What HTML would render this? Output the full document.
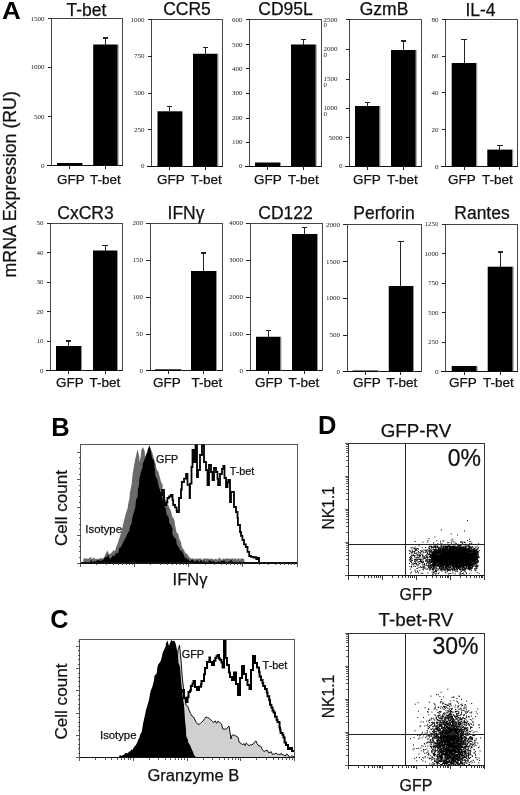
<!DOCTYPE html>
<html><head><meta charset="utf-8"><title>Figure</title>
<style>
html,body{margin:0;padding:0;background:#fff}
svg{display:block}
.s{font-family:"Liberation Sans", Arial, Helvetica, sans-serif}
.r{font-family:"Liberation Serif", "Times New Roman", serif}
</style></head><body>
<svg width="520" height="795" viewBox="0 0 520 795">
<rect width="520" height="795" fill="#fff"/>
<rect x="51.50" y="18.50" width="71.00" height="147.00" fill="none" stroke="#444" stroke-width="1" shape-rendering="crispEdges"/>
<text x="86.50" y="15.50" font-size="17.5" text-anchor="middle" class="s" font-weight="normal" fill="#111" stroke="#111" stroke-width="0.25">T-bet</text>
<line x1="47.50" y1="18.50" x2="51.50" y2="18.50" stroke="#222" stroke-width="1" shape-rendering="crispEdges"/>
<text x="44.50" y="20.70" font-size="7" text-anchor="end" class="r" font-weight="normal" fill="#222">1500</text>
<line x1="47.50" y1="67.00" x2="51.50" y2="67.00" stroke="#222" stroke-width="1" shape-rendering="crispEdges"/>
<text x="44.50" y="69.20" font-size="7" text-anchor="end" class="r" font-weight="normal" fill="#222">1000</text>
<line x1="47.50" y1="116.50" x2="51.50" y2="116.50" stroke="#222" stroke-width="1" shape-rendering="crispEdges"/>
<text x="44.50" y="118.70" font-size="7" text-anchor="end" class="r" font-weight="normal" fill="#222">500</text>
<line x1="47.50" y1="165.50" x2="51.50" y2="165.50" stroke="#222" stroke-width="1" shape-rendering="crispEdges"/>
<text x="44.50" y="167.70" font-size="7" text-anchor="end" class="r" font-weight="normal" fill="#222">0</text>
<line x1="47.00" y1="165.50" x2="122.50" y2="165.50" stroke="#111" stroke-width="1.4" shape-rendering="crispEdges"/>
<rect x="57.00" y="163.00" width="25.00" height="2.50" fill="#000"/>
<rect x="82.00" y="163.00" width="0.90" height="2.50" fill="#888"/>
<line x1="69.50" y1="165.50" x2="69.50" y2="169.00" stroke="#222" stroke-width="1" shape-rendering="crispEdges"/>
<rect x="93.20" y="44.50" width="24.50" height="121.00" fill="#000"/>
<rect x="117.70" y="44.50" width="0.90" height="121.00" fill="#888"/>
<line x1="105.45" y1="38.00" x2="105.45" y2="44.50" stroke="#222" stroke-width="1" shape-rendering="crispEdges"/>
<line x1="102.75" y1="38.00" x2="108.15" y2="38.00" stroke="#222" stroke-width="1.2" shape-rendering="crispEdges"/>
<line x1="105.45" y1="165.50" x2="105.45" y2="169.00" stroke="#222" stroke-width="1" shape-rendering="crispEdges"/>
<text x="71.00" y="184.00" font-size="13.5" text-anchor="middle" class="s" font-weight="normal" fill="#111" stroke="#111" stroke-width="0.25">GFP</text>
<text x="105.50" y="184.00" font-size="13.5" text-anchor="middle" class="s" font-weight="normal" fill="#111" stroke="#111" stroke-width="0.25">T-bet</text>
<rect x="151.50" y="19.50" width="71.00" height="147.00" fill="none" stroke="#444" stroke-width="1" shape-rendering="crispEdges"/>
<text x="187.00" y="15.25" font-size="17.5" text-anchor="middle" class="s" font-weight="normal" fill="#111" stroke="#111" stroke-width="0.25">CCR5</text>
<line x1="147.50" y1="19.50" x2="151.50" y2="19.50" stroke="#222" stroke-width="1" shape-rendering="crispEdges"/>
<text x="144.50" y="21.70" font-size="7" text-anchor="end" class="r" font-weight="normal" fill="#222">1000</text>
<line x1="147.50" y1="56.00" x2="151.50" y2="56.00" stroke="#222" stroke-width="1" shape-rendering="crispEdges"/>
<text x="144.50" y="58.20" font-size="7" text-anchor="end" class="r" font-weight="normal" fill="#222">750</text>
<line x1="147.50" y1="93.00" x2="151.50" y2="93.00" stroke="#222" stroke-width="1" shape-rendering="crispEdges"/>
<text x="144.50" y="95.20" font-size="7" text-anchor="end" class="r" font-weight="normal" fill="#222">500</text>
<line x1="147.50" y1="129.50" x2="151.50" y2="129.50" stroke="#222" stroke-width="1" shape-rendering="crispEdges"/>
<text x="144.50" y="131.70" font-size="7" text-anchor="end" class="r" font-weight="normal" fill="#222">250</text>
<line x1="147.50" y1="166.00" x2="151.50" y2="166.00" stroke="#222" stroke-width="1" shape-rendering="crispEdges"/>
<text x="144.50" y="168.20" font-size="7" text-anchor="end" class="r" font-weight="normal" fill="#222">0</text>
<line x1="147.00" y1="166.50" x2="222.50" y2="166.50" stroke="#111" stroke-width="1.4" shape-rendering="crispEdges"/>
<rect x="157.50" y="111.30" width="24.50" height="55.20" fill="#000"/>
<rect x="182.00" y="111.30" width="0.90" height="55.20" fill="#888"/>
<line x1="169.75" y1="106.50" x2="169.75" y2="111.30" stroke="#222" stroke-width="1" shape-rendering="crispEdges"/>
<line x1="167.05" y1="106.50" x2="172.45" y2="106.50" stroke="#222" stroke-width="1.2" shape-rendering="crispEdges"/>
<line x1="169.75" y1="166.50" x2="169.75" y2="170.00" stroke="#222" stroke-width="1" shape-rendering="crispEdges"/>
<rect x="193.00" y="53.75" width="24.50" height="112.75" fill="#000"/>
<rect x="217.50" y="53.75" width="0.90" height="112.75" fill="#888"/>
<line x1="205.25" y1="47.50" x2="205.25" y2="53.75" stroke="#222" stroke-width="1" shape-rendering="crispEdges"/>
<line x1="202.55" y1="47.50" x2="207.95" y2="47.50" stroke="#222" stroke-width="1.2" shape-rendering="crispEdges"/>
<line x1="205.25" y1="166.50" x2="205.25" y2="170.00" stroke="#222" stroke-width="1" shape-rendering="crispEdges"/>
<text x="171.00" y="184.00" font-size="13.5" text-anchor="middle" class="s" font-weight="normal" fill="#111" stroke="#111" stroke-width="0.25">GFP</text>
<text x="206.50" y="184.00" font-size="13.5" text-anchor="middle" class="s" font-weight="normal" fill="#111" stroke="#111" stroke-width="0.25">T-bet</text>
<rect x="249.50" y="19.50" width="72.00" height="147.00" fill="none" stroke="#444" stroke-width="1" shape-rendering="crispEdges"/>
<text x="285.50" y="14.60" font-size="17.5" text-anchor="middle" class="s" font-weight="normal" fill="#111" stroke="#111" stroke-width="0.25">CD95L</text>
<line x1="245.50" y1="19.50" x2="249.50" y2="19.50" stroke="#222" stroke-width="1" shape-rendering="crispEdges"/>
<text x="242.50" y="21.70" font-size="7" text-anchor="end" class="r" font-weight="normal" fill="#222">600</text>
<line x1="245.50" y1="44.50" x2="249.50" y2="44.50" stroke="#222" stroke-width="1" shape-rendering="crispEdges"/>
<text x="242.50" y="46.70" font-size="7" text-anchor="end" class="r" font-weight="normal" fill="#222">500</text>
<line x1="245.50" y1="68.50" x2="249.50" y2="68.50" stroke="#222" stroke-width="1" shape-rendering="crispEdges"/>
<text x="242.50" y="70.70" font-size="7" text-anchor="end" class="r" font-weight="normal" fill="#222">400</text>
<line x1="245.50" y1="93.00" x2="249.50" y2="93.00" stroke="#222" stroke-width="1" shape-rendering="crispEdges"/>
<text x="242.50" y="95.20" font-size="7" text-anchor="end" class="r" font-weight="normal" fill="#222">300</text>
<line x1="245.50" y1="118.00" x2="249.50" y2="118.00" stroke="#222" stroke-width="1" shape-rendering="crispEdges"/>
<text x="242.50" y="120.20" font-size="7" text-anchor="end" class="r" font-weight="normal" fill="#222">200</text>
<line x1="245.50" y1="142.00" x2="249.50" y2="142.00" stroke="#222" stroke-width="1" shape-rendering="crispEdges"/>
<text x="242.50" y="144.20" font-size="7" text-anchor="end" class="r" font-weight="normal" fill="#222">100</text>
<line x1="245.50" y1="166.00" x2="249.50" y2="166.00" stroke="#222" stroke-width="1" shape-rendering="crispEdges"/>
<text x="242.50" y="168.20" font-size="7" text-anchor="end" class="r" font-weight="normal" fill="#222">0</text>
<line x1="245.00" y1="166.50" x2="321.50" y2="166.50" stroke="#111" stroke-width="1.4" shape-rendering="crispEdges"/>
<rect x="255.00" y="162.50" width="25.00" height="4.00" fill="#000"/>
<rect x="280.00" y="162.50" width="0.90" height="4.00" fill="#888"/>
<line x1="267.50" y1="166.50" x2="267.50" y2="170.00" stroke="#222" stroke-width="1" shape-rendering="crispEdges"/>
<rect x="291.00" y="44.50" width="24.75" height="122.00" fill="#000"/>
<rect x="315.75" y="44.50" width="0.90" height="122.00" fill="#888"/>
<line x1="303.38" y1="39.50" x2="303.38" y2="44.50" stroke="#222" stroke-width="1" shape-rendering="crispEdges"/>
<line x1="300.68" y1="39.50" x2="306.07" y2="39.50" stroke="#222" stroke-width="1.2" shape-rendering="crispEdges"/>
<line x1="303.38" y1="166.50" x2="303.38" y2="170.00" stroke="#222" stroke-width="1" shape-rendering="crispEdges"/>
<text x="268.00" y="184.00" font-size="13.5" text-anchor="middle" class="s" font-weight="normal" fill="#111" stroke="#111" stroke-width="0.25">GFP</text>
<text x="303.50" y="184.00" font-size="13.5" text-anchor="middle" class="s" font-weight="normal" fill="#111" stroke="#111" stroke-width="0.25">T-bet</text>
<rect x="349.50" y="19.50" width="72.00" height="147.00" fill="none" stroke="#444" stroke-width="1" shape-rendering="crispEdges"/>
<text x="384.00" y="14.60" font-size="17.5" text-anchor="middle" class="s" font-weight="normal" fill="#111" stroke="#111" stroke-width="0.25">GzmB</text>
<line x1="345.50" y1="19.50" x2="349.50" y2="19.50" stroke="#222" stroke-width="1" shape-rendering="crispEdges"/>
<text x="323.50" y="21.50" font-size="7" text-anchor="start" class="r" font-weight="normal" fill="#222">2500</text>
<text x="323.50" y="27.40" font-size="7" text-anchor="start" class="r" font-weight="normal" fill="#222">0</text>
<line x1="345.50" y1="49.00" x2="349.50" y2="49.00" stroke="#222" stroke-width="1" shape-rendering="crispEdges"/>
<text x="323.50" y="51.00" font-size="7" text-anchor="start" class="r" font-weight="normal" fill="#222">2000</text>
<text x="323.50" y="56.90" font-size="7" text-anchor="start" class="r" font-weight="normal" fill="#222">0</text>
<line x1="345.50" y1="79.00" x2="349.50" y2="79.00" stroke="#222" stroke-width="1" shape-rendering="crispEdges"/>
<text x="323.50" y="81.00" font-size="7" text-anchor="start" class="r" font-weight="normal" fill="#222">1500</text>
<text x="323.50" y="86.90" font-size="7" text-anchor="start" class="r" font-weight="normal" fill="#222">0</text>
<line x1="345.50" y1="108.00" x2="349.50" y2="108.00" stroke="#222" stroke-width="1" shape-rendering="crispEdges"/>
<text x="323.50" y="110.00" font-size="7" text-anchor="start" class="r" font-weight="normal" fill="#222">1000</text>
<text x="323.50" y="115.90" font-size="7" text-anchor="start" class="r" font-weight="normal" fill="#222">0</text>
<line x1="345.50" y1="137.50" x2="349.50" y2="137.50" stroke="#222" stroke-width="1" shape-rendering="crispEdges"/>
<text x="342.50" y="139.70" font-size="7" text-anchor="end" class="r" font-weight="normal" fill="#222">5000</text>
<line x1="345.50" y1="166.00" x2="349.50" y2="166.00" stroke="#222" stroke-width="1" shape-rendering="crispEdges"/>
<text x="342.50" y="168.20" font-size="7" text-anchor="end" class="r" font-weight="normal" fill="#222">0</text>
<line x1="345.00" y1="166.50" x2="421.50" y2="166.50" stroke="#111" stroke-width="1.4" shape-rendering="crispEdges"/>
<rect x="355.00" y="106.00" width="24.50" height="60.50" fill="#000"/>
<rect x="379.50" y="106.00" width="0.90" height="60.50" fill="#888"/>
<line x1="367.25" y1="102.50" x2="367.25" y2="106.00" stroke="#222" stroke-width="1" shape-rendering="crispEdges"/>
<line x1="364.55" y1="102.50" x2="369.95" y2="102.50" stroke="#222" stroke-width="1.2" shape-rendering="crispEdges"/>
<line x1="367.25" y1="166.50" x2="367.25" y2="170.00" stroke="#222" stroke-width="1" shape-rendering="crispEdges"/>
<rect x="391.00" y="50.00" width="24.75" height="116.50" fill="#000"/>
<rect x="415.75" y="50.00" width="0.90" height="116.50" fill="#888"/>
<line x1="403.38" y1="41.00" x2="403.38" y2="50.00" stroke="#222" stroke-width="1" shape-rendering="crispEdges"/>
<line x1="400.68" y1="41.00" x2="406.07" y2="41.00" stroke="#222" stroke-width="1.2" shape-rendering="crispEdges"/>
<line x1="403.38" y1="166.50" x2="403.38" y2="170.00" stroke="#222" stroke-width="1" shape-rendering="crispEdges"/>
<text x="367.00" y="184.00" font-size="13.5" text-anchor="middle" class="s" font-weight="normal" fill="#111" stroke="#111" stroke-width="0.25">GFP</text>
<text x="402.50" y="184.00" font-size="13.5" text-anchor="middle" class="s" font-weight="normal" fill="#111" stroke="#111" stroke-width="0.25">T-bet</text>
<rect x="445.50" y="19.50" width="72.00" height="147.00" fill="none" stroke="#444" stroke-width="1" shape-rendering="crispEdges"/>
<text x="480.50" y="15.80" font-size="17.5" text-anchor="middle" class="s" font-weight="normal" fill="#111" stroke="#111" stroke-width="0.25">IL-4</text>
<line x1="441.50" y1="19.50" x2="445.50" y2="19.50" stroke="#222" stroke-width="1" shape-rendering="crispEdges"/>
<text x="438.50" y="21.70" font-size="7" text-anchor="end" class="r" font-weight="normal" fill="#222">80</text>
<line x1="441.50" y1="56.00" x2="445.50" y2="56.00" stroke="#222" stroke-width="1" shape-rendering="crispEdges"/>
<text x="438.50" y="58.20" font-size="7" text-anchor="end" class="r" font-weight="normal" fill="#222">60</text>
<line x1="441.50" y1="92.50" x2="445.50" y2="92.50" stroke="#222" stroke-width="1" shape-rendering="crispEdges"/>
<text x="438.50" y="94.70" font-size="7" text-anchor="end" class="r" font-weight="normal" fill="#222">40</text>
<line x1="441.50" y1="129.50" x2="445.50" y2="129.50" stroke="#222" stroke-width="1" shape-rendering="crispEdges"/>
<text x="438.50" y="131.70" font-size="7" text-anchor="end" class="r" font-weight="normal" fill="#222">20</text>
<line x1="441.50" y1="166.50" x2="445.50" y2="166.50" stroke="#222" stroke-width="1" shape-rendering="crispEdges"/>
<text x="438.50" y="168.70" font-size="7" text-anchor="end" class="r" font-weight="normal" fill="#222">0</text>
<line x1="441.00" y1="166.50" x2="517.50" y2="166.50" stroke="#111" stroke-width="1.4" shape-rendering="crispEdges"/>
<rect x="451.70" y="63.00" width="24.60" height="103.50" fill="#000"/>
<rect x="476.30" y="63.00" width="0.90" height="103.50" fill="#888"/>
<line x1="464.00" y1="39.40" x2="464.00" y2="63.00" stroke="#222" stroke-width="1" shape-rendering="crispEdges"/>
<line x1="461.30" y1="39.40" x2="466.70" y2="39.40" stroke="#222" stroke-width="1.2" shape-rendering="crispEdges"/>
<line x1="464.00" y1="166.50" x2="464.00" y2="170.00" stroke="#222" stroke-width="1" shape-rendering="crispEdges"/>
<rect x="487.30" y="149.60" width="25.00" height="16.90" fill="#000"/>
<rect x="512.30" y="149.60" width="0.90" height="16.90" fill="#888"/>
<line x1="499.80" y1="145.20" x2="499.80" y2="149.60" stroke="#222" stroke-width="1" shape-rendering="crispEdges"/>
<line x1="497.10" y1="145.20" x2="502.50" y2="145.20" stroke="#222" stroke-width="1.2" shape-rendering="crispEdges"/>
<line x1="499.80" y1="166.50" x2="499.80" y2="170.00" stroke="#222" stroke-width="1" shape-rendering="crispEdges"/>
<text x="462.00" y="184.00" font-size="13.5" text-anchor="middle" class="s" font-weight="normal" fill="#111" stroke="#111" stroke-width="0.25">GFP</text>
<text x="497.50" y="184.00" font-size="13.5" text-anchor="middle" class="s" font-weight="normal" fill="#111" stroke="#111" stroke-width="0.25">T-bet</text>
<rect x="50.50" y="223.25" width="72.00" height="147.50" fill="none" stroke="#444" stroke-width="1" shape-rendering="crispEdges"/>
<text x="85.50" y="219.40" font-size="17.5" text-anchor="middle" class="s" font-weight="normal" fill="#111" stroke="#111" stroke-width="0.25">CxCR3</text>
<line x1="46.50" y1="223.25" x2="50.50" y2="223.25" stroke="#222" stroke-width="1" shape-rendering="crispEdges"/>
<text x="43.50" y="225.45" font-size="7" text-anchor="end" class="r" font-weight="normal" fill="#222">50</text>
<line x1="46.50" y1="252.50" x2="50.50" y2="252.50" stroke="#222" stroke-width="1" shape-rendering="crispEdges"/>
<text x="43.50" y="254.70" font-size="7" text-anchor="end" class="r" font-weight="normal" fill="#222">40</text>
<line x1="46.50" y1="282.00" x2="50.50" y2="282.00" stroke="#222" stroke-width="1" shape-rendering="crispEdges"/>
<text x="43.50" y="284.20" font-size="7" text-anchor="end" class="r" font-weight="normal" fill="#222">30</text>
<line x1="46.50" y1="311.50" x2="50.50" y2="311.50" stroke="#222" stroke-width="1" shape-rendering="crispEdges"/>
<text x="43.50" y="313.70" font-size="7" text-anchor="end" class="r" font-weight="normal" fill="#222">20</text>
<line x1="46.50" y1="341.00" x2="50.50" y2="341.00" stroke="#222" stroke-width="1" shape-rendering="crispEdges"/>
<text x="43.50" y="343.20" font-size="7" text-anchor="end" class="r" font-weight="normal" fill="#222">10</text>
<line x1="46.50" y1="370.75" x2="50.50" y2="370.75" stroke="#222" stroke-width="1" shape-rendering="crispEdges"/>
<text x="43.50" y="372.95" font-size="7" text-anchor="end" class="r" font-weight="normal" fill="#222">0</text>
<line x1="46.00" y1="370.75" x2="122.50" y2="370.75" stroke="#111" stroke-width="1.4" shape-rendering="crispEdges"/>
<rect x="56.00" y="346.00" width="25.00" height="24.75" fill="#000"/>
<rect x="81.00" y="346.00" width="0.90" height="24.75" fill="#888"/>
<line x1="68.50" y1="341.00" x2="68.50" y2="346.00" stroke="#222" stroke-width="1" shape-rendering="crispEdges"/>
<line x1="65.80" y1="341.00" x2="71.20" y2="341.00" stroke="#222" stroke-width="1.2" shape-rendering="crispEdges"/>
<line x1="68.50" y1="370.75" x2="68.50" y2="374.25" stroke="#222" stroke-width="1" shape-rendering="crispEdges"/>
<rect x="93.00" y="250.50" width="24.00" height="120.25" fill="#000"/>
<rect x="117.00" y="250.50" width="0.90" height="120.25" fill="#888"/>
<line x1="105.00" y1="245.75" x2="105.00" y2="250.50" stroke="#222" stroke-width="1" shape-rendering="crispEdges"/>
<line x1="102.30" y1="245.75" x2="107.70" y2="245.75" stroke="#222" stroke-width="1.2" shape-rendering="crispEdges"/>
<line x1="105.00" y1="370.75" x2="105.00" y2="374.25" stroke="#222" stroke-width="1" shape-rendering="crispEdges"/>
<text x="70.00" y="387.30" font-size="13.5" text-anchor="middle" class="s" font-weight="normal" fill="#111" stroke="#111" stroke-width="0.25">GFP</text>
<text x="105.00" y="387.30" font-size="13.5" text-anchor="middle" class="s" font-weight="normal" fill="#111" stroke="#111" stroke-width="0.25">T-bet</text>
<rect x="150.00" y="223.25" width="72.00" height="147.50" fill="none" stroke="#444" stroke-width="1" shape-rendering="crispEdges"/>
<text x="186.00" y="219.40" font-size="17.5" text-anchor="middle" class="s" font-weight="normal" fill="#111" stroke="#111" stroke-width="0.25">IFNγ</text>
<line x1="146.00" y1="223.25" x2="150.00" y2="223.25" stroke="#222" stroke-width="1" shape-rendering="crispEdges"/>
<text x="143.00" y="225.45" font-size="7" text-anchor="end" class="r" font-weight="normal" fill="#222">200</text>
<line x1="146.00" y1="260.00" x2="150.00" y2="260.00" stroke="#222" stroke-width="1" shape-rendering="crispEdges"/>
<text x="143.00" y="262.20" font-size="7" text-anchor="end" class="r" font-weight="normal" fill="#222">150</text>
<line x1="146.00" y1="297.00" x2="150.00" y2="297.00" stroke="#222" stroke-width="1" shape-rendering="crispEdges"/>
<text x="143.00" y="299.20" font-size="7" text-anchor="end" class="r" font-weight="normal" fill="#222">100</text>
<line x1="146.00" y1="334.00" x2="150.00" y2="334.00" stroke="#222" stroke-width="1" shape-rendering="crispEdges"/>
<text x="143.00" y="336.20" font-size="7" text-anchor="end" class="r" font-weight="normal" fill="#222">50</text>
<line x1="146.00" y1="370.75" x2="150.00" y2="370.75" stroke="#222" stroke-width="1" shape-rendering="crispEdges"/>
<text x="143.00" y="372.95" font-size="7" text-anchor="end" class="r" font-weight="normal" fill="#222">0</text>
<line x1="145.50" y1="370.75" x2="222.00" y2="370.75" stroke="#111" stroke-width="1.4" shape-rendering="crispEdges"/>
<rect x="155.00" y="369.30" width="26.00" height="1.45" fill="#000"/>
<rect x="181.00" y="369.30" width="0.90" height="1.45" fill="#888"/>
<line x1="168.00" y1="370.75" x2="168.00" y2="374.25" stroke="#222" stroke-width="1" shape-rendering="crispEdges"/>
<rect x="191.00" y="271.00" width="25.00" height="99.75" fill="#000"/>
<rect x="216.00" y="271.00" width="0.90" height="99.75" fill="#888"/>
<line x1="203.50" y1="253.00" x2="203.50" y2="271.00" stroke="#222" stroke-width="1" shape-rendering="crispEdges"/>
<line x1="200.80" y1="253.00" x2="206.20" y2="253.00" stroke="#222" stroke-width="1.2" shape-rendering="crispEdges"/>
<line x1="203.50" y1="370.75" x2="203.50" y2="374.25" stroke="#222" stroke-width="1" shape-rendering="crispEdges"/>
<text x="167.00" y="387.30" font-size="13.5" text-anchor="middle" class="s" font-weight="normal" fill="#111" stroke="#111" stroke-width="0.25">GFP</text>
<text x="207.00" y="387.30" font-size="13.5" text-anchor="middle" class="s" font-weight="normal" fill="#111" stroke="#111" stroke-width="0.25">T-bet</text>
<rect x="250.00" y="223.00" width="72.00" height="147.75" fill="none" stroke="#444" stroke-width="1" shape-rendering="crispEdges"/>
<text x="285.50" y="218.70" font-size="17.5" text-anchor="middle" class="s" font-weight="normal" fill="#111" stroke="#111" stroke-width="0.25">CD122</text>
<line x1="246.00" y1="223.25" x2="250.00" y2="223.25" stroke="#222" stroke-width="1" shape-rendering="crispEdges"/>
<text x="243.00" y="225.45" font-size="7" text-anchor="end" class="r" font-weight="normal" fill="#222">4000</text>
<line x1="246.00" y1="260.00" x2="250.00" y2="260.00" stroke="#222" stroke-width="1" shape-rendering="crispEdges"/>
<text x="243.00" y="262.20" font-size="7" text-anchor="end" class="r" font-weight="normal" fill="#222">3000</text>
<line x1="246.00" y1="297.00" x2="250.00" y2="297.00" stroke="#222" stroke-width="1" shape-rendering="crispEdges"/>
<text x="243.00" y="299.20" font-size="7" text-anchor="end" class="r" font-weight="normal" fill="#222">2000</text>
<line x1="246.00" y1="334.00" x2="250.00" y2="334.00" stroke="#222" stroke-width="1" shape-rendering="crispEdges"/>
<text x="243.00" y="336.20" font-size="7" text-anchor="end" class="r" font-weight="normal" fill="#222">1000</text>
<line x1="246.00" y1="370.75" x2="250.00" y2="370.75" stroke="#222" stroke-width="1" shape-rendering="crispEdges"/>
<text x="243.00" y="372.95" font-size="7" text-anchor="end" class="r" font-weight="normal" fill="#222">0</text>
<line x1="245.50" y1="370.75" x2="322.00" y2="370.75" stroke="#111" stroke-width="1.4" shape-rendering="crispEdges"/>
<rect x="256.00" y="336.75" width="24.50" height="34.00" fill="#000"/>
<rect x="280.50" y="336.75" width="0.90" height="34.00" fill="#888"/>
<line x1="268.25" y1="330.75" x2="268.25" y2="336.75" stroke="#222" stroke-width="1" shape-rendering="crispEdges"/>
<line x1="265.55" y1="330.75" x2="270.95" y2="330.75" stroke="#222" stroke-width="1.2" shape-rendering="crispEdges"/>
<line x1="268.25" y1="370.75" x2="268.25" y2="374.25" stroke="#222" stroke-width="1" shape-rendering="crispEdges"/>
<rect x="292.00" y="234.00" width="25.00" height="136.75" fill="#000"/>
<rect x="317.00" y="234.00" width="0.90" height="136.75" fill="#888"/>
<line x1="304.50" y1="227.50" x2="304.50" y2="234.00" stroke="#222" stroke-width="1" shape-rendering="crispEdges"/>
<line x1="301.80" y1="227.50" x2="307.20" y2="227.50" stroke="#222" stroke-width="1.2" shape-rendering="crispEdges"/>
<line x1="304.50" y1="370.75" x2="304.50" y2="374.25" stroke="#222" stroke-width="1" shape-rendering="crispEdges"/>
<text x="269.00" y="387.30" font-size="13.5" text-anchor="middle" class="s" font-weight="normal" fill="#111" stroke="#111" stroke-width="0.25">GFP</text>
<text x="304.00" y="387.30" font-size="13.5" text-anchor="middle" class="s" font-weight="normal" fill="#111" stroke="#111" stroke-width="0.25">T-bet</text>
<rect x="347.00" y="224.50" width="74.00" height="147.25" fill="none" stroke="#444" stroke-width="1" shape-rendering="crispEdges"/>
<text x="384.00" y="218.60" font-size="17.5" text-anchor="middle" class="s" font-weight="normal" fill="#111" stroke="#111" stroke-width="0.25">Perforin</text>
<line x1="343.00" y1="224.50" x2="347.00" y2="224.50" stroke="#222" stroke-width="1" shape-rendering="crispEdges"/>
<text x="340.00" y="226.70" font-size="7" text-anchor="end" class="r" font-weight="normal" fill="#222">2000</text>
<line x1="343.00" y1="261.50" x2="347.00" y2="261.50" stroke="#222" stroke-width="1" shape-rendering="crispEdges"/>
<text x="340.00" y="263.70" font-size="7" text-anchor="end" class="r" font-weight="normal" fill="#222">1500</text>
<line x1="343.00" y1="298.00" x2="347.00" y2="298.00" stroke="#222" stroke-width="1" shape-rendering="crispEdges"/>
<text x="340.00" y="300.20" font-size="7" text-anchor="end" class="r" font-weight="normal" fill="#222">1000</text>
<line x1="343.00" y1="335.00" x2="347.00" y2="335.00" stroke="#222" stroke-width="1" shape-rendering="crispEdges"/>
<text x="340.00" y="337.20" font-size="7" text-anchor="end" class="r" font-weight="normal" fill="#222">500</text>
<line x1="343.00" y1="371.75" x2="347.00" y2="371.75" stroke="#222" stroke-width="1" shape-rendering="crispEdges"/>
<text x="340.00" y="373.95" font-size="7" text-anchor="end" class="r" font-weight="normal" fill="#222">0</text>
<line x1="342.50" y1="371.75" x2="421.00" y2="371.75" stroke="#111" stroke-width="1.4" shape-rendering="crispEdges"/>
<rect x="352.50" y="370.50" width="25.50" height="1.25" fill="#000"/>
<rect x="378.00" y="370.50" width="0.90" height="1.25" fill="#888"/>
<line x1="365.25" y1="371.75" x2="365.25" y2="375.25" stroke="#222" stroke-width="1" shape-rendering="crispEdges"/>
<rect x="388.75" y="286.00" width="24.25" height="85.75" fill="#000"/>
<rect x="413.00" y="286.00" width="0.90" height="85.75" fill="#888"/>
<line x1="400.88" y1="241.75" x2="400.88" y2="286.00" stroke="#222" stroke-width="1" shape-rendering="crispEdges"/>
<line x1="398.18" y1="241.75" x2="403.57" y2="241.75" stroke="#222" stroke-width="1.2" shape-rendering="crispEdges"/>
<line x1="400.88" y1="371.75" x2="400.88" y2="375.25" stroke="#222" stroke-width="1" shape-rendering="crispEdges"/>
<text x="367.00" y="387.30" font-size="13.5" text-anchor="middle" class="s" font-weight="normal" fill="#111" stroke="#111" stroke-width="0.25">GFP</text>
<text x="402.00" y="387.30" font-size="13.5" text-anchor="middle" class="s" font-weight="normal" fill="#111" stroke="#111" stroke-width="0.25">T-bet</text>
<rect x="445.50" y="224.00" width="72.00" height="147.30" fill="none" stroke="#444" stroke-width="1" shape-rendering="crispEdges"/>
<text x="482.00" y="218.70" font-size="17.5" text-anchor="middle" class="s" font-weight="normal" fill="#111" stroke="#111" stroke-width="0.25">Rantes</text>
<line x1="441.50" y1="224.20" x2="445.50" y2="224.20" stroke="#222" stroke-width="1" shape-rendering="crispEdges"/>
<text x="438.50" y="226.40" font-size="7" text-anchor="end" class="r" font-weight="normal" fill="#222">1250</text>
<line x1="441.50" y1="253.30" x2="445.50" y2="253.30" stroke="#222" stroke-width="1" shape-rendering="crispEdges"/>
<text x="438.50" y="255.50" font-size="7" text-anchor="end" class="r" font-weight="normal" fill="#222">1000</text>
<line x1="441.50" y1="283.00" x2="445.50" y2="283.00" stroke="#222" stroke-width="1" shape-rendering="crispEdges"/>
<text x="438.50" y="285.20" font-size="7" text-anchor="end" class="r" font-weight="normal" fill="#222">750</text>
<line x1="441.50" y1="312.50" x2="445.50" y2="312.50" stroke="#222" stroke-width="1" shape-rendering="crispEdges"/>
<text x="438.50" y="314.70" font-size="7" text-anchor="end" class="r" font-weight="normal" fill="#222">500</text>
<line x1="441.50" y1="342.00" x2="445.50" y2="342.00" stroke="#222" stroke-width="1" shape-rendering="crispEdges"/>
<text x="438.50" y="344.20" font-size="7" text-anchor="end" class="r" font-weight="normal" fill="#222">250</text>
<line x1="441.50" y1="371.30" x2="445.50" y2="371.30" stroke="#222" stroke-width="1" shape-rendering="crispEdges"/>
<text x="438.50" y="373.50" font-size="7" text-anchor="end" class="r" font-weight="normal" fill="#222">0</text>
<line x1="441.00" y1="371.30" x2="517.50" y2="371.30" stroke="#111" stroke-width="1.4" shape-rendering="crispEdges"/>
<rect x="451.70" y="366.00" width="25.00" height="5.30" fill="#000"/>
<rect x="476.70" y="366.00" width="0.90" height="5.30" fill="#888"/>
<line x1="464.20" y1="371.30" x2="464.20" y2="374.80" stroke="#222" stroke-width="1" shape-rendering="crispEdges"/>
<rect x="487.70" y="266.70" width="25.00" height="104.60" fill="#000"/>
<rect x="512.70" y="266.70" width="0.90" height="104.60" fill="#888"/>
<line x1="500.20" y1="252.00" x2="500.20" y2="266.70" stroke="#222" stroke-width="1" shape-rendering="crispEdges"/>
<line x1="497.50" y1="252.00" x2="502.90" y2="252.00" stroke="#222" stroke-width="1.2" shape-rendering="crispEdges"/>
<line x1="500.20" y1="371.30" x2="500.20" y2="374.80" stroke="#222" stroke-width="1" shape-rendering="crispEdges"/>
<text x="463.00" y="387.30" font-size="13.5" text-anchor="middle" class="s" font-weight="normal" fill="#111" stroke="#111" stroke-width="0.25">GFP</text>
<text x="498.50" y="387.30" font-size="13.5" text-anchor="middle" class="s" font-weight="normal" fill="#111" stroke="#111" stroke-width="0.25">T-bet</text>
<text transform="translate(2,18.8) scale(1.06,1)" font-size="24.5" class="s" font-weight="bold" fill="#000">A</text>
<text transform="translate(51.2,436) scale(1.02,1)" font-size="25" class="s" font-weight="bold" fill="#000">B</text>
<text transform="translate(50.2,627.6)" font-size="25.2" class="s" font-weight="bold" fill="#000">C</text>
<text transform="translate(318,434) scale(1.02,1)" font-size="25" class="s" font-weight="bold" fill="#000">D</text>
<text transform="translate(16.1,184.3) rotate(-90) scale(1,1.03)" font-size="17.75" text-anchor="middle" class="s" fill="#111" stroke="#111" stroke-width="0.25">mRNA Expression (RU)</text>
<rect x="80.50" y="444.00" width="216.50" height="119.00" fill="none" stroke="#555" stroke-width="1" shape-rendering="crispEdges"/>
<path d="M83.0 563.0 L83.6 558.6 L84.6 558.0 L85.7 558.7 L86.7 558.2 L87.7 558.8 L88.8 558.8 L89.8 557.4 L90.9 557.3 L91.9 559.3 L92.9 557.9 L94.0 557.8 L95.0 558.4 L96.0 559.6 L97.0 558.4 L98.0 559.2 L99.0 558.4 L100.0 558.8 L101.0 557.6 L102.0 558.8 L103.0 558.5 L104.3 557.1 L105.5 554.0 L107.4 550.6 L109.0 554.0 L110.0 554.1 L111.0 553.0 L112.1 552.5 L113.2 550.2 L114.4 550.9 L115.5 549.4 L116.1 546.9 L117.5 544.0 L119.2 538.8 L121.0 533.0 L122.4 527.5 L124.2 520.0 L126.0 513.0 L127.7 507.9 L128.0 505.0 L129.4 498.4 L130.0 492.0 L131.6 484.4 L132.5 475.0 L133.6 468.5 L135.0 460.0 L136.2 455.2 L137.5 449.0 L139.2 456.5 L139.5 462.0 L141.0 455.0 L141.3 450.0 L143.0 447.0 L144.8 451.8 L145.0 458.0 L146.2 454.8 L147.0 452.0 L148.3 448.0 L149.5 445.0 L150.4 448.1 L152.0 451.9 L153.0 455.0 L154.3 459.7 L155.6 463.5 L156.3 467.4 L157.0 470.0 L158.6 472.2 L159.7 477.1 L160.4 479.2 L161.0 482.0 L162.6 484.6 L162.6 488.7 L164.6 490.7 L165.0 495.0 L165.3 499.2 L166.8 501.7 L167.6 503.2 L169.0 507.0 L170.7 510.6 L171.2 511.9 L172.0 516.0 L173.4 517.9 L174.7 521.6 L175.0 525.0 L176.0 529.4 L176.7 532.7 L178.2 533.7 L179.0 538.0 L179.5 539.3 L181.2 542.6 L181.2 544.4 L182.7 548.5 L184.0 550.0 L185.0 552.4 L186.0 553.6 L187.0 553.7 L188.0 555.2 L189.0 556.7 L190.0 558.0 L191.0 558.4 L192.0 558.4 L193.0 558.4 L194.0 558.6 L195.0 559.5 L196.0 558.5 L197.0 558.4 L198.0 559.2 L199.0 558.1 L200.0 558.8 L201.0 558.3 L202.0 560.0 L203.0 558.9 L204.0 559.0 L205.0 557.7 L206.0 558.7 L207.0 559.1 L208.0 557.8 L209.0 559.2 L210.0 559.3 L211.0 557.9 L212.0 559.3 L213.0 558.9 L214.0 559.4 L215.0 559.0 L216.0 558.6 L217.0 559.5 L218.0 559.5 L219.0 557.8 L220.0 557.9 L221.0 559.3 L222.0 560.0 L223.0 558.3 L224.0 558.8 L225.0 559.1 L226.0 558.4 L227.0 558.5 L228.0 558.4 L229.0 558.5 L230.0 558.8 L231.0 559.0 L232.0 558.3 L233.0 558.5 L234.0 559.5 L235.0 557.7 L236.0 559.1 L237.0 559.5 L238.0 558.5 L239.0 558.3 L240.0 559.7 L241.0 558.3 L242.0 558.2 L243.0 558.8 L244.0 559.0 L245.0 563.0Z" fill="#6a6a6a" stroke="none" stroke-width="1" stroke-linejoin="miter"/>
<path d="M84.0 563.0 L84.0 561.8 L85.0 562.1 L86.0 562.4 L87.0 562.5 L88.0 562.8 L89.0 562.2 L90.0 562.7 L91.0 559.8 L92.0 561.1 L93.0 562.6 L94.0 561.5 L95.0 561.0 L96.0 562.2 L97.0 559.6 L98.0 560.7 L99.0 559.9 L100.0 560.8 L101.0 560.9 L102.0 559.0 L103.0 560.5 L104.0 558.4 L105.0 557.5 L106.0 557.0 L107.0 557.1 L108.0 554.5 L109.5 558.0 L110.6 558.4 L111.8 557.0 L112.8 555.2 L113.9 556.6 L115.0 555.0 L116.2 552.8 L117.4 553.4 L118.6 552.0 L118.9 548.3 L121.0 547.0 L121.5 545.9 L123.0 542.5 L125.1 539.1 L125.5 537.5 L126.4 536.2 L128.0 532.5 L129.1 531.2 L130.0 527.0 L131.8 522.5 L132.3 517.8 L134.0 512.0 L135.3 507.4 L136.0 500.0 L137.7 496.5 L137.8 489.4 L139.0 485.0 L139.5 478.1 L141.0 471.9 L142.5 467.5 L142.8 463.7 L144.5 459.7 L146.0 455.0 L147.7 451.4 L148.0 448.9 L149.5 446.0 L151.1 451.9 L152.0 458.0 L153.9 460.6 L154.4 464.5 L155.0 470.0 L155.4 476.1 L157.5 480.0 L158.5 485.9 L160.0 490.0 L160.1 493.6 L161.4 495.2 L163.0 500.0 L163.5 505.1 L165.8 508.2 L166.0 511.0 L166.7 515.1 L168.0 515.9 L169.0 519.0 L169.3 522.9 L171.0 525.0 L172.5 529.0 L172.2 532.7 L173.3 536.2 L175.0 538.0 L176.2 539.9 L176.7 544.1 L178.1 546.6 L178.7 547.0 L180.0 550.0 L181.1 550.4 L182.1 551.5 L183.2 553.2 L184.3 556.3 L185.4 558.7 L186.4 557.5 L187.5 560.0 L188.5 558.7 L189.6 561.8 L190.6 560.4 L191.7 560.1 L192.7 559.7 L193.8 561.0 L194.8 561.8 L195.8 560.7 L196.9 560.7 L197.9 559.7 L199.0 562.5 L200.0 561.3 L201.0 559.8 L202.0 561.3 L203.0 562.4 L204.0 560.1 L205.0 562.1 L206.0 562.8 L207.0 561.8 L208.0 562.3 L209.0 560.1 L210.0 561.1 L211.0 560.2 L212.0 562.5 L213.0 560.7 L214.0 561.2 L215.0 562.8 L216.0 562.5 L217.0 562.8 L218.0 561.2 L219.0 561.4 L220.0 562.1 L221.0 561.3 L222.0 560.7 L223.0 561.1 L224.0 560.3 L225.0 561.0 L226.0 562.8 L227.0 562.8 L228.0 561.8 L229.0 561.4 L230.0 560.9 L231.0 560.1 L232.0 560.7 L233.0 562.4 L234.0 562.6 L235.0 561.0 L236.0 562.4 L237.0 562.4 L238.0 562.1 L239.0 562.0 L240.0 561.5 L241.0 563.0Z" fill="#000" stroke="none" stroke-width="1" stroke-linejoin="miter"/>
<path d="M157.0 488.0 V490.4 H158.6 V493.0 H160.0 V495.0 H162.0 V490.0 H164.0 V505.0 H166.0 V502.5 H167.4 V498.0 H169.0 V496.5 H170.8 V495.0 H172.5 V500.2 H173.2 V505.0 H175.0 V507.4 H176.6 V510.4 H176.9 V512.0 H179.0 V498.0 H181.0 V489.5 H181.8 V482.0 H184.0 V478.7 H186.1 V474.0 H187.5 V484.9 H189.6 V498.0 H190.0 V483.6 H191.5 V467.0 H192.5 V450.0 H194.0 V462.0 H195.5 V445.5 H197.0 V477.0 H198.0 V470.0 H200.0 V455.0 H202.0 V445.5 H204.0 V462.0 H206.0 V470.0 H207.5 V485.0 H209.0 V465.0 H211.0 V472.0 H212.5 V480.0 H214.0 V468.0 H216.0 V472.0 H217.5 V478.8 H218.1 V485.0 H220.0 V474.0 H222.0 V468.8 H223.3 V466.0 H224.5 V478.0 H226.0 V487.0 H227.5 V482.4 H228.2 V480.0 H230.0 V502.0 H231.0 V492.0 H232.5 V492.0 H234.0 V507.0 H236.0 V512.0 H237.5 V517.9 H237.9 V525.0 H240.0 V532.0 H241.0 V535.9 H242.4 V540.0 H244.0 V544.3 H245.8 V547.0 H247.5 V551.8 H249.2 V556.0 H251.0 V556.9 H252.3 V556.9 H253.7 V557.5 H255.0 V557.1 H256.3 V559.0 H257.7 V558.0 H259.0 V563.0 H259.5" fill="none" stroke="#000" stroke-width="1.8"/>
<line x1="80.50" y1="563.00" x2="297.00" y2="563.00" stroke="#111" stroke-width="1.3" shape-rendering="crispEdges"/>
<line x1="80.50" y1="563.00" x2="80.50" y2="566.50" stroke="#333" stroke-width="0.8" shape-rendering="crispEdges"/>
<line x1="96.79" y1="563.00" x2="96.79" y2="565.00" stroke="#333" stroke-width="0.8" shape-rendering="crispEdges"/>
<line x1="106.32" y1="563.00" x2="106.32" y2="565.00" stroke="#333" stroke-width="0.8" shape-rendering="crispEdges"/>
<line x1="113.09" y1="563.00" x2="113.09" y2="565.00" stroke="#333" stroke-width="0.8" shape-rendering="crispEdges"/>
<line x1="118.33" y1="563.00" x2="118.33" y2="565.00" stroke="#333" stroke-width="0.8" shape-rendering="crispEdges"/>
<line x1="122.62" y1="563.00" x2="122.62" y2="565.00" stroke="#333" stroke-width="0.8" shape-rendering="crispEdges"/>
<line x1="126.24" y1="563.00" x2="126.24" y2="565.00" stroke="#333" stroke-width="0.8" shape-rendering="crispEdges"/>
<line x1="129.38" y1="563.00" x2="129.38" y2="565.00" stroke="#333" stroke-width="0.8" shape-rendering="crispEdges"/>
<line x1="132.15" y1="563.00" x2="132.15" y2="565.00" stroke="#333" stroke-width="0.8" shape-rendering="crispEdges"/>
<line x1="134.62" y1="563.00" x2="134.62" y2="566.50" stroke="#333" stroke-width="0.8" shape-rendering="crispEdges"/>
<line x1="150.92" y1="563.00" x2="150.92" y2="565.00" stroke="#333" stroke-width="0.8" shape-rendering="crispEdges"/>
<line x1="160.45" y1="563.00" x2="160.45" y2="565.00" stroke="#333" stroke-width="0.8" shape-rendering="crispEdges"/>
<line x1="167.21" y1="563.00" x2="167.21" y2="565.00" stroke="#333" stroke-width="0.8" shape-rendering="crispEdges"/>
<line x1="172.46" y1="563.00" x2="172.46" y2="565.00" stroke="#333" stroke-width="0.8" shape-rendering="crispEdges"/>
<line x1="176.74" y1="563.00" x2="176.74" y2="565.00" stroke="#333" stroke-width="0.8" shape-rendering="crispEdges"/>
<line x1="180.37" y1="563.00" x2="180.37" y2="565.00" stroke="#333" stroke-width="0.8" shape-rendering="crispEdges"/>
<line x1="183.50" y1="563.00" x2="183.50" y2="565.00" stroke="#333" stroke-width="0.8" shape-rendering="crispEdges"/>
<line x1="186.27" y1="563.00" x2="186.27" y2="565.00" stroke="#333" stroke-width="0.8" shape-rendering="crispEdges"/>
<line x1="188.75" y1="563.00" x2="188.75" y2="566.50" stroke="#333" stroke-width="0.8" shape-rendering="crispEdges"/>
<line x1="205.04" y1="563.00" x2="205.04" y2="565.00" stroke="#333" stroke-width="0.8" shape-rendering="crispEdges"/>
<line x1="214.57" y1="563.00" x2="214.57" y2="565.00" stroke="#333" stroke-width="0.8" shape-rendering="crispEdges"/>
<line x1="221.34" y1="563.00" x2="221.34" y2="565.00" stroke="#333" stroke-width="0.8" shape-rendering="crispEdges"/>
<line x1="226.58" y1="563.00" x2="226.58" y2="565.00" stroke="#333" stroke-width="0.8" shape-rendering="crispEdges"/>
<line x1="230.87" y1="563.00" x2="230.87" y2="565.00" stroke="#333" stroke-width="0.8" shape-rendering="crispEdges"/>
<line x1="234.49" y1="563.00" x2="234.49" y2="565.00" stroke="#333" stroke-width="0.8" shape-rendering="crispEdges"/>
<line x1="237.63" y1="563.00" x2="237.63" y2="565.00" stroke="#333" stroke-width="0.8" shape-rendering="crispEdges"/>
<line x1="240.40" y1="563.00" x2="240.40" y2="565.00" stroke="#333" stroke-width="0.8" shape-rendering="crispEdges"/>
<line x1="242.88" y1="563.00" x2="242.88" y2="566.50" stroke="#333" stroke-width="0.8" shape-rendering="crispEdges"/>
<line x1="259.17" y1="563.00" x2="259.17" y2="565.00" stroke="#333" stroke-width="0.8" shape-rendering="crispEdges"/>
<line x1="268.70" y1="563.00" x2="268.70" y2="565.00" stroke="#333" stroke-width="0.8" shape-rendering="crispEdges"/>
<line x1="275.46" y1="563.00" x2="275.46" y2="565.00" stroke="#333" stroke-width="0.8" shape-rendering="crispEdges"/>
<line x1="280.71" y1="563.00" x2="280.71" y2="565.00" stroke="#333" stroke-width="0.8" shape-rendering="crispEdges"/>
<line x1="284.99" y1="563.00" x2="284.99" y2="565.00" stroke="#333" stroke-width="0.8" shape-rendering="crispEdges"/>
<line x1="288.62" y1="563.00" x2="288.62" y2="565.00" stroke="#333" stroke-width="0.8" shape-rendering="crispEdges"/>
<line x1="291.75" y1="563.00" x2="291.75" y2="565.00" stroke="#333" stroke-width="0.8" shape-rendering="crispEdges"/>
<line x1="294.52" y1="563.00" x2="294.52" y2="565.00" stroke="#333" stroke-width="0.8" shape-rendering="crispEdges"/>
<line x1="297.00" y1="563.00" x2="297.00" y2="566.50" stroke="#333" stroke-width="0.8" shape-rendering="crispEdges"/>
<line x1="77.00" y1="563.00" x2="80.50" y2="563.00" stroke="#333" stroke-width="0.8" shape-rendering="crispEdges"/>
<line x1="78.50" y1="557.46" x2="80.50" y2="557.46" stroke="#333" stroke-width="0.8" shape-rendering="crispEdges"/>
<line x1="78.50" y1="551.92" x2="80.50" y2="551.92" stroke="#333" stroke-width="0.8" shape-rendering="crispEdges"/>
<line x1="78.50" y1="546.38" x2="80.50" y2="546.38" stroke="#333" stroke-width="0.8" shape-rendering="crispEdges"/>
<line x1="78.50" y1="540.84" x2="80.50" y2="540.84" stroke="#333" stroke-width="0.8" shape-rendering="crispEdges"/>
<line x1="77.00" y1="535.30" x2="80.50" y2="535.30" stroke="#333" stroke-width="0.8" shape-rendering="crispEdges"/>
<line x1="78.50" y1="529.76" x2="80.50" y2="529.76" stroke="#333" stroke-width="0.8" shape-rendering="crispEdges"/>
<line x1="78.50" y1="524.22" x2="80.50" y2="524.22" stroke="#333" stroke-width="0.8" shape-rendering="crispEdges"/>
<line x1="78.50" y1="518.68" x2="80.50" y2="518.68" stroke="#333" stroke-width="0.8" shape-rendering="crispEdges"/>
<line x1="78.50" y1="513.14" x2="80.50" y2="513.14" stroke="#333" stroke-width="0.8" shape-rendering="crispEdges"/>
<line x1="77.00" y1="507.60" x2="80.50" y2="507.60" stroke="#333" stroke-width="0.8" shape-rendering="crispEdges"/>
<line x1="78.50" y1="502.06" x2="80.50" y2="502.06" stroke="#333" stroke-width="0.8" shape-rendering="crispEdges"/>
<line x1="78.50" y1="496.52" x2="80.50" y2="496.52" stroke="#333" stroke-width="0.8" shape-rendering="crispEdges"/>
<line x1="78.50" y1="490.98" x2="80.50" y2="490.98" stroke="#333" stroke-width="0.8" shape-rendering="crispEdges"/>
<line x1="78.50" y1="485.44" x2="80.50" y2="485.44" stroke="#333" stroke-width="0.8" shape-rendering="crispEdges"/>
<line x1="77.00" y1="479.90" x2="80.50" y2="479.90" stroke="#333" stroke-width="0.8" shape-rendering="crispEdges"/>
<line x1="78.50" y1="474.36" x2="80.50" y2="474.36" stroke="#333" stroke-width="0.8" shape-rendering="crispEdges"/>
<line x1="78.50" y1="468.82" x2="80.50" y2="468.82" stroke="#333" stroke-width="0.8" shape-rendering="crispEdges"/>
<line x1="78.50" y1="463.28" x2="80.50" y2="463.28" stroke="#333" stroke-width="0.8" shape-rendering="crispEdges"/>
<line x1="78.50" y1="457.74" x2="80.50" y2="457.74" stroke="#333" stroke-width="0.8" shape-rendering="crispEdges"/>
<line x1="77.00" y1="452.20" x2="80.50" y2="452.20" stroke="#333" stroke-width="0.8" shape-rendering="crispEdges"/>
<text x="85.30" y="533.40" font-size="11.4" text-anchor="start" class="s" font-weight="normal" fill="#111" stroke="#111" stroke-width="0.25">Isotype</text>
<text x="167.10" y="462.50" font-size="10.8" text-anchor="middle" class="s" font-weight="normal" fill="#111" stroke="#111" stroke-width="0.25">GFP</text>
<text x="242.00" y="475.00" font-size="10.8" text-anchor="middle" class="s" font-weight="normal" fill="#111" stroke="#111" stroke-width="0.25">T-bet</text>
<text transform="translate(67,508) rotate(-90) scale(1,0.93)" font-size="17.1" text-anchor="middle" class="s" fill="#111" stroke="#111" stroke-width="0.25">Cell count</text>
<text x="190.00" y="585.00" font-size="16.5" text-anchor="middle" class="s" font-weight="normal" fill="#111" stroke="#111" stroke-width="0.25">IFNγ</text>
<rect x="79.50" y="639.25" width="215.00" height="118.50" fill="none" stroke="#555" stroke-width="1" shape-rendering="crispEdges"/>
<path d="M172.0 757.0 L174.0 700.0 L176.0 670.0 L178.0 650.0 L179.5 645.0 L181.0 660.0 L182.5 680.0 L184.0 692.0 L186.0 705.0 L187.8 706.3 L189.0 710.0 L190.5 713.5 L192.0 716.0 L193.5 717.0 L195.0 720.0 L196.3 722.6 L197.7 724.1 L199.0 724.5 L200.3 723.4 L201.7 722.2 L203.0 721.0 L204.5 718.9 L206.0 716.9 L207.5 717.5 L209.2 718.3 L211.0 720.0 L212.5 721.6 L214.0 722.5 L215.2 720.8 L216.5 723.3 L217.8 721.2 L219.0 722.0 L220.2 722.8 L221.5 723.9 L222.8 729.0 L224.0 729.0 L225.2 729.1 L226.5 728.9 L227.8 727.2 L229.0 726.0 L231.0 739.0 L231.9 735.3 L233.5 735.0 L234.8 735.5 L236.0 736.0 L238.3 737.6 L239.0 742.0 L240.8 743.0 L242.5 745.0 L243.8 743.5 L245.0 745.6 L246.2 742.9 L247.5 744.0 L249.0 745.9 L250.5 744.5 L252.0 745.0 L253.3 743.9 L254.7 741.8 L256.0 741.0 L256.9 743.4 L259.0 746.0 L260.8 746.3 L262.5 750.0 L264.2 751.6 L266.0 750.5 L267.3 750.2 L268.7 752.8 L270.0 752.5 L271.2 751.6 L272.4 754.4 L273.6 754.2 L274.8 753.8 L276.0 753.0 L277.3 754.3 L278.6 754.1 L279.9 755.0 L281.2 753.2 L282.5 755.0 L283.9 754.9 L285.2 756.2 L286.6 753.9 L288.0 755.0 L289.2 756.9 L290.4 757.0 L291.6 755.9 L292.8 756.1 L294.0 757.0" fill="#d0d0d0" stroke="#111" stroke-width="1" stroke-linejoin="miter"/>
<path d="M116.0 757.0 L117.0 757.0 L118.0 757.0 L119.0 757.0 L120.0 754.8 L121.0 756.0 L122.0 755.5 L123.0 754.9 L124.0 754.8 L125.0 753.2 L126.0 753.0 L127.0 753.3 L128.0 753.0 L129.1 751.5 L130.2 751.4 L131.4 749.4 L132.5 750.0 L134.0 747.1 L134.8 746.3 L135.6 745.4 L137.0 743.0 L138.5 739.1 L139.3 737.9 L140.0 735.0 L141.8 731.7 L142.5 727.3 L143.0 724.0 L144.1 719.1 L145.0 715.0 L145.9 710.4 L147.5 705.0 L149.0 700.0 L150.0 693.8 L151.0 690.0 L152.2 687.3 L153.3 683.2 L154.0 680.0 L154.4 676.1 L156.6 673.5 L157.0 671.0 L157.3 667.4 L158.2 664.4 L160.1 662.1 L161.0 660.0 L161.7 657.6 L162.6 653.0 L164.0 650.0 L165.7 646.3 L165.9 643.8 L167.5 640.5 L169.0 646.0 L170.5 641.9 L171.0 640.0 L172.0 640.7 L173.0 641.3 L174.0 640.5 L175.1 642.0 L176.0 645.0 L177.2 651.2 L178.0 655.0 L178.4 662.2 L180.0 667.0 L181.0 680.0 L182.5 695.0 L184.0 705.0 L185.0 720.0 L186.0 730.0 L186.2 736.3 L188.0 740.0 L188.1 742.3 L190.0 745.0 L191.3 748.2 L192.5 751.0 L193.0 752.0 L194.1 754.9 L195.4 756.7 L196.0 757.0Z" fill="#000" stroke="none" stroke-width="1" stroke-linejoin="miter"/>
<path d="M181.0 700.0 V692.0 H182.5 V690.0 H184.0 V698.0 H186.0 V702.0 H187.5 V697.2 H188.5 V692.0 H190.0 V690.4 H190.9 V686.0 H192.5 V683.5 H193.5 V681.0 H195.0 V687.0 H197.0 V690.0 H199.0 V686.7 H201.1 V684.0 H201.5 V680.9 H202.8 V681.0 H204.0 V674.3 H205.0 V668.0 H207.0 V662.1 H209.4 V657.5 H210.0 V662.0 H212.0 V665.0 H214.0 V660.8 H215.4 V658.0 H216.5 V656.2 H217.8 V655.0 H219.0 V658.4 H220.2 V660.0 H221.5 V662.4 H222.6 V667.5 H224.0 V641.0 H225.5 V658.0 H227.0 V664.9 H229.0 V672.5 H230.0 V677.0 H232.0 V680.0 H234.0 V672.5 H236.0 V684.0 H238.0 V695.0 H240.0 V678.0 H242.0 V666.0 H244.0 V674.0 H246.0 V680.0 H247.5 V685.0 H249.5 V689.0 H251.0 V670.0 H253.0 V656.0 H255.0 V663.0 H257.0 V667.5 H259.0 V671.9 H259.6 V676.5 H261.0 V680.0 H262.5 V683.0 H263.2 V686.0 H265.0 V688.9 H266.8 V692.5 H267.5 V696.3 H269.2 V700.0 H270.0 V704.8 H271.4 V707.5 H272.5 V710.6 H273.6 V712.5 H275.0 V716.7 H276.7 V720.0 H277.5 V722.1 H279.5 V727.5 H280.0 V729.7 H280.6 V733.0 H282.5 V734.8 H283.4 V737.6 H284.6 V742.5 H286.0 V745.0 H288.0 V749.0 H290.0 V748.0 H292.0 V751.0 H294.0" fill="none" stroke="#000" stroke-width="2"/>
<line x1="79.50" y1="757.75" x2="294.50" y2="757.75" stroke="#111" stroke-width="1.3" shape-rendering="crispEdges"/>
<line x1="79.50" y1="757.75" x2="79.50" y2="761.25" stroke="#333" stroke-width="0.8" shape-rendering="crispEdges"/>
<line x1="95.68" y1="757.75" x2="95.68" y2="759.75" stroke="#333" stroke-width="0.8" shape-rendering="crispEdges"/>
<line x1="105.15" y1="757.75" x2="105.15" y2="759.75" stroke="#333" stroke-width="0.8" shape-rendering="crispEdges"/>
<line x1="111.86" y1="757.75" x2="111.86" y2="759.75" stroke="#333" stroke-width="0.8" shape-rendering="crispEdges"/>
<line x1="117.07" y1="757.75" x2="117.07" y2="759.75" stroke="#333" stroke-width="0.8" shape-rendering="crispEdges"/>
<line x1="121.33" y1="757.75" x2="121.33" y2="759.75" stroke="#333" stroke-width="0.8" shape-rendering="crispEdges"/>
<line x1="124.92" y1="757.75" x2="124.92" y2="759.75" stroke="#333" stroke-width="0.8" shape-rendering="crispEdges"/>
<line x1="128.04" y1="757.75" x2="128.04" y2="759.75" stroke="#333" stroke-width="0.8" shape-rendering="crispEdges"/>
<line x1="130.79" y1="757.75" x2="130.79" y2="759.75" stroke="#333" stroke-width="0.8" shape-rendering="crispEdges"/>
<line x1="133.25" y1="757.75" x2="133.25" y2="761.25" stroke="#333" stroke-width="0.8" shape-rendering="crispEdges"/>
<line x1="149.43" y1="757.75" x2="149.43" y2="759.75" stroke="#333" stroke-width="0.8" shape-rendering="crispEdges"/>
<line x1="158.90" y1="757.75" x2="158.90" y2="759.75" stroke="#333" stroke-width="0.8" shape-rendering="crispEdges"/>
<line x1="165.61" y1="757.75" x2="165.61" y2="759.75" stroke="#333" stroke-width="0.8" shape-rendering="crispEdges"/>
<line x1="170.82" y1="757.75" x2="170.82" y2="759.75" stroke="#333" stroke-width="0.8" shape-rendering="crispEdges"/>
<line x1="175.08" y1="757.75" x2="175.08" y2="759.75" stroke="#333" stroke-width="0.8" shape-rendering="crispEdges"/>
<line x1="178.67" y1="757.75" x2="178.67" y2="759.75" stroke="#333" stroke-width="0.8" shape-rendering="crispEdges"/>
<line x1="181.79" y1="757.75" x2="181.79" y2="759.75" stroke="#333" stroke-width="0.8" shape-rendering="crispEdges"/>
<line x1="184.54" y1="757.75" x2="184.54" y2="759.75" stroke="#333" stroke-width="0.8" shape-rendering="crispEdges"/>
<line x1="187.00" y1="757.75" x2="187.00" y2="761.25" stroke="#333" stroke-width="0.8" shape-rendering="crispEdges"/>
<line x1="203.18" y1="757.75" x2="203.18" y2="759.75" stroke="#333" stroke-width="0.8" shape-rendering="crispEdges"/>
<line x1="212.65" y1="757.75" x2="212.65" y2="759.75" stroke="#333" stroke-width="0.8" shape-rendering="crispEdges"/>
<line x1="219.36" y1="757.75" x2="219.36" y2="759.75" stroke="#333" stroke-width="0.8" shape-rendering="crispEdges"/>
<line x1="224.57" y1="757.75" x2="224.57" y2="759.75" stroke="#333" stroke-width="0.8" shape-rendering="crispEdges"/>
<line x1="228.83" y1="757.75" x2="228.83" y2="759.75" stroke="#333" stroke-width="0.8" shape-rendering="crispEdges"/>
<line x1="232.42" y1="757.75" x2="232.42" y2="759.75" stroke="#333" stroke-width="0.8" shape-rendering="crispEdges"/>
<line x1="235.54" y1="757.75" x2="235.54" y2="759.75" stroke="#333" stroke-width="0.8" shape-rendering="crispEdges"/>
<line x1="238.29" y1="757.75" x2="238.29" y2="759.75" stroke="#333" stroke-width="0.8" shape-rendering="crispEdges"/>
<line x1="240.75" y1="757.75" x2="240.75" y2="761.25" stroke="#333" stroke-width="0.8" shape-rendering="crispEdges"/>
<line x1="256.93" y1="757.75" x2="256.93" y2="759.75" stroke="#333" stroke-width="0.8" shape-rendering="crispEdges"/>
<line x1="266.40" y1="757.75" x2="266.40" y2="759.75" stroke="#333" stroke-width="0.8" shape-rendering="crispEdges"/>
<line x1="273.11" y1="757.75" x2="273.11" y2="759.75" stroke="#333" stroke-width="0.8" shape-rendering="crispEdges"/>
<line x1="278.32" y1="757.75" x2="278.32" y2="759.75" stroke="#333" stroke-width="0.8" shape-rendering="crispEdges"/>
<line x1="282.58" y1="757.75" x2="282.58" y2="759.75" stroke="#333" stroke-width="0.8" shape-rendering="crispEdges"/>
<line x1="286.17" y1="757.75" x2="286.17" y2="759.75" stroke="#333" stroke-width="0.8" shape-rendering="crispEdges"/>
<line x1="289.29" y1="757.75" x2="289.29" y2="759.75" stroke="#333" stroke-width="0.8" shape-rendering="crispEdges"/>
<line x1="292.04" y1="757.75" x2="292.04" y2="759.75" stroke="#333" stroke-width="0.8" shape-rendering="crispEdges"/>
<line x1="294.50" y1="757.75" x2="294.50" y2="761.25" stroke="#333" stroke-width="0.8" shape-rendering="crispEdges"/>
<line x1="76.00" y1="757.75" x2="79.50" y2="757.75" stroke="#333" stroke-width="0.8" shape-rendering="crispEdges"/>
<line x1="77.50" y1="753.29" x2="79.50" y2="753.29" stroke="#333" stroke-width="0.8" shape-rendering="crispEdges"/>
<line x1="77.50" y1="748.83" x2="79.50" y2="748.83" stroke="#333" stroke-width="0.8" shape-rendering="crispEdges"/>
<line x1="77.50" y1="744.37" x2="79.50" y2="744.37" stroke="#333" stroke-width="0.8" shape-rendering="crispEdges"/>
<line x1="77.50" y1="739.91" x2="79.50" y2="739.91" stroke="#333" stroke-width="0.8" shape-rendering="crispEdges"/>
<line x1="76.00" y1="735.45" x2="79.50" y2="735.45" stroke="#333" stroke-width="0.8" shape-rendering="crispEdges"/>
<line x1="77.50" y1="730.99" x2="79.50" y2="730.99" stroke="#333" stroke-width="0.8" shape-rendering="crispEdges"/>
<line x1="77.50" y1="726.53" x2="79.50" y2="726.53" stroke="#333" stroke-width="0.8" shape-rendering="crispEdges"/>
<line x1="77.50" y1="722.07" x2="79.50" y2="722.07" stroke="#333" stroke-width="0.8" shape-rendering="crispEdges"/>
<line x1="77.50" y1="717.61" x2="79.50" y2="717.61" stroke="#333" stroke-width="0.8" shape-rendering="crispEdges"/>
<line x1="76.00" y1="713.15" x2="79.50" y2="713.15" stroke="#333" stroke-width="0.8" shape-rendering="crispEdges"/>
<line x1="77.50" y1="708.69" x2="79.50" y2="708.69" stroke="#333" stroke-width="0.8" shape-rendering="crispEdges"/>
<line x1="77.50" y1="704.23" x2="79.50" y2="704.23" stroke="#333" stroke-width="0.8" shape-rendering="crispEdges"/>
<line x1="77.50" y1="699.77" x2="79.50" y2="699.77" stroke="#333" stroke-width="0.8" shape-rendering="crispEdges"/>
<line x1="77.50" y1="695.31" x2="79.50" y2="695.31" stroke="#333" stroke-width="0.8" shape-rendering="crispEdges"/>
<line x1="76.00" y1="690.85" x2="79.50" y2="690.85" stroke="#333" stroke-width="0.8" shape-rendering="crispEdges"/>
<line x1="77.50" y1="686.39" x2="79.50" y2="686.39" stroke="#333" stroke-width="0.8" shape-rendering="crispEdges"/>
<line x1="77.50" y1="681.93" x2="79.50" y2="681.93" stroke="#333" stroke-width="0.8" shape-rendering="crispEdges"/>
<line x1="77.50" y1="677.47" x2="79.50" y2="677.47" stroke="#333" stroke-width="0.8" shape-rendering="crispEdges"/>
<line x1="77.50" y1="673.01" x2="79.50" y2="673.01" stroke="#333" stroke-width="0.8" shape-rendering="crispEdges"/>
<line x1="76.00" y1="668.55" x2="79.50" y2="668.55" stroke="#333" stroke-width="0.8" shape-rendering="crispEdges"/>
<line x1="77.50" y1="664.09" x2="79.50" y2="664.09" stroke="#333" stroke-width="0.8" shape-rendering="crispEdges"/>
<line x1="77.50" y1="659.63" x2="79.50" y2="659.63" stroke="#333" stroke-width="0.8" shape-rendering="crispEdges"/>
<line x1="77.50" y1="655.17" x2="79.50" y2="655.17" stroke="#333" stroke-width="0.8" shape-rendering="crispEdges"/>
<line x1="77.50" y1="650.71" x2="79.50" y2="650.71" stroke="#333" stroke-width="0.8" shape-rendering="crispEdges"/>
<line x1="76.00" y1="646.25" x2="79.50" y2="646.25" stroke="#333" stroke-width="0.8" shape-rendering="crispEdges"/>
<line x1="77.50" y1="641.79" x2="79.50" y2="641.79" stroke="#333" stroke-width="0.8" shape-rendering="crispEdges"/>
<text x="100.00" y="738.75" font-size="11.3" text-anchor="start" class="s" font-weight="normal" fill="#111" stroke="#111" stroke-width="0.25">Isotype</text>
<text x="192.90" y="658.00" font-size="10.9" text-anchor="middle" class="s" font-weight="normal" fill="#111" stroke="#111" stroke-width="0.25">GFP</text>
<text x="275.00" y="668.75" font-size="10.9" text-anchor="middle" class="s" font-weight="normal" fill="#111" stroke="#111" stroke-width="0.25">T-bet</text>
<text transform="translate(67,701.6) rotate(-90) scale(1,0.93)" font-size="17.1" text-anchor="middle" class="s" fill="#111" stroke="#111" stroke-width="0.25">Cell count</text>
<text x="147.50" y="780.50" font-size="16.5" text-anchor="start" class="s" font-weight="normal" fill="#111" stroke="#111" stroke-width="0.25">Granzyme B</text>
<rect x="348.00" y="443.00" width="136.40" height="132.60" fill="none" stroke="#333" stroke-width="1" shape-rendering="crispEdges"/>
<path d="M447.6 560.5h1M470.6 569.0h1M436.1 553.2h1M442.0 555.6h1M452.9 549.7h1M459.0 548.8h1M463.0 552.0h1M459.5 560.3h1M453.6 553.9h1M444.0 550.6h1M477.8 561.3h1M460.8 559.8h1M446.8 556.1h1M432.5 563.8h1M469.7 567.0h1M476.7 551.2h1M466.6 559.2h1M441.0 551.9h1M467.1 568.9h1M461.8 553.3h1M467.6 564.6h1M437.8 562.4h1M441.0 557.8h1M462.5 557.9h1M433.2 560.0h1M434.4 562.0h1M447.9 554.5h1M444.8 558.9h1M459.0 569.1h1M461.9 564.6h1M438.4 564.3h1M468.1 566.2h1M476.1 551.9h1M435.7 552.7h1M445.8 566.4h1M455.8 563.9h1M452.8 548.5h1M442.0 561.0h1M466.0 556.5h1M460.1 566.4h1M450.0 570.1h1M440.4 569.6h1M433.8 566.1h1M455.2 547.8h1M456.9 561.0h1M463.7 558.2h1M452.4 555.6h1M456.5 565.2h1M462.0 561.9h1M457.8 566.4h1M437.0 552.0h1M439.5 555.2h1M449.6 558.1h1M451.9 549.9h1M444.2 552.0h1M449.9 554.5h1M451.6 547.1h1M470.0 560.6h1M444.2 554.4h1M441.8 561.8h1M448.3 564.3h1M477.4 548.9h1M438.0 560.8h1M446.7 553.1h1M448.8 560.2h1M434.5 558.0h1M471.4 553.9h1M449.3 560.3h1M469.5 563.8h1M462.2 567.9h1M445.4 568.1h1M463.8 555.5h1M433.5 567.5h1M459.0 561.1h1M449.1 562.7h1M468.2 568.2h1M460.0 569.5h1M447.1 557.2h1M445.3 551.4h1M459.4 557.3h1M458.1 558.5h1M432.6 554.6h1M460.9 549.6h1M451.9 554.9h1M439.9 548.8h1M445.8 558.9h1M463.2 547.5h1M457.3 561.3h1M429.1 548.7h1M463.3 562.2h1M463.6 567.9h1M465.8 566.4h1M455.0 557.6h1M441.5 558.2h1M449.3 553.7h1M464.5 559.9h1M448.5 558.9h1M460.1 560.4h1M444.8 561.8h1M448.1 559.5h1M447.1 548.2h1M470.5 551.1h1M436.2 562.2h1M452.5 563.6h1M435.3 555.4h1M462.0 563.0h1M445.7 555.1h1M444.4 558.0h1M448.2 550.7h1M452.0 566.6h1M463.7 554.9h1M464.0 548.2h1M445.9 556.9h1M449.2 553.3h1M454.9 569.3h1M454.2 560.1h1M450.1 563.2h1M432.5 554.7h1M475.2 558.2h1M458.3 564.9h1M435.6 560.2h1M464.2 558.5h1M451.1 563.0h1M461.8 563.1h1M470.4 561.6h1M448.6 545.7h1M452.3 549.1h1M449.4 558.2h1M436.5 560.6h1M434.9 563.3h1M450.8 559.0h1M441.0 554.8h1M444.9 559.5h1M474.0 559.3h1M450.6 555.8h1M440.9 562.4h1M441.9 552.4h1M465.4 547.2h1M440.5 550.4h1M452.9 555.6h1M444.3 564.5h1M453.6 562.2h1M449.0 557.6h1M446.8 557.0h1M457.8 555.3h1M458.6 553.0h1M460.9 547.0h1M463.3 556.5h1M462.9 557.2h1M454.0 558.1h1M449.2 557.6h1M443.9 559.2h1M435.2 567.0h1M432.4 568.5h1M462.2 561.5h1M477.0 554.3h1M461.0 563.6h1M444.7 556.3h1M456.1 560.0h1M440.5 557.1h1M445.6 563.0h1M447.1 562.4h1M455.7 554.1h1M467.6 561.2h1M451.1 564.1h1M476.5 546.3h1M467.8 558.2h1M467.8 561.3h1M462.5 557.2h1M465.3 550.4h1M452.1 547.7h1M451.0 553.6h1M438.6 564.7h1M446.4 553.2h1M454.8 562.7h1M463.6 554.9h1M459.1 558.6h1M454.2 553.3h1M458.8 547.9h1M469.5 563.4h1M451.8 554.5h1M451.5 563.3h1M430.6 562.1h1M445.2 569.6h1M463.4 565.8h1M452.5 556.3h1M442.6 567.6h1M451.1 558.7h1M437.8 558.9h1M440.6 558.7h1M474.3 554.1h1M440.7 559.7h1M456.3 553.1h1M431.5 558.6h1M461.7 559.3h1M474.8 560.3h1M461.4 549.1h1M452.4 556.5h1M444.8 562.5h1M449.5 561.4h1M448.0 560.6h1M471.5 560.8h1M469.7 558.5h1M434.2 563.8h1M450.8 551.1h1M477.1 557.9h1M451.7 549.1h1M471.3 557.1h1M441.3 562.0h1M470.5 562.7h1M469.1 564.1h1M438.8 551.6h1M463.8 566.2h1M440.7 557.8h1M446.8 558.1h1M446.4 559.0h1M454.5 563.5h1M456.5 564.5h1M464.8 555.5h1M463.9 553.4h1M458.0 554.7h1M469.2 555.1h1M456.3 564.0h1M458.9 557.5h1M436.4 558.8h1M472.0 557.4h1M449.4 561.5h1M459.1 556.0h1M444.6 557.9h1M433.6 553.3h1M443.2 566.9h1M431.8 557.7h1M446.0 549.3h1M461.5 564.3h1M450.0 555.3h1M455.6 561.9h1M459.4 555.6h1M446.3 557.8h1M434.9 555.8h1M471.6 558.3h1M452.0 550.5h1M438.3 562.8h1M452.4 550.4h1M435.8 554.1h1M477.9 557.5h1M449.2 559.0h1M434.0 556.6h1M475.2 552.3h1M447.0 562.4h1M439.5 557.4h1M456.9 556.7h1M453.8 546.8h1M453.9 566.7h1M453.8 552.2h1M431.6 550.0h1M453.0 552.2h1M475.9 557.2h1M456.6 568.4h1M461.0 563.0h1M433.6 549.7h1M469.9 558.5h1M429.1 561.3h1M441.0 547.1h1M452.4 553.6h1M447.9 546.4h1M456.5 555.0h1M452.2 547.0h1M433.3 555.9h1M445.4 552.8h1M473.0 557.6h1M448.5 550.4h1M440.7 561.9h1M470.9 562.8h1M461.8 558.8h1M471.6 564.6h1M444.3 561.3h1M451.3 553.9h1M441.5 563.6h1M466.5 561.2h1M462.3 560.3h1M463.2 563.1h1M445.1 554.3h1M452.6 559.1h1M460.4 555.1h1M437.4 557.1h1M436.4 557.5h1M469.1 548.3h1M447.3 546.7h1M435.4 557.5h1M454.6 559.0h1M456.9 560.7h1M449.0 549.8h1M459.3 558.3h1M466.1 560.3h1M449.0 560.8h1M441.3 555.3h1M442.0 553.4h1M435.3 553.0h1M460.5 548.5h1M464.9 561.6h1M455.7 552.0h1M472.4 553.2h1M454.5 563.2h1M442.4 562.0h1M446.3 565.0h1M449.3 555.5h1M461.7 558.7h1M446.8 562.3h1M432.0 564.0h1M471.7 556.7h1M449.1 558.4h1M446.2 563.8h1M446.3 559.9h1M466.0 565.0h1M462.1 556.9h1M472.3 558.5h1M452.3 569.5h1M454.2 558.7h1M449.7 563.2h1M441.9 560.0h1M447.2 561.8h1M455.9 559.2h1M446.5 559.0h1M468.5 550.0h1M435.7 558.4h1M446.5 560.9h1M451.4 561.7h1M429.0 561.9h1M464.1 559.0h1M470.1 559.7h1M430.3 557.6h1M451.6 554.1h1M453.1 547.4h1M458.7 560.6h1M435.8 558.1h1M475.2 566.1h1M440.8 562.5h1M447.1 555.7h1M436.0 557.6h1M447.9 550.9h1M453.6 559.0h1M450.6 553.6h1M458.7 548.9h1M438.3 553.8h1M459.3 566.8h1M475.8 550.3h1M453.7 562.4h1M463.5 565.2h1M429.4 553.1h1M444.3 554.6h1M474.7 563.8h1M466.8 555.8h1M448.5 564.3h1M438.6 564.5h1M439.0 558.3h1M447.4 560.7h1M439.4 559.0h1M468.2 556.4h1M442.2 550.3h1M461.5 556.7h1M468.7 554.7h1M466.3 565.0h1M465.7 564.6h1M460.7 559.0h1M471.6 558.4h1M471.7 555.7h1M436.1 560.6h1M460.8 548.7h1M446.8 559.5h1M458.4 550.5h1M467.3 556.0h1M449.5 563.8h1M453.2 555.0h1M475.7 558.4h1M450.7 557.3h1M439.1 564.9h1M439.2 555.9h1M459.3 552.6h1M462.7 560.1h1M475.5 561.8h1M443.5 563.2h1M466.9 556.5h1M458.5 562.4h1M463.0 560.6h1M456.6 564.5h1M449.2 558.2h1M458.7 556.3h1M467.1 561.1h1M451.8 563.7h1M447.1 560.1h1M438.2 553.7h1M445.8 553.7h1M452.6 560.9h1M457.5 565.7h1M439.9 561.2h1M476.7 554.6h1M476.8 553.4h1M455.1 559.3h1M452.6 554.3h1M451.7 555.4h1M439.9 554.0h1M430.4 560.3h1M451.9 553.5h1M440.5 557.8h1M447.4 560.3h1M458.4 565.7h1M468.7 559.9h1M439.4 557.6h1M445.9 547.4h1M446.9 556.7h1M469.4 570.0h1M439.1 558.9h1M458.8 565.8h1M441.8 562.8h1M444.8 559.7h1M459.3 555.6h1M446.6 554.3h1M445.9 563.5h1M436.7 556.4h1M448.8 558.6h1M458.8 557.3h1M441.3 555.4h1M446.7 555.9h1M443.0 550.1h1M476.1 557.3h1M451.9 563.1h1M450.0 555.7h1M468.2 559.3h1M469.2 566.4h1M466.1 550.3h1M440.8 560.6h1M461.3 561.2h1M462.0 560.5h1M460.4 547.7h1M466.4 566.5h1M465.5 555.7h1M468.6 563.0h1M466.0 557.3h1M444.9 554.4h1M442.8 567.4h1M444.3 551.7h1M450.4 563.0h1M429.5 559.6h1M453.2 565.2h1M456.3 555.5h1M458.3 567.6h1M469.4 549.7h1M463.0 562.5h1M464.6 547.3h1M460.0 554.7h1M450.5 561.6h1M460.2 554.9h1M451.6 560.6h1M465.8 558.1h1M474.1 558.2h1M464.3 557.6h1M435.5 557.3h1M447.2 553.4h1M445.2 553.4h1M456.7 562.0h1M431.6 552.0h1M458.2 557.5h1M471.6 555.4h1M469.2 548.4h1M437.8 558.8h1M450.9 558.6h1M441.4 562.4h1M465.3 561.7h1M445.0 555.0h1M471.3 552.2h1M433.2 566.3h1M464.4 549.5h1M456.5 560.2h1M445.1 562.1h1M455.3 554.5h1M447.7 558.2h1M454.3 552.3h1M467.0 552.6h1M453.6 559.6h1M453.6 562.9h1M448.5 567.1h1M466.7 550.3h1M435.1 560.4h1M471.1 559.5h1M436.1 555.7h1M451.9 569.5h1M446.2 562.9h1M467.3 562.5h1M472.2 557.6h1M464.3 553.4h1M458.3 555.8h1M448.4 551.0h1M452.8 566.7h1M447.1 568.5h1M438.1 552.3h1M445.2 547.2h1M474.3 548.5h1M439.3 562.5h1M476.1 554.6h1M439.7 565.3h1M468.8 557.7h1M456.5 561.9h1M469.5 561.1h1M458.0 559.0h1M436.8 550.6h1M453.1 559.0h1M464.0 553.4h1M432.1 565.9h1M466.9 564.6h1M442.3 563.6h1M446.1 558.7h1M470.9 554.8h1M461.3 563.6h1M429.8 549.6h1M452.9 560.2h1M460.5 560.0h1M439.2 557.7h1M438.7 550.6h1M437.0 546.3h1M445.9 554.0h1M443.0 561.0h1M457.3 562.5h1M431.2 567.7h1M472.8 551.4h1M452.4 553.0h1M448.7 560.5h1M463.9 549.3h1M453.3 556.5h1M451.7 546.9h1M431.7 556.1h1M462.7 549.6h1M447.7 564.5h1M459.6 555.6h1M461.1 552.7h1M452.4 554.6h1M468.6 551.6h1M446.8 555.2h1M467.4 550.2h1M463.9 561.4h1M446.9 561.1h1M450.0 556.3h1M454.6 565.3h1M441.1 561.3h1M447.0 554.9h1M468.0 552.0h1M463.6 569.2h1M453.2 563.3h1M461.3 561.6h1M468.0 549.0h1M461.1 561.3h1M441.7 560.2h1M448.4 555.8h1M461.1 562.4h1M432.0 553.3h1M449.2 556.5h1M458.5 554.7h1M447.9 558.2h1M466.3 558.8h1M443.9 564.8h1M447.9 560.6h1M461.8 564.6h1M454.6 555.0h1M452.2 559.1h1M442.0 560.8h1M455.8 556.4h1M460.5 554.5h1M474.0 563.2h1M439.6 551.8h1M442.1 552.8h1M448.3 553.8h1M449.5 561.0h1M437.9 555.0h1M463.7 548.9h1M464.1 552.8h1M460.5 554.9h1M435.2 558.4h1M465.6 558.2h1M437.8 563.7h1M476.0 550.9h1M433.3 564.8h1M453.2 555.3h1M450.7 553.3h1M450.6 553.1h1M469.0 561.0h1M473.0 556.0h1M466.9 557.4h1M453.2 560.1h1M461.8 558.4h1M456.4 566.7h1M452.7 551.2h1M444.0 560.5h1M468.4 561.3h1M466.8 564.9h1M458.3 555.0h1M455.5 552.5h1M443.3 555.1h1M438.1 553.5h1M473.6 557.8h1M443.7 554.7h1M445.3 567.7h1M468.6 569.5h1M458.9 559.8h1M465.1 556.0h1M447.4 552.4h1M465.6 560.8h1M455.6 558.0h1M474.7 555.5h1M449.4 561.9h1M454.3 560.3h1M465.7 561.9h1M463.9 562.0h1M457.4 559.0h1M447.4 551.6h1M447.4 557.1h1M446.8 562.8h1M452.0 561.5h1M451.5 557.7h1M435.6 561.4h1M466.7 549.7h1M451.9 546.5h1M465.1 557.9h1M476.5 552.2h1M471.8 557.5h1M441.0 553.2h1M463.2 559.4h1M444.8 550.3h1M464.2 550.4h1M453.8 562.8h1M470.9 554.9h1M463.7 555.1h1M456.9 552.7h1M462.4 559.1h1M473.1 549.1h1M448.6 553.9h1M452.0 562.0h1M443.3 567.0h1M457.3 568.8h1M450.3 559.5h1M434.2 559.6h1M462.4 562.4h1M434.0 552.9h1M450.5 547.1h1M434.5 561.4h1M462.5 553.2h1M450.5 557.1h1M445.7 560.1h1M462.4 563.6h1M457.6 555.1h1M458.8 562.5h1M461.5 562.2h1M449.5 560.0h1M455.6 553.5h1M436.5 550.2h1M434.9 564.5h1M433.6 557.6h1M443.3 549.0h1M460.6 555.0h1M456.7 554.1h1M466.8 556.8h1M460.1 553.6h1M450.0 553.6h1M446.1 552.3h1M432.1 552.3h1M452.0 555.2h1M444.8 557.4h1M463.7 550.6h1M469.8 553.4h1M453.5 556.7h1M446.4 561.0h1M459.4 558.0h1M447.6 555.4h1M429.3 563.5h1M466.0 559.4h1M435.8 552.6h1M452.0 558.5h1M449.3 557.1h1M456.9 565.4h1M457.4 558.9h1M460.7 556.3h1M459.5 547.2h1M456.0 556.8h1M474.6 550.2h1M458.5 561.7h1M459.1 564.5h1M456.3 555.3h1M458.1 552.7h1M467.6 556.5h1M463.8 560.6h1M463.0 551.0h1M464.6 555.9h1M458.2 552.8h1M445.3 546.2h1M453.6 552.0h1M444.1 559.0h1M442.2 556.0h1M464.8 559.5h1M459.4 548.9h1M448.6 570.5h1M475.8 554.3h1M455.3 562.2h1M454.0 560.7h1M454.8 559.7h1M441.4 561.3h1M455.8 553.0h1M454.4 550.8h1M451.8 561.9h1M463.8 560.6h1M450.0 547.1h1M449.8 554.7h1M448.9 556.8h1M474.3 560.1h1M460.3 557.5h1M449.2 561.7h1M445.6 546.7h1M432.7 554.0h1M473.0 558.1h1M442.9 551.4h1M457.7 552.3h1M445.7 555.1h1M436.3 560.1h1M452.2 555.0h1M431.0 547.2h1M462.3 559.5h1M474.4 559.6h1M447.2 552.0h1M454.3 561.7h1M443.0 557.8h1M469.3 566.4h1M459.4 562.1h1M461.5 550.8h1M464.0 561.2h1M468.3 556.4h1M438.0 551.1h1M451.3 557.0h1M453.7 562.6h1M473.2 561.4h1M436.4 561.7h1M444.5 556.4h1M449.4 556.7h1M452.6 550.5h1M456.6 554.4h1M453.6 548.5h1M472.2 552.1h1M434.6 554.4h1M461.4 555.6h1M431.1 558.4h1M457.8 550.4h1M470.4 565.8h1M475.8 558.5h1M451.4 555.9h1M461.8 554.7h1M468.2 569.3h1M473.3 558.4h1M465.3 562.6h1M460.7 559.3h1M466.3 562.4h1M441.2 553.2h1M458.5 547.3h1M448.1 555.2h1M447.7 557.0h1M448.2 552.3h1M456.3 563.9h1M470.4 558.5h1M472.5 563.3h1M447.8 556.1h1M442.2 558.7h1M441.2 561.1h1M444.8 556.1h1M443.6 553.3h1M452.5 554.1h1M452.0 566.4h1M445.9 556.8h1M443.0 558.1h1M467.7 555.1h1M459.9 549.5h1M446.0 554.1h1M440.6 552.5h1M458.4 550.4h1M447.7 556.5h1M455.7 557.4h1M476.6 557.6h1M453.9 548.4h1M448.7 561.4h1M456.1 553.5h1M449.1 551.9h1M433.8 554.9h1M470.5 560.9h1M438.0 550.1h1M449.5 549.7h1M443.7 565.1h1M441.7 561.2h1M472.6 563.4h1M464.6 561.3h1M457.6 558.4h1M453.1 547.9h1M468.7 560.5h1M467.0 550.9h1M455.7 559.1h1M450.7 550.5h1M435.5 552.9h1M446.6 557.6h1M458.7 560.8h1M431.4 562.0h1M442.7 556.8h1M436.1 561.8h1M465.6 554.2h1M463.1 552.3h1M469.2 561.5h1M467.4 557.9h1M457.3 555.6h1M470.8 550.7h1M468.2 560.9h1M446.9 554.8h1M460.1 555.0h1M441.1 564.7h1M459.4 566.0h1M462.8 557.1h1M465.4 563.6h1M450.2 563.6h1M461.6 557.4h1M455.4 554.8h1M435.6 552.6h1M455.0 561.1h1M466.8 559.2h1M470.0 550.4h1M446.6 554.1h1M440.8 552.2h1M442.6 559.0h1M455.8 566.4h1M444.9 555.5h1M473.3 549.8h1M464.7 570.1h1M456.4 560.0h1M469.7 568.8h1M443.9 558.4h1M471.9 566.5h1M435.2 556.7h1M448.3 554.4h1M475.7 554.6h1M459.9 561.0h1M450.6 568.9h1M464.5 552.5h1M461.6 554.4h1M436.6 559.1h1M462.7 561.8h1M456.5 556.4h1M467.9 558.0h1M453.6 559.4h1M441.4 554.4h1M454.0 551.8h1M441.7 565.8h1M440.4 554.1h1M454.0 553.4h1M451.7 557.4h1M471.6 554.8h1M455.8 558.3h1M477.0 560.1h1M469.7 549.6h1M472.5 564.2h1M451.5 557.4h1M439.8 548.4h1M449.2 565.1h1M477.6 560.5h1M459.1 560.2h1M469.0 552.6h1M441.4 561.7h1M449.1 558.7h1M445.7 566.4h1M456.2 566.9h1M458.1 551.4h1M447.9 560.8h1M458.5 555.5h1M472.7 566.3h1M453.2 546.2h1M447.4 560.1h1M431.2 552.3h1M469.9 562.9h1M458.3 555.3h1M442.1 554.4h1M462.8 558.9h1M469.2 558.1h1M451.8 552.6h1M440.6 550.3h1M440.1 559.2h1M468.8 551.8h1M450.3 560.5h1M453.8 558.7h1M460.2 556.9h1M462.9 557.5h1M456.6 558.2h1M451.4 555.1h1M464.0 565.4h1M459.3 556.5h1M442.3 563.1h1M439.7 563.2h1M455.5 557.6h1M452.7 567.6h1M448.0 559.7h1M443.7 555.0h1M458.8 556.9h1M448.4 556.1h1M434.4 557.4h1M459.3 547.1h1M442.8 560.2h1M450.4 553.9h1M448.4 557.3h1M438.9 552.7h1M455.1 557.7h1M445.4 560.6h1M474.5 563.6h1M439.9 562.0h1M442.6 558.9h1M449.1 557.1h1M433.2 556.8h1M466.7 560.0h1M472.5 555.3h1M448.9 564.6h1M444.6 562.9h1M457.6 548.9h1M471.7 558.3h1M442.0 552.8h1M443.9 546.7h1M459.4 556.6h1M454.8 565.1h1M451.7 569.7h1M440.5 554.3h1M452.2 569.0h1M437.5 550.9h1M471.8 546.6h1M473.8 553.2h1M456.3 548.8h1M441.6 559.4h1M462.0 557.9h1M432.3 554.3h1M442.1 551.9h1M452.6 550.5h1M447.5 556.5h1M439.0 551.5h1M467.6 563.6h1M451.0 553.9h1M468.0 561.5h1M468.0 559.5h1M466.3 553.7h1M437.2 556.4h1M451.4 552.3h1M433.1 555.9h1M447.2 560.9h1M437.2 565.3h1M461.1 563.0h1M448.1 554.0h1M460.0 560.2h1M445.4 553.3h1M447.1 559.9h1M449.1 548.8h1M431.9 564.7h1M462.0 553.9h1M454.7 552.8h1M431.9 557.7h1M460.5 561.0h1M469.5 554.7h1M454.1 560.3h1M442.4 550.0h1M455.8 552.8h1M453.4 551.9h1M449.4 555.5h1M470.5 568.5h1M456.2 557.1h1M473.1 554.8h1M470.3 557.7h1M453.5 547.2h1M465.7 554.5h1M440.6 554.9h1M456.4 559.8h1M451.2 557.9h1M467.4 555.7h1M462.3 547.8h1M452.0 554.1h1M461.7 555.4h1M444.5 560.4h1M463.4 549.3h1M443.3 549.1h1M464.3 567.9h1M436.4 564.1h1M451.6 557.3h1M462.1 554.1h1M469.9 568.5h1M474.2 561.7h1M466.7 562.3h1M443.7 561.0h1M438.9 555.6h1M467.8 555.6h1M444.5 550.3h1M449.1 551.3h1M455.1 557.7h1M447.0 557.6h1M432.4 554.1h1M470.4 563.8h1M449.6 559.2h1M459.7 569.0h1M457.4 551.5h1M438.5 554.1h1M465.1 554.0h1M458.6 555.5h1M430.7 554.7h1M440.5 549.2h1M455.2 550.7h1M457.0 554.9h1M449.3 558.0h1M466.7 554.2h1M437.9 551.6h1M454.2 559.2h1M450.6 559.6h1M459.4 563.9h1M468.9 560.1h1M465.4 568.4h1M454.1 551.4h1M452.8 561.4h1M453.7 558.7h1M454.8 554.6h1M477.4 565.5h1M437.8 560.2h1M466.6 556.5h1M466.0 553.5h1M458.4 550.8h1M459.3 557.7h1M465.6 559.2h1M439.8 555.7h1M462.9 555.7h1M443.9 556.2h1M450.6 557.6h1M429.2 551.9h1M432.5 552.9h1M470.0 565.8h1M437.6 563.1h1M441.1 565.4h1M462.4 567.0h1M454.9 558.8h1M460.1 560.8h1M441.1 563.5h1M447.1 564.0h1M459.0 560.9h1M437.8 559.8h1M458.3 557.5h1M457.2 558.3h1M455.2 560.4h1M445.0 555.1h1M453.5 557.0h1M456.8 546.8h1M465.2 563.4h1M446.5 566.3h1M443.1 552.1h1M460.0 562.5h1M458.1 550.5h1M468.3 545.7h1M462.3 567.6h1M449.5 562.3h1M442.7 555.6h1M454.0 557.5h1M452.9 553.6h1M448.3 557.0h1M450.5 557.9h1M462.8 554.6h1M477.2 558.7h1M436.5 554.3h1M459.5 558.1h1M450.2 555.9h1M452.4 557.2h1M453.4 556.5h1M432.7 562.4h1M459.3 559.6h1M453.3 549.9h1M441.2 561.9h1M450.7 562.8h1M439.7 556.0h1M456.8 564.5h1M456.3 565.3h1M461.3 555.7h1M447.9 559.4h1M468.7 562.1h1M448.3 556.6h1M452.8 556.8h1M465.7 552.7h1M457.9 553.1h1M475.1 556.7h1M461.3 555.0h1M454.7 564.6h1M442.5 549.7h1M458.7 563.5h1M468.2 548.0h1M474.0 557.9h1M455.3 553.3h1M442.7 564.3h1M461.8 561.9h1M440.1 561.9h1M436.7 560.6h1M471.2 553.3h1M443.8 555.1h1M470.6 562.5h1M447.7 552.1h1M463.0 567.4h1M448.3 560.5h1M448.9 569.2h1M474.4 549.8h1M445.8 557.4h1M437.5 552.6h1M467.8 556.6h1M444.2 556.8h1M449.9 553.6h1M454.1 554.4h1M443.3 560.7h1M440.2 556.5h1M467.7 555.1h1M459.3 569.1h1M442.1 550.1h1M471.1 557.9h1M436.3 562.4h1M434.3 560.4h1M446.5 562.8h1M472.8 553.5h1M434.2 562.7h1M457.7 563.9h1M462.6 548.9h1M434.5 553.2h1M468.3 565.4h1M451.9 555.0h1M452.3 551.6h1M445.9 551.7h1M454.6 554.7h1M449.8 552.9h1M450.5 561.4h1M465.1 550.2h1M442.7 557.9h1M448.3 559.4h1M449.5 564.3h1M455.6 567.9h1M463.2 559.3h1M454.6 560.6h1M440.1 554.7h1M439.4 547.4h1M466.0 561.4h1M450.2 563.5h1M446.2 554.9h1M450.0 550.1h1M448.9 563.6h1M472.6 555.4h1M452.9 552.3h1M451.0 553.3h1M461.4 554.6h1M475.3 557.0h1M440.5 561.1h1M432.5 559.5h1M438.8 556.9h1M441.6 559.1h1M439.4 562.2h1M452.0 558.8h1M435.3 557.3h1M446.3 559.5h1M448.9 558.0h1M446.3 563.9h1M448.3 557.2h1M459.0 548.3h1M451.8 565.7h1M444.8 552.1h1M441.9 564.0h1M451.0 555.4h1M456.9 564.1h1M463.5 551.2h1M429.2 568.3h1M443.3 557.0h1M457.8 560.2h1M477.5 555.1h1M453.6 556.0h1M449.7 553.7h1M454.2 561.6h1M447.9 551.7h1M461.2 561.2h1M472.4 565.1h1M433.4 556.2h1M455.3 556.8h1M446.3 563.2h1M447.8 557.2h1M442.5 567.6h1M450.7 553.4h1M456.3 562.0h1M456.8 569.7h1M453.4 561.8h1M457.1 547.8h1M462.1 561.5h1M436.2 555.9h1M453.1 564.3h1M439.4 557.7h1M473.7 560.9h1M437.8 554.4h1M447.7 556.3h1M460.5 562.5h1M457.4 561.5h1M466.1 559.8h1M450.0 555.0h1M445.6 548.5h1M464.5 556.7h1M447.3 559.0h1M463.4 555.5h1M454.5 564.0h1M444.8 555.3h1M437.0 560.6h1M476.2 554.7h1M452.0 561.2h1M454.9 560.0h1M463.4 563.8h1M446.1 549.1h1M444.3 557.3h1M463.5 565.4h1M466.0 554.3h1M433.7 556.8h1M450.3 560.2h1M449.1 549.2h1M445.5 567.2h1M442.4 551.1h1M469.6 560.0h1M436.4 562.3h1M443.6 551.7h1M471.8 562.1h1M463.0 556.3h1M455.8 556.2h1M438.6 552.4h1M437.7 555.6h1M454.0 569.8h1M447.5 550.0h1M438.8 560.8h1M457.2 563.1h1M455.0 551.4h1M435.6 561.0h1M462.0 549.4h1M464.5 558.5h1M468.2 562.6h1M439.2 559.9h1M466.5 553.7h1M456.1 550.1h1M462.9 550.2h1M462.2 555.1h1M453.6 557.6h1M472.1 559.3h1M456.4 547.9h1M466.5 558.0h1M455.8 561.7h1M466.1 553.9h1M440.1 565.0h1M437.1 546.6h1M442.9 556.7h1M453.2 552.9h1M465.4 561.1h1M463.8 565.5h1M446.2 551.9h1M434.0 555.1h1M460.1 557.1h1M462.3 554.0h1M447.1 551.9h1M446.3 561.0h1M477.3 556.4h1M470.8 559.1h1M433.5 555.5h1M445.9 563.7h1M469.5 567.6h1M450.6 555.5h1M453.3 564.9h1M435.7 562.9h1M436.2 558.8h1M446.0 568.9h1M438.4 559.7h1M444.3 563.2h1M456.1 568.4h1M454.8 566.7h1M458.7 558.4h1M451.9 557.8h1M452.4 560.6h1M461.5 560.5h1M474.1 555.1h1M438.4 557.3h1M454.1 556.2h1M459.1 567.1h1M444.0 559.3h1M447.5 565.8h1M466.8 558.6h1M434.1 555.9h1M434.8 546.8h1M452.3 562.3h1M465.8 560.9h1M447.1 549.8h1M469.6 568.8h1M475.6 567.1h1M442.1 565.0h1M440.3 561.4h1M452.9 560.3h1M440.1 556.8h1M449.6 551.6h1M473.3 553.4h1M468.0 556.3h1M446.7 554.4h1M445.9 553.8h1M471.3 553.1h1M449.9 558.0h1M450.7 569.1h1M447.8 555.8h1M443.6 545.9h1M433.6 561.8h1M456.2 555.0h1M453.0 549.7h1M450.5 554.8h1M433.7 547.5h1M461.0 560.2h1M442.5 547.9h1M459.3 553.8h1M465.8 553.3h1M438.4 558.5h1M444.1 569.0h1M441.8 560.8h1M461.6 552.6h1M456.8 558.9h1M429.3 556.8h1M449.1 554.6h1M454.9 564.8h1M436.8 551.5h1M459.8 560.7h1M445.0 564.3h1M453.4 558.5h1M435.0 547.4h1M448.2 557.2h1M447.4 554.6h1M435.3 562.5h1M461.6 551.9h1M457.3 558.8h1M463.4 562.5h1M439.9 557.8h1M431.5 565.9h1M456.0 560.3h1M453.1 554.5h1M468.4 559.8h1M456.7 553.6h1M473.0 550.8h1M474.5 551.2h1M460.2 557.1h1M470.6 553.5h1M445.2 563.9h1M450.8 554.6h1M449.1 559.5h1M469.3 561.9h1M438.7 556.3h1M448.5 548.6h1M463.9 556.1h1M467.4 560.2h1M452.2 560.3h1M447.7 550.0h1M451.3 557.7h1M449.4 559.1h1M456.8 556.0h1M437.6 553.1h1M454.8 551.5h1M471.0 562.1h1M439.1 557.3h1M454.5 555.1h1M442.1 555.7h1M443.7 551.5h1M438.5 556.2h1M456.3 554.5h1M465.5 561.4h1M470.4 565.2h1M474.8 566.4h1M455.8 554.8h1M439.7 556.2h1M463.2 558.2h1M471.7 557.7h1M473.3 558.6h1M439.2 553.4h1M455.5 554.3h1M453.0 554.7h1M459.0 553.4h1M456.0 559.1h1M475.5 551.3h1M463.4 557.5h1M459.3 554.0h1M458.3 551.0h1M452.7 565.7h1M443.3 553.8h1M467.3 555.5h1M459.5 562.4h1M451.8 556.4h1M469.2 560.5h1M440.3 554.5h1M454.4 557.5h1M451.6 549.6h1M433.7 558.5h1M455.9 558.1h1M458.7 549.9h1M450.9 561.5h1M457.5 559.9h1M433.9 550.2h1M474.0 568.9h1M438.4 556.7h1M452.2 555.1h1M452.8 565.2h1M466.1 567.8h1M453.3 562.1h1M451.2 559.6h1M473.0 556.1h1M458.1 561.2h1M448.0 554.3h1M458.1 557.9h1M445.9 561.6h1M442.0 548.8h1M452.7 547.1h1M469.3 559.2h1M472.9 561.4h1M466.8 551.5h1M445.7 551.9h1M467.9 557.6h1M464.1 556.8h1M445.3 555.3h1M446.4 547.9h1M437.5 549.8h1M469.1 562.3h1M473.9 551.6h1M442.0 555.0h1M456.7 558.9h1M448.9 563.3h1M460.0 555.1h1M451.5 552.2h1M463.4 565.2h1M448.7 553.9h1M445.3 560.3h1M448.7 560.4h1M458.4 555.6h1M451.2 546.8h1M462.0 552.4h1M433.1 554.9h1M463.7 562.0h1M450.3 552.8h1M463.2 555.9h1M434.2 552.2h1M456.9 550.7h1M431.9 564.4h1M442.5 558.0h1M444.3 554.7h1M465.7 562.2h1M458.7 565.2h1M446.5 557.4h1M449.3 546.4h1M454.1 567.5h1M463.2 555.2h1M463.2 561.2h1M461.6 557.0h1M456.7 564.8h1M453.7 556.2h1M458.2 552.1h1M474.6 556.6h1M445.2 566.6h1M453.9 559.0h1M462.4 567.3h1M439.2 559.6h1M452.2 547.6h1M468.6 550.5h1M461.6 560.6h1M466.0 553.5h1M439.8 561.5h1M467.4 559.9h1M453.8 556.3h1M445.9 562.4h1M450.3 552.7h1M461.5 556.0h1M452.3 557.2h1M468.6 568.1h1M454.7 558.5h1M449.9 549.2h1M432.2 561.3h1M446.2 549.4h1M457.1 557.2h1M474.2 553.7h1M467.5 562.4h1M451.2 558.8h1M452.2 549.9h1M462.6 553.3h1M458.6 556.6h1M463.0 566.8h1M441.7 562.9h1M436.5 557.8h1M431.5 552.7h1M445.3 547.6h1M455.2 554.7h1M477.4 561.7h1M442.4 568.4h1M441.1 545.7h1M465.7 557.9h1M455.7 562.6h1M439.7 550.1h1M455.3 561.6h1M450.9 561.1h1M443.3 550.9h1M452.0 556.5h1M439.9 562.9h1M438.0 551.9h1M445.2 552.4h1M462.4 558.0h1M465.0 546.2h1M450.8 559.0h1M476.7 562.1h1M441.1 551.8h1M463.9 559.1h1M453.0 556.6h1M452.7 557.4h1M443.1 555.0h1M473.2 553.1h1M445.8 556.4h1M449.1 558.5h1M442.8 550.6h1M459.2 552.5h1M467.3 549.6h1M438.2 563.5h1M474.6 549.9h1M463.1 554.0h1M461.3 550.0h1M460.7 565.3h1M449.6 559.5h1M446.3 557.3h1M446.0 564.6h1M436.6 565.3h1M449.3 555.9h1M437.8 561.1h1M469.8 553.3h1M461.8 558.2h1M456.9 551.9h1M476.0 558.4h1M462.7 558.3h1M458.9 557.0h1M465.6 557.4h1M439.5 557.9h1M448.3 549.2h1M452.6 556.0h1M476.7 552.4h1M463.1 563.2h1M446.0 566.0h1M459.5 559.0h1M458.0 552.5h1M448.1 563.1h1M457.1 558.0h1M464.9 551.2h1M448.4 564.5h1M456.6 556.3h1M465.4 560.1h1M447.1 566.2h1M465.4 557.8h1M447.2 557.1h1M460.9 560.0h1M456.8 557.7h1M459.1 562.6h1M455.5 560.9h1M451.7 557.6h1M467.7 567.4h1M456.6 546.3h1M457.8 558.1h1M446.4 557.0h1M466.7 556.5h1M434.4 557.6h1M471.4 567.9h1M446.0 554.6h1M463.6 569.3h1M447.6 562.1h1M452.8 561.5h1M450.3 563.4h1M451.8 553.4h1M464.5 566.9h1M466.2 547.8h1M431.6 560.6h1M444.3 562.2h1M438.7 563.1h1M437.9 547.7h1M456.7 566.6h1M440.8 555.4h1M454.3 548.7h1M475.8 566.3h1M455.3 564.3h1M451.8 555.1h1M461.4 555.7h1M469.2 560.8h1M448.1 561.8h1M476.8 560.8h1M460.6 551.4h1M461.3 554.2h1M449.8 558.7h1M455.1 551.2h1M464.8 554.8h1M452.2 561.8h1M460.1 559.6h1M442.9 563.7h1M477.0 551.9h1M463.4 555.6h1M468.5 562.6h1M476.1 556.6h1M473.1 559.0h1M452.8 552.4h1M454.5 563.5h1M454.8 551.6h1M461.5 564.3h1M445.5 546.9h1M450.7 560.3h1M471.1 560.2h1M451.8 565.8h1M463.1 553.4h1M470.8 560.0h1M449.5 548.7h1M455.9 560.9h1M433.1 560.4h1M456.0 556.5h1M451.8 563.8h1M447.7 557.4h1M457.6 558.3h1M456.8 554.2h1M456.8 563.3h1M459.7 567.8h1M461.7 551.7h1M467.0 553.1h1M460.9 557.0h1M464.2 559.4h1M477.3 562.5h1M452.3 548.0h1M442.5 556.3h1M464.5 563.1h1M454.0 556.3h1M443.9 558.0h1M454.4 552.0h1M462.1 569.6h1M453.3 556.1h1M458.5 562.3h1M462.5 561.4h1M433.0 562.7h1M460.2 554.2h1M466.5 551.3h1M457.2 557.9h1M467.8 566.7h1M452.7 554.9h1M444.7 561.9h1M449.8 560.8h1M453.8 555.8h1M436.2 555.3h1M447.8 553.6h1M439.6 550.6h1M466.8 556.4h1M466.0 553.5h1M456.2 556.2h1M466.5 564.3h1M440.6 563.7h1M448.6 555.3h1M467.7 562.8h1M468.6 557.3h1M475.7 555.8h1M456.7 558.5h1M451.7 560.5h1M442.9 548.2h1M463.5 559.4h1M460.3 558.4h1M431.5 561.6h1M473.4 564.9h1M453.3 546.6h1M455.4 562.6h1M471.1 556.1h1M447.3 561.5h1M467.9 560.8h1M451.5 554.7h1M472.1 556.9h1M456.6 555.4h1M462.7 562.0h1M459.0 560.3h1M463.8 561.0h1M466.5 553.8h1M438.6 555.5h1M459.7 556.9h1M458.0 561.0h1M450.9 557.4h1M452.4 545.9h1M475.4 563.4h1M459.8 564.3h1M447.1 554.9h1M450.0 564.3h1M459.4 557.7h1M449.3 548.0h1M451.7 556.3h1M465.0 568.5h1M461.2 557.1h1M465.2 559.4h1M448.1 566.8h1M463.5 547.0h1M453.2 555.0h1M457.5 563.5h1M455.4 557.0h1M476.2 561.2h1M443.0 558.6h1M471.7 566.7h1M466.3 562.5h1M461.5 554.3h1M457.8 561.2h1M431.0 547.4h1M453.1 565.8h1M462.9 557.0h1M462.8 547.9h1M455.0 552.9h1M470.3 558.0h1M448.7 548.5h1M429.4 546.2h1M453.2 553.1h1M458.8 569.1h1M446.2 563.1h1M473.9 557.9h1M461.0 558.9h1M439.9 561.6h1M454.2 562.9h1M452.8 561.9h1M461.4 551.6h1M468.0 549.3h1M448.9 554.1h1M460.5 551.9h1M437.5 559.3h1M452.1 558.8h1M434.7 562.1h1M456.3 550.7h1M455.9 564.3h1M452.7 557.9h1M460.6 563.7h1M445.2 558.5h1M452.3 557.7h1M445.3 556.6h1M469.0 550.7h1M459.4 563.1h1M452.9 561.2h1M445.3 567.3h1M440.3 556.4h1M431.2 554.0h1M456.5 548.4h1M468.4 556.9h1M434.7 557.3h1M435.6 555.4h1M448.7 555.4h1M467.1 549.1h1M469.2 553.4h1M442.6 566.9h1M466.0 549.2h1M458.3 559.4h1M462.2 556.9h1M451.3 548.1h1M469.9 558.3h1M455.0 565.3h1M443.0 551.9h1M440.8 552.0h1M448.0 558.0h1M438.1 563.6h1M461.1 565.3h1M458.7 560.9h1M452.9 553.2h1M468.9 565.1h1M474.3 548.9h1M463.5 567.5h1M464.5 558.7h1M449.7 557.2h1M444.1 554.0h1M455.6 557.6h1M471.6 549.3h1M468.6 555.6h1M445.3 565.7h1M467.2 563.6h1M447.0 562.1h1M446.9 559.3h1M447.2 557.5h1M471.4 551.2h1M460.1 560.2h1M451.0 563.1h1M456.4 552.8h1M455.9 559.3h1M437.3 565.4h1M431.5 546.8h1M461.1 559.2h1M454.6 558.1h1M450.9 559.0h1M473.8 552.7h1M456.9 548.2h1M446.9 566.4h1M472.3 555.6h1M436.2 553.0h1M457.4 550.7h1M451.6 562.8h1M470.0 551.5h1M468.0 560.3h1M445.2 553.1h1M450.2 556.3h1M456.5 560.4h1M468.6 560.6h1M455.7 550.7h1M445.4 563.2h1M453.6 567.1h1M454.3 563.9h1M461.4 553.1h1M441.8 561.8h1M459.2 559.2h1M455.9 566.0h1M457.0 562.6h1M445.9 560.2h1M450.6 551.2h1M452.1 559.2h1M472.6 556.6h1M430.1 562.2h1M468.8 549.9h1M471.3 565.4h1M475.3 555.2h1M463.5 557.7h1M474.8 553.6h1M466.4 562.5h1M461.9 560.6h1M469.2 562.6h1M449.6 561.3h1M450.6 555.9h1M455.6 561.0h1M459.0 556.3h1M441.2 568.1h1M474.3 560.3h1M441.7 555.5h1M453.7 568.5h1M473.0 553.9h1M464.6 554.6h1M459.6 551.3h1M437.1 555.4h1M448.9 560.6h1M450.1 562.4h1M442.0 562.5h1M445.3 550.4h1M470.7 559.3h1M476.2 564.0h1M465.5 554.7h1M444.5 548.6h1M457.0 567.4h1M452.1 557.8h1M438.7 558.5h1M462.3 553.0h1M451.4 564.3h1M470.6 551.8h1M445.6 554.0h1M438.4 561.7h1M458.4 560.7h1M456.1 555.3h1M449.9 548.8h1M469.5 557.5h1M442.6 552.8h1M450.4 548.5h1M454.4 551.3h1M433.8 566.7h1M446.1 559.5h1M456.3 558.6h1M457.7 550.9h1M438.2 549.6h1M464.9 552.0h1M459.5 559.7h1M445.6 546.6h1M463.5 547.6h1M458.2 561.8h1M444.6 561.5h1M451.0 560.7h1M471.3 563.2h1M462.2 552.8h1M441.0 555.9h1M440.4 561.1h1M434.8 546.5h1M455.1 561.0h1M452.8 558.3h1M444.0 569.4h1M452.3 552.4h1M442.2 563.2h1M447.3 559.4h1M453.0 553.5h1M450.5 559.5h1M463.1 556.4h1M445.4 552.6h1M443.9 559.6h1M452.2 559.4h1M463.3 548.8h1M462.6 560.2h1M440.9 561.6h1M445.7 562.0h1M463.6 559.2h1M443.8 561.8h1M469.8 564.7h1M446.5 561.0h1M451.6 551.1h1M436.1 562.5h1M458.8 548.9h1M438.3 558.9h1M470.2 562.0h1M457.5 554.7h1M463.5 561.0h1M433.0 558.2h1M471.2 551.5h1M442.3 562.0h1M465.5 560.4h1M451.3 561.8h1M466.9 556.3h1M474.1 560.4h1M438.6 552.2h1M464.0 549.6h1M460.4 554.7h1M457.1 565.6h1M466.6 562.2h1M442.5 554.9h1M459.7 552.5h1M456.9 560.0h1M466.5 561.5h1M476.5 558.7h1M457.4 557.6h1M442.3 557.3h1M458.2 560.3h1M470.5 554.7h1M446.3 559.1h1M454.9 555.8h1M456.5 561.3h1M444.0 562.0h1M468.2 554.7h1M455.9 560.5h1M457.9 557.5h1M446.5 563.0h1M467.5 555.0h1M443.1 547.4h1M455.5 551.1h1M440.7 554.8h1M462.3 555.7h1M459.9 550.6h1M433.5 564.7h1M454.0 568.6h1M467.6 561.9h1M459.1 556.2h1M463.5 559.0h1M451.3 546.6h1M451.7 552.5h1M447.5 558.5h1M462.3 556.8h1M447.8 564.3h1M462.1 556.4h1M458.0 557.9h1M451.7 557.0h1M474.6 552.5h1M448.9 560.8h1M444.0 564.6h1M469.5 558.5h1M449.8 565.8h1M435.1 561.0h1M450.5 546.9h1M460.2 554.7h1M452.1 556.3h1M454.8 562.4h1M463.6 554.4h1M474.0 560.6h1M449.2 564.3h1M456.8 550.6h1M445.4 552.7h1M459.4 560.4h1M452.0 549.6h1M477.5 552.2h1M437.5 562.2h1M465.6 562.9h1M457.8 556.9h1M449.5 561.7h1M465.2 553.6h1M445.4 555.6h1M461.6 559.1h1M461.7 556.6h1M441.2 552.4h1M456.5 562.4h1M436.8 555.1h1M451.7 562.4h1M447.9 553.6h1M448.9 560.6h1M457.9 558.8h1M449.0 561.1h1M447.4 559.4h1M474.7 557.8h1M429.3 551.3h1M449.7 569.6h1M462.5 547.6h1M468.0 563.3h1M453.0 558.1h1M466.4 556.0h1M451.6 551.3h1M459.4 548.0h1M459.8 562.9h1M456.1 554.5h1M462.0 554.4h1M472.2 559.6h1M453.6 556.3h1M437.9 554.0h1M446.3 555.5h1M447.5 561.8h1M452.7 554.4h1M462.3 549.3h1M451.1 559.6h1M461.5 566.4h1M462.0 549.5h1M460.9 558.3h1M452.0 550.9h1M449.7 555.2h1M463.4 565.2h1M433.3 557.7h1M456.6 564.6h1M462.0 558.1h1M450.2 563.7h1M459.6 553.6h1M456.4 563.1h1M431.7 552.4h1M454.4 570.1h1M467.4 553.4h1M437.4 559.9h1M467.5 555.7h1M442.1 549.8h1M456.3 562.4h1M433.5 550.8h1M452.1 558.7h1M459.9 557.1h1M451.6 559.1h1M439.2 557.9h1M469.1 555.1h1M443.7 551.5h1M436.8 560.1h1M465.6 556.1h1M449.9 552.0h1M443.9 559.3h1M443.0 569.4h1M463.0 556.2h1M430.0 555.0h1M440.1 546.1h1M450.6 559.4h1M461.4 552.8h1M453.5 568.2h1M444.6 563.1h1M467.0 558.7h1M471.9 547.7h1M437.5 561.6h1M457.7 562.5h1M434.6 564.4h1M462.5 564.0h1M449.6 557.7h1M434.9 547.4h1M449.3 558.7h1M441.9 555.1h1M451.4 559.5h1M456.1 552.9h1M460.3 557.5h1M454.8 562.0h1M447.7 563.4h1M441.1 566.1h1M445.0 553.9h1M450.7 553.8h1M472.8 552.4h1M459.1 552.3h1M463.0 561.0h1M471.6 557.7h1M433.9 555.4h1M454.7 564.1h1M451.0 557.4h1M448.5 551.6h1M465.1 548.8h1M457.5 546.0h1M455.8 563.0h1M436.6 549.1h1M443.6 557.6h1M452.3 551.8h1M446.8 557.6h1M466.1 562.5h1M455.7 552.8h1M447.9 553.0h1M467.6 563.0h1M462.5 563.1h1M458.7 561.1h1M458.3 567.3h1M453.6 556.7h1M445.9 559.1h1M442.0 560.8h1M476.1 568.6h1M466.2 549.9h1M441.9 557.5h1M460.0 553.2h1M459.7 553.5h1M441.4 566.1h1M455.4 552.5h1M442.5 550.9h1M449.7 564.3h1M443.9 555.9h1M470.5 551.4h1M444.3 565.5h1M474.3 554.4h1M460.3 566.2h1M431.3 567.5h1M467.0 565.8h1M455.5 558.6h1M470.0 559.5h1M442.6 565.6h1M459.9 560.2h1M465.6 562.0h1M454.8 554.5h1M438.7 550.2h1M461.3 562.4h1M433.0 558.6h1M457.5 559.6h1M452.2 549.2h1M456.8 562.7h1M457.5 559.5h1M433.4 566.1h1M463.3 563.5h1M438.3 561.6h1M465.4 554.0h1M453.7 559.0h1M456.5 559.7h1M440.1 551.1h1M456.9 556.2h1M457.1 559.5h1M451.0 550.5h1M435.8 551.9h1M452.3 562.0h1M461.0 554.3h1M446.4 568.0h1M464.3 545.9h1M458.5 562.4h1M435.8 554.4h1M429.2 551.4h1M447.8 555.8h1M470.6 556.9h1M431.1 556.1h1M432.7 561.9h1M468.4 553.7h1M467.9 559.2h1M447.7 551.6h1M433.4 562.7h1M460.5 562.2h1M462.2 558.4h1M454.9 555.2h1M449.2 565.9h1M469.6 559.0h1M463.1 559.4h1M449.4 564.5h1M453.6 547.7h1M463.9 559.2h1M432.5 565.6h1M468.8 562.5h1M455.5 558.5h1M449.3 550.9h1M472.2 560.9h1M471.1 567.7h1M451.7 551.2h1M449.7 560.0h1M444.6 553.0h1M452.3 556.5h1M458.3 553.5h1M460.2 563.1h1M468.3 557.6h1M470.8 564.0h1M448.7 567.7h1M451.4 554.4h1M469.8 562.7h1M459.8 553.3h1M443.0 566.2h1M455.9 554.8h1M450.9 557.6h1M452.2 557.4h1M466.0 554.0h1M446.2 557.1h1M449.6 562.0h1M444.9 566.1h1M434.9 550.3h1M463.3 556.6h1M456.2 554.3h1M474.6 554.9h1M467.9 553.7h1M430.1 556.7h1M464.0 556.9h1M468.7 565.3h1M447.5 556.4h1M439.4 557.6h1M446.4 565.6h1M456.0 559.3h1M462.6 560.9h1M462.4 555.0h1M433.3 564.9h1M469.1 568.4h1M436.0 558.5h1M439.4 560.5h1M453.9 552.0h1M456.2 550.9h1M464.4 557.1h1M444.1 565.4h1M463.1 569.8h1M452.3 549.7h1M441.5 562.7h1M450.9 553.8h1M449.7 567.8h1M472.5 560.9h1M455.8 556.8h1M441.5 555.6h1M445.8 562.1h1M461.6 561.6h1M438.8 562.1h1M464.9 565.4h1M446.5 549.2h1M429.8 561.8h1M463.9 557.0h1M474.8 554.8h1M447.8 557.5h1M462.3 567.8h1M468.9 561.8h1M466.9 560.7h1M469.6 559.8h1M465.0 557.8h1M450.5 547.6h1M460.0 562.5h1M470.9 564.8h1M455.4 551.9h1M464.6 559.4h1M460.8 557.1h1M456.8 559.0h1M449.8 548.9h1M439.9 549.7h1M433.3 562.1h1M462.8 559.3h1M446.7 565.5h1M448.4 558.3h1M445.9 558.6h1M437.6 552.2h1M441.9 555.9h1M444.5 555.4h1M473.4 553.7h1M440.7 560.9h1M442.6 560.0h1M474.5 552.2h1M460.3 552.9h1M453.9 556.2h1M462.4 552.4h1M445.7 560.2h1M444.4 558.3h1M463.7 561.0h1M445.6 552.2h1M469.4 555.7h1M446.0 564.2h1M441.2 554.8h1M449.4 560.6h1M461.8 548.4h1M441.2 557.0h1M445.1 557.2h1M476.8 556.3h1M452.8 560.3h1M469.8 559.0h1M449.9 550.8h1M452.9 546.8h1M448.4 556.8h1M460.8 561.8h1M429.5 555.2h1M452.8 568.7h1M470.9 548.8h1M469.7 555.4h1M467.8 545.8h1M438.3 562.7h1M430.5 556.9h1M454.0 569.9h1M461.7 556.3h1M434.6 556.8h1M454.9 553.2h1M451.2 551.5h1M460.6 563.7h1M445.9 547.1h1M473.5 555.8h1M442.0 553.9h1M457.9 557.1h1M446.1 561.9h1M440.5 554.6h1M448.8 554.9h1M464.7 557.6h1M461.4 563.2h1M462.0 560.4h1M459.6 564.6h1M439.4 561.4h1M474.8 556.4h1M448.6 554.8h1M463.1 552.0h1M441.1 566.5h1M466.4 554.8h1M445.5 551.1h1M471.8 565.2h1M474.7 546.9h1M460.8 555.7h1M455.2 553.6h1M463.5 558.2h1M474.5 560.8h1M452.6 558.3h1M438.4 559.6h1M449.4 561.6h1M456.8 558.0h1M447.6 553.9h1M467.4 553.1h1M434.1 550.6h1M458.4 556.5h1M431.6 565.8h1M461.5 565.8h1M446.9 562.8h1M470.7 547.7h1M435.6 563.1h1M467.9 567.3h1M469.8 565.7h1M447.6 553.1h1M438.1 559.1h1M464.2 552.4h1M439.4 559.2h1M443.9 557.2h1M441.7 558.6h1M470.6 568.9h1M447.8 563.3h1M449.5 555.8h1M450.7 554.4h1M447.1 559.1h1M453.9 552.3h1M452.9 557.4h1M459.2 545.6h1M467.0 554.4h1M435.8 559.7h1M464.4 568.1h1M464.2 553.9h1M451.0 560.7h1M464.0 562.3h1M468.5 559.3h1M452.9 550.7h1M454.2 558.2h1M462.5 546.6h1M462.7 554.2h1M460.6 560.7h1M460.2 553.6h1M447.0 560.8h1M434.2 558.0h1M451.2 557.7h1M432.9 569.8h1M460.0 560.3h1M442.3 567.3h1M444.3 552.8h1M452.7 566.3h1M457.6 550.8h1M448.9 550.4h1M468.6 551.6h1M476.6 554.1h1M466.4 551.5h1M475.8 550.0h1M455.7 565.6h1M437.8 557.2h1M448.9 551.0h1M445.3 551.9h1M464.1 552.9h1M459.8 550.5h1M477.4 566.0h1M444.3 552.2h1M467.4 562.3h1M469.4 564.3h1M448.8 559.5h1M442.5 563.0h1M459.2 564.3h1M444.6 550.5h1M468.7 559.0h1M450.1 547.3h1M450.8 558.0h1M437.2 565.1h1M435.7 553.7h1M450.9 560.0h1M445.3 562.8h1M450.6 564.0h1M434.2 562.8h1M457.8 562.8h1M439.4 548.4h1M442.0 556.2h1M457.0 565.7h1M447.1 557.2h1M463.6 548.1h1M445.5 562.7h1M438.5 551.8h1M463.4 558.2h1M454.0 558.1h1M470.4 560.4h1M456.4 554.3h1M444.8 559.5h1M451.0 559.1h1M460.8 569.1h1M433.2 558.5h1M440.5 569.2h1M438.8 556.4h1M475.3 554.1h1M458.0 557.5h1M433.8 560.0h1M458.4 558.4h1M440.1 565.6h1M460.0 563.8h1M471.4 557.6h1M455.5 560.8h1M439.2 562.5h1M447.0 546.7h1M449.1 547.0h1M448.7 553.4h1M460.7 554.2h1M464.8 552.9h1M463.6 563.4h1M444.9 553.4h1M440.0 562.9h1M452.5 552.0h1M468.9 561.0h1M460.6 560.5h1M468.6 552.4h1M449.6 557.3h1M445.4 552.6h1M444.9 560.9h1M455.9 549.8h1M449.7 552.8h1M445.4 553.7h1M461.8 556.5h1M458.3 567.9h1M456.9 559.2h1M460.5 549.1h1M440.6 568.8h1M471.9 554.0h1M454.8 562.6h1M455.0 547.9h1M432.3 559.2h1M446.3 551.0h1M470.5 562.6h1M462.0 563.4h1M475.5 550.5h1M446.3 557.7h1M460.0 549.1h1M451.7 554.6h1M454.9 563.9h1M458.7 556.3h1M444.2 549.9h1M434.6 552.6h1M439.8 554.0h1M458.5 548.9h1M464.0 556.9h1M445.5 559.9h1M439.3 560.8h1M469.4 550.1h1M442.2 550.2h1M462.0 554.6h1M438.6 552.2h1M435.6 561.7h1M436.3 558.1h1M462.8 547.3h1M452.0 555.7h1M443.9 557.2h1M462.9 564.4h1M450.5 550.5h1M460.2 561.3h1M431.9 556.9h1M431.3 560.3h1M442.9 562.2h1M438.9 560.9h1M466.4 556.8h1M453.3 554.2h1M450.9 555.8h1M456.6 556.4h1M458.7 554.8h1M451.2 559.2h1M473.4 552.0h1M446.4 561.8h1M449.1 563.2h1M469.9 561.1h1M440.0 558.5h1M443.3 556.4h1M429.8 555.6h1M454.6 560.1h1M472.5 560.2h1M456.1 547.6h1M469.4 565.6h1M445.7 553.6h1M471.0 553.1h1M447.6 557.6h1M474.8 558.3h1M461.2 555.1h1M443.6 559.3h1M455.8 560.5h1M441.3 559.3h1M456.7 565.9h1M433.5 561.1h1M467.7 565.8h1M436.5 555.5h1M430.8 551.9h1M457.5 555.9h1M447.5 567.2h1M454.2 562.9h1M448.4 547.3h1M462.8 565.3h1M460.5 553.5h1M447.7 556.4h1M466.6 554.7h1M456.8 548.9h1M475.9 550.8h1M456.4 557.5h1M453.8 561.6h1M468.2 557.9h1M446.7 558.1h1M477.7 561.3h1M463.5 560.7h1M450.2 567.5h1M434.3 565.0h1M474.4 559.1h1M473.3 556.0h1M455.2 559.7h1M449.7 560.7h1M456.8 561.4h1M452.2 557.9h1M447.1 570.4h1M468.3 553.3h1M474.9 551.1h1M434.4 563.3h1M459.1 560.1h1M436.0 561.0h1M451.5 553.4h1M439.7 564.7h1M462.5 570.2h1M473.2 563.1h1M454.6 552.5h1M456.9 551.6h1M457.4 557.0h1M439.8 558.5h1M471.5 560.7h1M447.4 564.8h1M452.7 562.9h1M442.7 562.4h1M455.5 551.6h1M445.5 565.8h1M458.1 548.7h1M452.4 563.1h1M460.7 565.2h1M434.4 551.1h1M447.1 564.3h1M444.8 562.1h1M443.7 555.3h1M453.8 556.3h1M440.4 558.2h1M465.0 553.2h1M468.1 564.3h1M451.5 552.8h1M459.3 563.1h1M456.6 556.8h1M433.2 551.8h1M474.4 555.5h1M445.1 562.6h1M455.7 550.0h1M475.5 562.2h1M461.3 555.5h1M442.9 553.6h1M457.0 561.2h1M465.8 558.7h1M436.8 560.5h1M447.1 556.5h1M435.1 558.1h1M470.9 558.0h1M461.8 553.2h1M473.2 563.9h1M475.9 555.3h1M446.1 560.3h1M446.1 565.1h1M462.6 547.9h1M464.7 554.8h1M438.6 566.3h1M445.8 561.0h1M464.7 557.4h1M450.0 551.3h1M443.9 565.0h1M438.4 557.1h1M439.4 558.3h1M452.4 561.6h1M450.6 561.6h1M456.6 551.7h1M445.1 563.3h1M468.4 565.4h1M453.0 560.1h1M477.6 554.3h1M447.3 558.3h1M444.7 560.5h1M466.7 555.1h1M470.1 554.5h1M451.9 555.1h1M456.5 562.5h1M440.3 556.3h1M459.5 556.1h1M435.5 554.3h1M465.2 564.6h1M463.9 556.7h1M449.1 556.5h1M450.8 551.7h1M450.8 562.0h1M438.6 556.8h1M449.9 549.3h1M437.1 559.3h1M468.9 560.2h1M469.9 551.4h1M460.6 553.4h1M468.3 553.9h1M455.8 547.4h1M471.0 555.9h1M443.4 552.6h1M463.6 554.2h1M453.8 557.7h1M463.7 554.6h1M441.9 553.7h1M442.7 553.9h1M430.6 559.3h1M468.6 567.9h1M431.3 558.7h1M443.4 556.7h1M458.1 552.8h1M450.8 556.7h1M469.6 555.6h1M445.9 549.6h1M454.1 554.5h1M430.9 560.0h1M459.0 552.9h1M442.7 556.9h1M457.5 559.5h1M463.2 552.6h1M468.4 555.8h1M445.4 558.3h1M442.7 566.7h1M435.0 553.5h1M439.6 557.7h1M459.9 557.0h1M458.4 559.3h1M431.7 555.6h1M466.9 559.5h1M445.1 563.7h1M453.4 563.5h1M447.5 558.7h1M450.3 561.7h1M458.7 557.7h1M464.2 558.7h1M461.6 557.0h1M436.2 549.8h1M477.1 549.1h1M436.6 559.7h1M438.1 564.2h1M449.2 560.9h1M449.3 562.1h1M443.0 564.3h1M435.7 554.1h1M457.9 558.5h1M469.7 561.6h1M451.4 554.2h1M446.1 553.6h1M463.9 550.9h1M435.7 555.5h1M452.8 549.7h1M466.4 554.4h1M459.0 557.8h1M472.1 561.7h1M459.0 564.1h1M477.4 556.0h1M456.3 558.1h1M437.0 547.3h1M454.6 552.6h1M457.0 555.0h1M458.0 547.3h1M463.4 562.7h1M434.7 557.4h1M431.6 565.1h1M451.0 558.2h1M452.4 552.6h1M439.0 566.7h1M465.6 553.7h1M454.5 549.4h1M437.9 551.1h1M447.3 554.0h1M453.4 561.0h1M439.3 557.0h1M448.6 559.7h1M458.1 563.3h1M465.0 560.1h1M435.0 562.2h1M459.7 569.1h1M438.1 551.1h1M446.2 561.4h1M453.3 554.0h1M464.6 564.6h1M440.2 558.6h1M450.8 561.1h1M452.1 557.5h1M466.6 562.7h1M446.2 562.9h1M459.2 559.1h1M461.4 552.8h1M461.9 550.2h1M435.1 559.1h1M438.0 563.7h1M430.2 566.7h1M456.3 557.2h1M459.0 556.4h1M443.7 563.5h1M447.2 555.2h1M435.5 563.7h1M446.3 557.3h1M459.5 567.4h1M473.0 559.5h1M436.0 560.3h1M465.9 554.4h1M460.4 559.4h1M442.4 559.9h1M452.9 560.5h1M445.9 557.7h1M466.0 549.4h1M450.6 561.5h1M468.7 555.5h1M437.2 550.8h1M457.2 554.3h1M442.9 555.3h1M468.4 547.1h1M443.2 556.9h1M460.6 547.9h1M461.2 547.8h1M439.2 556.4h1M448.3 552.6h1M450.3 565.1h1M461.0 559.9h1M445.9 553.0h1M473.1 548.0h1M467.2 550.5h1M464.1 565.0h1M463.6 550.7h1M462.3 561.6h1M457.1 554.4h1M471.1 561.6h1M477.2 557.3h1M454.1 565.4h1M436.4 562.4h1M464.8 554.1h1M436.4 545.9h1M450.3 551.2h1M461.6 551.8h1M463.2 564.7h1M441.5 560.4h1M461.0 559.0h1M450.8 562.7h1M451.0 558.1h1M446.1 560.0h1M458.2 556.5h1M468.9 556.8h1M448.4 566.2h1M459.5 561.5h1M435.7 549.9h1M442.0 548.3h1M444.8 557.1h1M452.8 550.3h1M460.4 564.7h1M466.7 557.2h1M441.2 559.9h1M466.2 561.9h1M443.4 556.4h1M446.0 549.8h1M471.1 557.1h1M444.3 559.5h1M444.5 546.4h1M473.0 554.9h1M471.4 557.3h1M474.4 564.8h1M445.2 550.9h1M464.5 555.4h1M451.2 549.1h1M434.1 565.8h1M470.4 557.8h1M444.7 550.5h1M447.8 554.7h1M439.0 556.9h1M445.1 550.8h1M448.7 555.7h1M429.4 557.1h1M457.3 550.6h1M474.8 560.8h1M436.2 554.2h1M460.5 566.1h1M443.8 560.0h1M470.6 550.9h1M464.2 561.6h1M450.1 553.0h1M469.2 554.3h1M441.9 556.9h1M449.3 550.1h1M454.4 553.1h1M445.9 547.0h1M451.2 564.5h1M470.6 554.0h1M473.3 559.4h1M460.0 560.5h1M474.3 552.9h1M453.7 558.5h1M456.1 561.8h1M455.4 548.2h1M471.0 563.0h1M441.5 560.4h1M443.0 553.5h1M464.9 553.1h1M474.4 560.2h1M446.0 557.8h1M445.3 562.7h1M469.5 561.4h1M447.4 553.9h1M442.5 561.3h1M443.0 546.4h1M462.4 566.7h1M443.6 556.0h1M460.6 558.2h1M456.4 563.9h1M438.2 552.1h1M439.5 563.9h1M465.3 558.6h1M432.7 558.4h1M436.5 562.1h1M445.1 567.6h1M443.5 555.4h1M462.9 548.8h1M457.6 559.2h1M450.0 550.8h1M450.7 552.6h1M446.9 569.1h1M457.1 559.6h1M455.7 563.6h1M455.0 558.0h1M449.7 562.9h1M450.5 561.3h1M433.7 556.3h1M458.9 564.7h1M448.7 567.7h1M445.1 559.0h1M436.0 554.0h1M462.4 552.8h1M462.3 560.7h1M462.5 549.0h1M450.4 548.4h1M460.9 558.6h1M468.2 553.4h1M439.6 555.1h1M446.6 548.3h1M450.0 561.4h1M447.3 552.2h1M440.8 565.9h1M443.6 555.0h1M450.6 565.1h1M454.9 560.9h1M435.6 557.8h1M450.7 557.8h1M470.9 552.8h1M440.7 562.1h1M465.4 546.8h1M451.6 557.0h1M464.1 550.2h1M452.0 563.0h1M460.7 556.6h1M462.3 553.8h1M448.0 556.6h1M440.7 547.3h1M462.4 564.7h1M462.9 563.9h1M444.6 560.8h1M442.2 559.7h1M467.4 546.4h1M458.7 558.2h1M468.8 565.8h1M437.3 562.3h1M445.7 557.1h1M431.9 556.8h1M443.0 554.4h1M440.3 565.9h1M451.2 552.4h1M440.7 548.7h1M434.0 559.5h1M442.3 555.5h1M459.1 562.1h1M467.5 551.5h1M471.0 563.3h1M463.7 559.8h1M439.4 552.4h1M448.0 560.7h1M439.5 551.8h1M435.5 565.5h1M449.9 554.5h1M432.8 548.0h1M449.7 562.1h1M465.6 557.9h1M450.2 556.8h1M446.3 560.5h1M433.3 553.1h1M457.7 559.6h1M443.9 554.4h1M464.4 555.7h1M472.8 554.3h1M454.6 553.9h1M462.6 548.4h1M452.2 556.6h1M442.3 563.5h1M457.9 553.7h1M446.0 554.1h1M456.7 557.0h1M430.2 568.9h1M443.4 568.9h1M430.7 555.3h1M465.1 550.7h1M467.3 560.2h1M475.1 553.3h1M451.4 556.7h1M437.9 557.8h1M435.7 565.8h1M474.9 558.7h1M456.6 561.1h1M446.7 550.5h1M443.1 552.8h1M433.9 560.3h1M466.7 558.0h1M442.0 565.9h1M469.8 547.1h1M467.3 560.9h1M434.8 555.7h1M464.1 565.3h1M444.3 557.4h1M440.8 561.3h1M458.0 558.4h1M443.9 560.1h1M457.4 568.4h1M455.7 557.4h1M462.1 561.0h1M458.6 567.7h1M452.2 566.3h1M440.9 549.2h1M455.5 552.5h1M448.0 559.9h1M440.1 553.3h1M455.1 560.4h1M452.6 563.4h1M468.3 564.6h1M454.5 569.2h1M443.2 549.0h1M458.8 558.7h1M452.8 556.0h1M466.5 561.2h1M443.6 570.2h1M451.6 555.0h1M465.3 556.6h1M439.6 567.1h1M432.5 564.7h1M450.5 551.5h1M429.5 551.2h1M466.6 550.5h1M436.4 563.9h1M438.1 549.2h1M458.4 559.2h1M457.5 550.8h1M448.3 556.1h1M442.4 558.9h1M454.9 561.4h1M443.2 548.5h1M447.8 551.7h1M439.0 556.3h1M458.9 558.5h1M460.6 548.3h1M455.8 550.8h1M433.6 563.4h1M455.5 552.4h1M450.1 555.7h1M453.3 556.8h1M453.5 562.5h1M464.7 552.9h1M463.0 548.9h1M469.2 566.1h1M467.3 550.4h1M456.8 554.7h1M451.5 550.9h1M447.3 557.7h1M461.2 561.2h1M443.4 556.8h1M460.0 547.1h1M436.3 556.6h1M461.0 566.2h1M436.8 560.7h1M439.5 551.4h1M437.8 559.8h1M462.0 557.8h1M434.3 560.2h1M435.5 560.5h1M437.6 557.1h1M456.2 558.9h1M451.5 554.2h1M436.1 556.5h1M476.6 553.5h1M450.1 562.5h1M450.0 555.8h1M470.0 562.3h1M447.0 556.9h1M467.9 561.1h1M448.0 566.1h1M459.8 563.9h1M459.2 554.7h1M468.9 561.7h1M435.4 559.6h1M439.6 559.3h1M450.7 555.3h1M452.9 555.4h1M443.8 567.8h1M460.6 545.7h1M466.7 550.5h1M453.5 561.9h1M467.5 551.1h1M448.8 560.1h1M457.2 550.8h1M445.4 552.6h1M460.7 555.6h1M453.1 560.5h1M446.9 553.3h1M455.7 561.7h1M467.4 561.5h1M433.0 564.7h1M455.4 550.8h1M465.3 557.1h1M450.4 566.8h1M439.1 555.2h1M452.6 570.0h1M453.1 556.8h1M458.9 548.4h1M470.1 557.0h1M442.3 559.7h1M445.2 548.6h1M466.6 564.8h1M451.5 559.0h1M463.6 555.6h1M439.7 557.9h1M467.0 551.9h1M444.9 554.6h1M459.7 560.3h1M448.9 562.5h1M459.7 558.1h1M453.6 559.5h1M445.2 558.6h1M472.9 557.5h1M468.1 551.8h1M449.6 549.8h1M439.2 567.1h1M430.1 567.1h1M468.9 552.2h1M472.4 554.6h1M470.4 555.9h1M469.4 567.0h1M446.3 554.1h1M440.2 554.1h1M432.9 551.5h1M452.9 561.8h1M441.8 554.4h1M464.0 550.7h1M438.6 548.9h1M468.8 559.1h1M446.8 548.2h1M460.4 556.4h1M450.5 560.8h1M464.6 559.8h1M435.1 560.5h1M452.5 570.0h1M455.9 563.5h1M432.9 559.0h1M439.6 555.4h1M461.2 560.1h1M471.2 554.2h1M474.7 562.1h1M442.5 550.8h1M454.8 558.3h1M461.9 557.7h1M460.4 566.3h1M457.1 555.6h1M444.8 564.1h1M464.4 555.4h1M454.2 545.8h1M438.5 548.4h1M435.9 554.6h1M436.5 557.3h1M429.2 560.1h1M467.5 560.2h1M438.2 552.2h1M443.1 558.2h1M439.0 551.6h1M452.9 556.5h1M438.8 559.6h1M466.4 555.0h1M456.2 567.2h1M476.9 559.0h1M461.0 556.1h1M452.6 562.5h1M453.2 554.9h1M468.8 567.5h1M476.5 553.9h1M442.2 568.0h1M465.9 546.2h1M451.5 560.4h1M455.4 553.0h1M467.2 553.0h1M448.0 565.9h1M455.9 567.3h1M458.1 554.1h1M458.0 552.5h1M450.3 551.1h1M470.0 561.6h1M460.0 558.4h1M457.9 553.8h1M463.0 552.7h1M450.5 566.7h1M457.9 556.1h1M459.5 558.1h1M463.9 556.7h1M472.6 557.0h1M464.9 559.0h1M468.2 548.7h1M453.8 547.5h1M474.3 553.7h1M445.8 564.4h1M452.4 556.8h1M445.5 557.8h1M464.9 558.4h1M443.2 561.7h1M465.1 547.1h1M451.1 564.4h1M457.6 553.4h1M463.5 550.8h1M460.6 563.0h1M450.9 561.8h1M457.7 561.5h1M437.0 557.3h1M456.8 561.4h1M463.7 559.7h1M455.9 565.4h1M472.0 549.5h1M435.9 567.1h1M462.3 554.8h1M461.2 558.3h1M440.9 550.8h1M437.9 561.7h1M470.3 556.7h1M476.3 568.0h1M454.9 559.4h1M435.6 557.7h1M461.5 570.3h1M448.1 564.6h1M447.1 548.2h1M438.7 560.7h1M449.1 554.6h1M466.9 563.3h1M430.0 565.9h1M462.0 548.1h1M457.0 546.0h1M443.2 558.5h1M462.6 555.8h1M458.2 558.6h1M457.9 555.6h1M450.7 558.4h1M464.7 551.5h1M461.6 561.9h1M465.3 561.2h1M444.2 557.3h1M455.3 548.8h1M468.8 552.9h1M461.0 562.0h1M456.9 549.6h1M475.4 564.0h1M450.1 550.3h1M461.9 559.1h1M443.0 555.5h1M440.6 555.1h1M442.4 555.9h1M461.5 553.2h1M468.6 545.9h1M448.2 561.0h1M473.7 555.0h1M435.6 556.1h1M436.4 564.4h1M453.6 558.4h1M464.1 555.6h1M461.7 566.8h1M430.3 562.0h1M474.0 558.5h1M439.9 551.7h1M455.8 553.2h1M442.1 561.6h1M466.4 558.4h1M466.0 554.4h1M472.1 553.3h1M456.3 555.7h1M457.0 564.4h1M462.5 549.8h1M472.6 553.9h1M454.8 558.8h1M458.2 551.5h1M455.1 548.7h1M439.6 556.7h1M450.2 556.5h1M457.6 557.3h1M434.0 559.2h1M472.2 566.4h1M445.0 554.9h1M466.1 552.5h1M470.3 554.6h1M461.6 561.1h1M446.0 551.6h1M467.2 556.1h1M462.9 554.4h1M474.2 562.7h1M450.3 554.0h1M461.5 558.1h1M447.3 563.4h1M453.4 557.6h1M458.8 559.4h1M451.8 568.1h1M456.4 557.6h1M465.2 556.8h1M456.8 553.9h1M467.5 557.9h1M437.7 552.2h1M464.0 558.7h1M461.5 568.0h1M457.0 561.5h1M452.9 566.4h1M434.7 557.7h1M444.4 552.9h1M460.6 554.9h1M468.9 560.7h1M452.7 553.9h1M440.3 557.7h1M458.2 562.8h1M437.6 552.2h1M458.7 564.6h1M437.5 564.9h1M466.3 552.0h1M458.7 554.5h1M452.0 552.8h1M451.2 556.6h1M463.7 555.1h1M450.3 557.9h1M467.9 568.5h1M468.3 557.1h1M446.4 561.3h1M462.7 553.6h1M440.5 550.4h1M462.1 558.1h1M455.0 567.1h1M476.0 558.1h1M460.3 556.1h1M471.5 560.1h1M471.4 555.0h1M437.6 550.4h1M470.2 546.9h1M465.6 560.2h1M454.9 561.3h1M474.9 562.6h1M446.2 552.7h1M458.6 565.1h1M440.6 556.5h1M447.6 546.7h1M454.6 557.6h1M449.3 565.6h1M435.8 557.3h1M446.2 558.2h1M449.8 559.5h1M461.8 568.8h1M441.2 568.9h1M469.1 547.3h1M456.4 568.4h1M446.7 552.7h1M445.8 553.6h1M475.4 558.5h1M443.9 560.8h1M457.0 554.3h1M470.1 556.6h1M444.8 559.0h1M457.6 558.1h1M469.2 551.2h1M473.3 559.8h1M446.5 560.2h1M435.8 551.5h1M435.4 568.1h1M465.1 563.3h1M443.8 557.5h1M433.6 559.7h1M459.7 567.1h1M436.5 551.0h1M441.1 570.3h1M443.1 561.0h1M455.7 553.8h1M459.4 563.5h1M472.5 561.2h1M455.7 552.3h1M434.5 559.2h1M429.1 559.2h1M447.3 556.5h1M431.6 552.0h1M453.0 564.9h1M444.8 561.6h1M462.9 564.4h1M451.9 566.2h1M437.2 562.1h1M449.7 554.9h1M468.9 554.4h1M446.3 556.2h1M454.9 557.2h1M451.8 560.8h1M453.5 551.7h1M473.7 548.8h1M464.7 555.8h1M458.0 551.7h1M454.5 557.5h1M468.7 555.0h1M460.7 558.6h1M446.2 558.3h1M451.2 559.8h1M445.3 555.3h1M456.3 563.8h1M445.5 552.0h1M462.7 560.0h1M470.8 564.0h1M455.6 557.9h1M462.5 555.3h1M453.9 547.8h1M474.2 560.0h1M462.6 566.2h1M464.9 560.7h1M465.2 562.4h1M453.0 558.0h1M435.2 559.3h1M466.0 563.7h1M448.0 551.9h1M467.2 557.3h1M455.0 566.5h1M452.7 564.9h1M464.3 553.6h1M441.3 556.1h1M459.7 564.5h1M441.8 559.2h1M451.8 557.6h1M450.2 566.8h1M453.6 558.7h1M455.8 553.7h1M455.8 554.4h1M465.4 562.0h1M467.1 553.1h1M458.1 555.0h1M445.3 560.4h1M467.6 551.2h1M456.3 555.5h1M450.9 551.2h1M465.9 550.8h1M438.1 565.3h1M434.9 560.1h1M471.2 554.8h1M458.6 561.9h1M467.1 561.5h1M455.3 548.6h1M447.3 570.3h1M454.8 552.1h1M460.0 570.0h1M444.8 556.6h1M470.4 558.2h1M467.8 554.6h1M465.6 551.3h1M451.9 553.5h1M447.6 550.4h1M471.7 558.3h1M443.1 567.3h1M476.0 559.6h1M444.3 560.9h1M463.7 562.9h1M447.6 554.6h1M454.0 558.2h1M462.5 569.1h1M451.4 555.6h1M442.6 557.2h1M444.7 556.9h1M450.2 559.2h1M473.6 558.4h1M463.1 558.4h1M466.6 564.6h1M460.8 549.2h1M442.5 557.1h1M446.3 554.8h1M471.3 565.9h1M461.9 558.5h1M453.5 550.2h1M456.1 553.7h1M473.1 563.4h1M459.6 562.5h1M447.9 550.7h1M446.3 559.6h1M459.7 560.8h1M435.3 565.9h1M475.4 563.9h1M462.6 548.8h1M454.7 561.0h1M464.8 565.5h1M458.6 556.7h1M457.5 555.6h1M459.6 554.2h1M463.7 558.1h1M464.3 558.4h1M448.1 556.6h1M464.8 561.5h1M462.2 557.8h1M468.8 556.8h1M464.1 552.2h1M468.3 564.7h1M466.2 554.7h1M474.8 558.6h1M462.3 558.7h1M465.1 562.5h1M459.7 560.9h1M443.2 551.7h1M460.9 551.0h1M467.5 548.3h1M459.3 553.3h1M465.5 552.2h1M460.8 566.2h1M460.4 547.3h1M431.6 559.3h1M435.5 563.5h1M440.5 567.3h1M459.8 547.4h1M448.9 560.6h1M463.1 562.3h1M449.7 556.9h1M466.4 551.6h1M452.2 561.4h1M443.4 554.9h1M441.1 545.7h1M465.4 558.0h1M435.8 562.5h1M463.0 557.6h1M466.3 556.9h1M454.1 552.1h1M469.5 564.1h1M460.0 558.6h1M458.6 558.3h1M459.9 553.5h1M430.7 546.1h1M445.7 556.8h1M466.8 562.1h1M448.4 557.8h1M466.6 553.2h1M465.3 562.8h1M450.7 558.4h1M466.1 559.9h1M449.2 561.6h1M461.4 550.6h1M444.6 557.9h1M463.2 556.6h1M437.9 561.9h1M468.7 550.3h1M454.9 557.1h1M453.2 567.7h1M459.5 557.4h1M474.5 554.1h1M469.2 554.5h1M446.7 554.1h1M452.2 559.0h1M437.8 566.5h1M453.8 563.2h1M442.9 560.3h1M471.8 556.3h1M456.1 557.4h1M457.2 551.2h1M435.5 555.7h1M446.7 564.4h1M465.0 565.8h1M454.3 552.6h1M460.8 561.5h1M462.1 555.8h1M455.8 554.8h1M464.0 553.4h1M469.8 556.5h1M462.6 563.4h1M469.2 554.8h1M430.5 554.8h1M467.3 552.0h1M470.0 562.7h1M451.4 548.5h1M467.9 562.5h1M465.1 559.2h1M443.7 552.2h1M435.4 550.4h1M451.0 562.6h1M431.8 554.0h1M438.0 549.3h1M469.5 568.5h1M473.7 552.4h1M439.1 551.0h1M463.6 553.9h1M460.6 560.7h1M450.7 554.5h1M468.8 551.5h1M442.7 555.2h1M448.9 553.9h1M452.5 556.1h1M444.6 554.6h1M455.0 565.6h1M467.3 555.4h1M473.3 550.1h1M459.3 559.8h1M435.6 562.5h1M459.3 559.6h1M453.0 560.8h1M457.8 556.8h1M466.4 563.3h1M444.4 561.7h1M448.2 552.5h1M460.1 562.3h1M452.8 560.9h1M466.5 559.2h1M445.8 553.8h1M454.5 552.6h1M458.9 566.7h1M450.2 557.5h1M437.3 561.6h1M451.8 561.2h1M471.5 564.1h1M455.6 561.7h1M463.9 551.6h1M460.9 554.6h1M447.8 552.8h1M458.1 549.1h1M471.6 557.4h1M461.4 550.2h1M453.7 549.3h1M448.7 555.4h1M438.9 552.5h1M458.4 561.6h1M475.0 559.6h1M456.0 553.8h1M474.7 552.2h1M464.9 557.0h1M457.2 560.6h1M450.0 551.5h1M441.9 555.5h1M463.3 553.5h1M472.4 558.5h1M447.5 545.9h1M452.8 564.9h1M437.2 547.1h1M454.0 559.0h1M465.6 565.9h1M450.0 567.5h1M462.5 552.6h1M472.2 566.7h1M467.3 557.8h1M461.4 556.5h1M468.4 555.7h1M459.4 547.0h1M448.7 558.6h1M453.3 554.0h1M452.3 558.3h1M469.3 566.9h1M440.4 551.4h1M460.3 548.5h1M467.4 553.8h1M459.2 552.3h1M470.0 557.5h1M465.6 553.8h1M447.0 563.5h1M461.5 561.8h1M442.0 558.4h1M442.4 554.2h1M435.4 552.7h1M451.1 562.1h1M465.4 555.6h1M435.9 553.5h1M441.1 551.0h1M441.5 564.3h1M451.2 555.2h1M458.9 555.1h1M451.1 554.9h1M444.8 568.4h1M446.7 552.2h1M452.9 556.0h1M440.8 556.8h1M435.3 558.5h1M452.3 558.3h1M439.3 554.9h1M466.5 566.7h1M472.3 559.9h1M446.6 556.3h1M454.3 561.2h1M439.3 562.9h1M462.8 561.1h1M462.1 550.7h1M433.8 562.9h1M458.0 554.3h1M465.7 550.3h1M465.3 562.8h1M462.2 557.5h1M438.0 566.0h1M446.7 552.3h1M457.5 552.6h1M476.9 561.9h1M442.8 554.2h1M446.4 548.9h1M460.7 551.3h1M463.6 569.4h1M453.4 559.8h1M440.0 561.8h1M458.8 547.5h1M434.0 552.2h1M471.6 565.8h1M472.4 560.7h1M470.5 561.2h1M456.7 566.2h1M440.5 557.3h1M436.8 566.1h1M451.8 558.6h1M469.6 556.5h1M436.9 557.1h1M445.8 551.8h1M456.1 547.2h1M459.3 557.5h1M450.3 558.6h1M450.7 555.7h1M470.0 553.3h1M446.8 557.6h1M454.1 556.9h1M458.1 560.2h1M467.7 551.8h1M453.3 557.5h1M439.8 557.8h1M443.2 555.1h1M473.5 564.9h1M446.6 547.6h1M438.2 557.9h1M456.5 567.0h1M436.7 557.2h1M438.5 550.5h1M465.7 559.4h1M445.9 567.2h1M440.6 560.7h1M469.9 554.8h1M438.3 548.8h1M429.2 548.7h1M439.1 560.1h1M471.9 567.9h1M456.1 553.9h1M477.9 551.7h1M463.2 555.4h1M446.7 555.1h1M477.6 556.4h1M443.1 547.8h1M432.1 560.0h1M446.1 554.8h1M455.2 555.2h1M477.8 555.9h1M477.6 551.1h1M447.0 564.0h1M443.6 561.9h1M446.4 555.7h1M468.7 557.4h1M452.3 559.4h1M432.4 560.5h1M445.7 558.0h1M441.9 569.6h1M444.3 549.5h1M460.1 556.2h1M449.6 549.3h1M452.9 548.7h1M446.6 566.5h1M464.3 557.2h1M462.8 561.4h1M469.1 564.2h1M452.0 550.2h1M445.4 559.6h1M446.8 554.2h1M443.1 563.4h1M456.6 558.6h1M446.8 559.7h1M439.2 568.4h1M461.7 553.4h1M440.3 554.0h1M474.4 551.8h1M457.0 552.7h1M467.9 558.3h1M464.8 555.3h1M452.3 559.8h1M459.4 553.6h1M453.2 562.4h1M472.5 551.9h1M448.3 560.3h1M458.7 553.0h1M442.2 565.6h1M438.9 555.8h1M458.2 550.1h1M467.0 549.1h1M460.5 560.7h1M437.5 552.2h1M471.3 565.4h1M460.4 555.7h1M453.1 559.0h1M477.3 553.2h1M461.4 564.2h1M470.2 567.5h1M439.8 558.6h1M459.5 552.9h1M452.5 564.6h1M440.9 566.7h1M466.9 557.2h1M454.2 559.9h1M446.9 561.7h1M451.3 560.8h1M453.6 561.2h1M471.2 558.4h1M432.3 559.4h1M458.3 556.0h1M448.5 555.4h1M429.0 567.2h1M459.3 551.3h1M458.8 565.3h1M460.4 564.1h1M456.4 556.0h1M461.8 562.0h1M450.0 556.5h1M438.1 558.7h1M437.1 564.4h1M477.0 559.8h1M446.4 559.2h1M452.3 555.0h1M442.3 551.1h1M456.1 555.7h1M457.2 555.4h1M452.0 554.3h1M431.9 569.6h1M452.8 563.0h1M469.2 546.5h1M431.2 561.8h1M445.4 553.6h1M449.9 555.3h1M462.6 552.1h1M463.5 561.3h1M452.1 561.9h1M467.1 556.6h1M447.8 560.9h1M466.4 558.8h1M438.1 549.2h1M446.4 559.3h1M455.4 560.4h1M460.4 561.1h1M452.0 563.4h1M460.7 555.2h1M459.9 566.3h1M453.4 564.1h1M448.1 570.2h1M462.9 553.5h1M473.5 551.7h1M463.5 559.4h1M462.5 561.3h1M454.3 552.5h1M455.6 551.8h1M431.2 559.6h1M451.8 557.9h1M437.8 557.5h1M473.5 561.4h1M448.7 546.1h1M450.0 550.1h1M466.7 555.9h1M460.5 547.8h1M445.4 547.4h1M466.4 563.6h1M439.8 559.2h1M450.0 560.3h1M444.3 556.5h1M463.3 558.9h1M445.9 562.6h1M460.6 556.0h1M467.2 556.0h1M476.6 563.9h1M439.6 548.8h1M457.3 558.6h1M449.7 562.6h1M475.2 562.3h1M460.4 567.1h1M445.7 556.3h1M454.0 557.1h1M473.4 561.4h1M448.7 554.8h1M469.7 555.5h1M440.2 555.1h1M458.2 565.3h1M458.6 563.0h1M470.6 561.9h1M465.1 564.9h1M453.0 563.7h1M434.1 554.4h1M452.6 548.9h1M453.9 557.2h1M452.5 553.8h1M455.4 553.1h1M439.4 567.0h1M459.4 559.2h1M446.4 567.0h1M453.6 563.1h1M439.5 547.8h1M437.9 561.0h1M446.1 564.5h1M449.1 557.3h1M449.9 549.4h1M465.1 563.5h1M475.5 558.4h1M448.9 556.6h1M432.4 557.2h1M475.3 558.9h1M444.4 561.8h1M456.1 555.7h1M459.3 546.3h1M457.5 555.6h1M462.4 569.7h1M446.5 561.9h1M454.6 554.1h1M464.7 548.1h1M463.6 556.7h1M459.6 548.6h1M447.3 554.9h1M464.1 560.6h1M441.5 554.5h1M449.3 561.2h1M445.4 547.3h1M464.4 557.0h1M457.0 564.5h1M449.1 558.2h1M466.6 549.5h1M457.1 556.2h1M436.2 553.5h1M473.5 564.2h1M437.1 558.6h1M449.4 562.4h1M452.9 561.6h1M461.8 558.4h1M439.6 564.4h1M440.7 563.4h1M448.8 557.5h1M457.0 563.4h1M453.5 563.8h1M459.2 553.2h1M450.4 555.9h1M449.9 559.4h1M452.4 551.5h1M474.2 556.7h1M448.8 553.7h1M472.4 558.0h1M443.2 554.1h1M447.3 561.1h1M468.0 550.6h1M450.1 560.4h1M447.0 556.2h1M456.7 551.9h1M467.3 554.3h1M461.6 562.0h1M457.7 561.6h1M441.4 560.9h1M461.6 561.4h1M442.8 555.6h1M438.9 559.2h1M472.6 558.2h1M474.6 560.8h1M475.1 561.5h1M471.7 559.4h1M469.1 557.7h1M461.9 559.1h1M449.1 552.1h1M450.3 554.2h1M430.7 556.4h1M443.3 559.1h1M449.4 554.2h1M469.5 562.7h1M441.1 559.2h1M476.4 562.6h1M467.4 554.3h1M452.9 559.4h1M469.2 550.8h1M445.6 558.4h1M456.0 556.2h1M457.5 558.5h1M459.7 554.6h1M445.2 558.4h1M445.8 546.9h1M458.7 550.3h1M462.0 554.1h1M449.0 556.0h1M455.1 563.6h1M469.4 556.3h1M445.5 552.3h1M460.1 561.4h1M443.0 557.2h1M466.4 554.6h1M450.8 559.3h1M442.4 560.6h1M456.4 560.8h1M458.1 568.0h1M463.7 554.0h1M446.4 547.6h1M465.2 569.3h1M437.5 556.1h1M452.2 549.6h1M470.4 557.3h1M468.3 557.2h1M453.6 555.3h1M457.2 558.9h1M468.4 564.7h1M454.4 570.2h1M469.5 559.2h1M470.9 564.0h1M454.0 554.4h1M460.7 554.1h1M442.9 554.5h1M438.7 563.2h1M442.4 563.4h1M469.9 548.1h1M463.2 553.1h1M446.2 548.5h1M457.1 557.8h1M455.7 553.4h1M465.3 563.1h1M456.1 548.2h1M450.1 553.3h1M439.1 550.7h1M454.5 564.0h1M472.3 560.0h1M452.7 556.4h1M463.8 558.4h1M467.8 549.4h1M469.4 559.4h1M452.0 549.6h1M455.4 551.4h1M454.3 557.8h1M463.6 564.5h1M451.3 554.3h1M462.0 554.3h1M451.2 549.9h1M443.7 563.7h1M441.5 557.9h1M465.7 554.0h1M465.4 549.3h1M456.9 553.9h1M466.7 558.3h1M469.6 552.9h1M456.5 554.2h1M455.5 549.5h1M448.2 569.7h1M449.7 561.6h1M467.0 563.7h1M465.4 551.3h1M444.9 560.2h1M448.7 552.3h1M449.6 554.3h1M473.7 550.7h1M453.9 562.9h1M445.2 563.6h1M471.3 547.0h1M455.2 561.1h1M461.4 553.6h1M451.6 553.6h1M458.8 556.0h1M446.8 548.3h1M458.6 548.8h1M442.0 564.0h1M447.2 565.7h1M470.0 549.9h1M435.6 560.9h1M478.0 547.5h1M455.4 561.1h1M458.5 547.1h1M455.9 557.0h1M453.0 552.6h1M473.4 550.6h1M460.2 555.8h1M476.1 552.9h1M458.8 563.9h1M432.2 553.7h1M454.3 546.6h1M444.4 557.4h1M438.3 563.0h1M462.7 556.1h1M469.7 566.0h1M473.6 551.7h1M472.1 551.6h1M460.3 556.8h1M474.0 551.4h1M448.9 569.0h1M445.9 552.6h1M471.8 561.3h1M456.9 557.7h1M437.6 557.3h1M468.1 554.6h1M458.7 561.8h1M453.0 557.8h1M476.2 554.2h1M454.2 562.1h1M463.6 558.9h1M456.4 554.9h1M463.8 550.1h1M461.5 565.0h1M447.9 554.7h1M444.9 567.1h1M435.7 565.4h1M464.7 556.6h1M433.8 558.8h1M458.1 562.8h1M439.8 566.0h1M436.5 568.3h1M459.5 549.6h1M449.7 555.1h1M462.1 560.2h1M449.6 553.4h1M468.7 565.2h1M467.7 554.3h1M466.1 561.1h1M442.3 561.2h1M437.2 559.1h1M455.7 562.3h1M456.7 557.9h1M459.8 564.9h1M434.1 552.1h1M463.4 548.2h1M458.4 553.4h1M454.0 550.4h1M450.8 556.4h1M431.5 568.9h1M435.1 552.2h1M445.9 552.4h1M466.2 548.9h1M445.9 556.3h1M454.7 562.9h1M471.9 558.9h1M463.4 550.8h1M448.3 555.1h1M456.6 554.4h1M452.4 548.0h1M457.2 559.8h1M474.0 555.5h1M462.2 566.0h1M444.4 560.8h1M465.3 554.5h1M468.1 558.2h1M458.8 552.6h1M464.6 548.7h1M477.6 552.5h1M446.9 555.6h1M477.0 558.2h1M473.5 555.4h1M453.2 554.4h1M456.2 557.6h1M451.1 559.9h1M459.9 554.4h1M443.8 552.5h1M448.3 555.5h1M430.9 555.9h1M468.6 567.9h1M467.7 557.8h1M439.7 560.7h1M438.9 558.5h1M468.2 561.7h1M449.5 557.5h1M459.5 552.0h1M463.8 556.3h1M454.2 553.2h1M474.6 562.8h1M461.7 561.9h1M462.9 547.9h1M450.1 554.1h1M437.2 556.6h1M458.3 554.1h1M472.9 562.0h1M444.3 554.7h1M450.6 557.7h1M439.9 556.6h1M436.3 547.3h1M460.5 554.8h1M464.8 548.0h1M437.1 552.1h1M459.8 564.2h1M443.0 558.7h1M440.6 558.6h1M457.0 552.4h1M455.3 566.0h1M436.8 552.8h1M468.3 551.2h1M462.7 562.0h1M468.6 563.6h1M463.3 550.0h1M447.9 559.4h1M443.8 554.5h1M442.3 565.9h1M459.3 549.7h1M444.6 560.8h1M454.7 555.6h1M453.1 557.2h1M437.8 551.8h1M466.0 553.4h1M458.3 557.0h1M448.3 550.4h1M458.3 557.2h1M456.9 549.8h1M461.6 551.6h1M463.1 565.6h1M457.0 564.0h1M450.5 551.7h1M454.0 552.2h1M435.0 559.3h1M449.5 557.5h1M465.7 562.5h1M437.8 560.1h1M458.0 566.8h1M466.0 557.8h1M464.5 562.1h1M435.9 549.8h1M452.7 557.7h1M474.4 559.2h1M452.1 561.5h1M467.6 553.8h1M447.0 570.3h1M456.0 564.4h1M454.2 559.3h1M447.6 568.8h1M439.9 563.0h1M470.0 556.1h1M431.0 564.7h1M443.7 553.9h1M442.0 565.4h1M444.7 551.3h1M445.3 561.6h1M435.2 551.8h1M459.4 563.3h1M434.8 560.2h1M439.6 569.8h1M447.2 555.3h1M454.1 552.4h1M453.7 562.3h1M444.6 555.8h1M476.5 552.3h1M443.4 554.7h1M438.7 560.2h1M450.2 562.9h1M445.2 553.6h1M446.8 549.8h1M459.5 551.7h1M438.2 558.2h1M445.0 555.5h1M453.5 557.9h1M446.7 561.1h1M456.2 555.7h1M461.3 565.7h1M452.9 559.0h1M435.3 557.4h1M455.6 555.3h1M451.4 559.7h1M457.6 551.9h1M467.0 559.7h1M466.3 568.1h1M456.3 551.3h1M471.3 568.2h1M450.9 564.2h1M446.0 563.1h1M433.9 563.9h1M429.1 551.6h1M446.8 563.9h1M471.3 555.4h1M461.1 560.4h1M472.9 557.4h1M440.9 562.1h1M471.9 563.9h1M441.4 560.6h1M457.1 550.8h1M452.8 552.2h1M439.9 557.2h1M441.9 564.5h1M437.5 560.6h1M476.6 558.3h1M441.5 557.5h1M457.9 552.5h1M445.4 563.2h1M450.4 556.5h1M475.7 560.2h1M463.2 552.3h1M446.6 569.0h1M452.1 558.4h1M455.0 565.1h1M467.2 562.3h1M442.4 560.0h1M444.8 548.6h1M435.7 558.9h1M443.2 562.3h1M444.6 549.9h1M445.4 556.2h1M454.9 553.4h1M464.0 554.6h1M464.9 565.0h1M460.6 560.8h1M475.7 553.8h1M463.2 550.8h1M476.1 549.4h1M441.3 557.9h1M458.4 555.3h1M414.9 566.4h1M415.8 559.2h1M435.3 548.7h1M431.0 560.9h1M420.6 558.7h1M419.3 557.0h1M419.2 570.3h1M435.0 551.9h1M424.6 558.4h1M434.3 571.7h1M410.5 558.0h1M422.3 573.4h1M412.9 555.5h1M429.6 566.9h1M417.2 568.2h1M423.1 569.8h1M427.2 560.1h1M433.4 562.2h1M415.4 555.9h1M413.9 551.3h1M410.5 547.9h1M434.1 568.1h1M410.8 560.2h1M424.2 558.3h1M431.1 557.0h1M427.1 558.9h1M422.9 558.2h1M428.2 564.4h1M420.1 550.6h1M430.1 556.0h1M423.3 550.1h1M422.2 569.2h1M417.3 555.3h1M414.1 563.6h1M420.6 567.6h1M435.0 570.4h1M433.2 562.4h1M431.3 556.2h1M431.4 555.8h1M422.3 559.9h1M432.8 555.7h1M421.4 567.5h1M421.5 561.1h1M420.9 551.8h1M428.1 561.7h1M417.7 558.0h1M416.7 554.9h1M411.2 572.0h1M419.1 559.4h1M429.3 550.2h1M430.8 567.4h1M430.1 565.3h1M432.8 554.5h1M435.4 554.0h1M416.4 560.4h1M410.2 558.1h1M418.0 549.0h1M415.4 562.1h1M434.0 555.8h1M409.0 560.1h1M412.2 558.8h1M425.0 547.5h1M414.6 559.5h1M430.7 550.5h1M411.2 556.1h1M433.4 566.1h1M427.1 565.8h1M427.4 573.0h1M417.8 561.9h1M411.9 552.5h1M419.8 552.8h1M433.6 555.2h1M415.0 561.8h1M410.1 561.6h1M427.4 549.6h1M436.0 571.5h1M432.0 558.4h1M432.2 559.2h1M424.9 550.3h1M423.7 557.4h1M417.0 571.0h1M421.6 562.2h1M411.4 547.6h1M416.1 564.8h1M415.2 563.1h1M434.6 553.5h1M428.7 559.5h1M411.2 553.9h1M424.0 556.8h1M430.5 556.5h1M430.4 554.9h1M428.6 559.7h1M419.9 555.5h1M429.0 548.0h1M419.3 559.5h1M410.3 558.7h1M418.2 559.3h1M417.3 557.2h1M426.8 557.5h1M431.0 550.3h1M430.8 566.9h1M420.6 561.4h1M433.4 546.2h1M423.2 552.7h1M424.2 567.8h1M424.6 550.2h1M426.7 552.7h1M412.2 551.2h1M420.1 560.8h1M410.7 552.4h1M422.7 559.0h1M433.5 552.1h1M430.8 548.0h1M429.2 551.4h1M420.4 559.9h1M421.9 564.0h1M415.7 563.5h1M420.0 561.6h1M421.1 561.7h1M411.2 555.3h1M418.4 554.8h1M432.7 549.2h1M435.2 552.1h1M427.2 562.3h1M435.4 559.6h1M413.9 548.9h1M427.0 556.8h1M414.4 570.2h1M426.1 563.7h1M420.8 573.3h1M425.8 559.4h1M428.6 553.7h1M414.0 556.9h1M423.0 562.4h1M413.8 551.7h1M422.9 567.0h1M415.6 560.0h1M425.1 560.9h1M409.3 550.5h1M431.8 557.6h1M411.1 567.2h1M434.8 560.7h1M413.0 554.9h1M433.3 566.4h1M414.4 553.5h1M429.4 563.5h1M423.5 568.5h1M428.4 561.2h1M425.7 551.0h1M428.1 548.1h1M416.4 560.7h1M427.8 550.7h1M414.8 549.1h1M420.1 553.8h1M432.3 569.7h1M435.5 569.0h1M429.3 565.4h1M426.7 552.2h1M428.2 562.8h1M433.8 566.3h1M418.3 564.9h1M431.5 557.8h1M421.6 550.6h1M411.8 563.9h1M429.7 559.8h1M424.1 563.6h1M433.7 569.2h1M434.6 547.2h1M414.9 549.3h1M435.5 571.4h1M413.5 564.9h1M413.9 555.9h1M416.1 557.8h1M429.3 570.0h1M427.9 554.3h1M421.7 547.8h1M418.6 563.4h1M435.2 554.8h1M414.6 559.8h1M418.1 572.8h1M427.9 567.3h1M410.1 569.2h1M427.6 551.2h1M420.3 560.2h1M435.3 560.3h1M417.0 548.5h1M429.2 552.5h1M410.9 562.6h1M410.1 573.1h1M422.9 556.1h1M426.1 555.7h1M417.9 551.5h1M430.1 565.4h1M412.8 563.9h1M428.6 546.7h1M415.8 564.1h1M414.5 547.0h1M427.6 557.6h1M422.4 551.7h1M421.4 551.6h1M418.5 555.7h1M427.6 563.6h1M410.4 560.9h1M415.4 553.3h1M417.6 562.1h1M432.8 567.1h1M432.6 555.0h1M412.3 551.3h1M416.1 553.9h1M434.8 571.4h1M433.8 554.6h1M432.7 568.4h1M427.5 555.1h1M433.4 557.8h1M425.2 551.0h1M422.2 562.2h1M410.3 551.4h1M426.2 569.4h1M419.4 552.4h1M429.4 546.4h1M434.1 564.3h1M427.0 553.6h1M417.5 565.8h1M414.5 559.7h1M426.3 563.0h1M434.4 556.9h1M418.5 545.7h1M425.7 561.3h1M420.5 554.8h1M418.6 567.3h1M413.8 553.1h1M415.0 550.8h1M411.0 566.3h1M430.7 546.6h1M422.5 556.2h1M414.3 560.1h1M416.5 552.9h1M421.8 566.7h1M410.3 559.2h1M433.4 551.8h1M433.6 562.2h1M415.1 571.1h1M430.8 562.6h1M434.8 558.9h1M422.5 565.0h1M418.1 552.9h1M423.6 564.9h1M425.9 557.2h1M433.1 556.3h1M428.7 560.6h1M423.9 566.3h1M434.1 554.1h1M423.8 564.4h1M410.7 561.8h1M409.5 559.6h1M429.3 554.4h1M426.0 560.2h1M411.4 564.9h1M410.2 556.5h1M422.1 557.2h1M422.9 561.7h1M428.6 554.5h1M420.4 559.5h1M425.5 560.3h1M412.7 548.0h1M428.7 565.7h1M424.9 568.1h1M414.2 551.9h1M431.6 562.4h1M429.6 569.0h1M414.0 561.3h1M429.5 561.9h1M435.9 558.7h1M425.5 557.6h1M419.3 563.4h1M433.1 561.1h1M432.3 553.4h1M415.4 558.0h1M415.9 549.4h1M419.5 555.8h1M434.9 549.3h1M409.2 557.7h1M410.9 557.2h1M426.4 554.2h1M412.0 555.7h1M434.8 557.4h1M415.5 572.5h1M418.5 557.9h1M425.9 565.0h1M417.1 559.6h1M433.3 571.2h1M431.7 571.9h1M428.2 566.2h1M428.9 554.3h1M415.4 563.6h1M419.1 554.8h1M419.1 561.6h1M413.4 566.3h1M429.9 554.3h1M412.0 560.6h1M414.2 555.8h1M417.2 571.8h1M413.2 563.1h1M415.7 550.3h1M432.8 553.7h1M436.0 561.9h1M434.5 557.0h1M419.5 556.6h1M429.1 556.8h1M431.0 551.0h1M423.8 564.9h1M426.3 556.4h1M422.2 554.2h1M409.0 563.4h1M409.2 553.5h1M429.6 569.2h1M425.8 551.2h1M425.0 555.4h1M432.3 566.0h1M427.8 565.4h1M410.0 559.7h1M416.6 550.2h1M435.9 557.5h1M429.8 564.3h1M409.1 550.9h1M411.7 550.1h1M416.4 568.6h1M413.8 548.3h1M420.8 562.4h1M426.9 559.9h1M417.4 564.7h1M424.6 558.1h1M425.4 565.3h1M428.1 567.2h1M433.8 564.3h1M433.4 560.8h1M415.6 548.4h1M424.8 552.6h1M417.5 557.2h1M426.3 550.2h1M422.0 555.6h1M412.1 551.9h1M426.9 568.9h1M435.7 556.4h1M420.0 566.7h1M409.5 566.5h1M428.5 568.9h1M423.0 567.4h1M434.9 553.4h1M427.0 561.6h1M446.1 549.8h1M436.3 570.4h1M437.7 569.2h1M465.1 548.9h1M468.3 549.7h1M432.7 574.1h1M433.0 563.6h1M459.4 563.3h1M460.6 574.0h1M468.0 558.5h1M470.8 550.1h1M451.2 554.3h1M449.1 551.1h1M472.3 554.4h1M449.2 548.8h1M462.6 548.8h1M465.1 571.8h1M456.6 561.4h1M463.8 571.1h1M463.6 574.3h1M451.7 563.7h1M467.8 550.9h1M454.8 560.3h1M434.6 552.9h1M471.1 570.7h1M441.7 551.0h1M447.5 567.2h1M440.2 559.2h1M454.6 573.8h1M440.0 554.1h1M455.0 554.5h1M437.1 559.3h1M471.8 555.6h1M457.1 570.9h1M459.8 572.6h1M468.8 546.7h1M435.5 570.2h1M432.3 561.7h1M436.2 553.0h1M459.9 574.0h1M454.8 546.3h1M470.0 563.8h1M448.6 559.0h1M435.2 574.0h1M433.2 549.4h1M446.9 571.7h1M462.2 548.3h1M440.8 563.4h1M436.5 551.0h1M433.1 564.9h1M435.5 546.7h1M472.8 550.1h1M451.6 562.7h1M473.3 559.1h1M438.6 568.3h1M476.3 565.6h1M453.8 563.8h1M467.4 549.2h1M476.4 567.9h1M451.0 569.3h1M470.6 554.0h1M442.1 564.9h1M445.1 572.2h1M444.5 570.9h1M459.6 566.6h1M440.7 550.7h1M475.4 547.8h1M469.0 556.4h1M473.9 551.1h1M467.5 549.5h1M458.2 557.6h1M466.0 560.6h1M449.0 547.7h1M478.9 557.2h1M474.9 569.7h1M431.6 556.3h1M458.9 559.8h1M462.9 562.6h1M454.0 562.2h1M435.9 571.9h1M475.8 557.6h1M472.7 549.8h1M441.7 571.2h1M447.4 564.9h1M469.4 573.4h1M434.0 546.1h1M432.1 574.0h1M444.1 549.6h1M467.8 561.3h1M463.0 573.0h1M453.6 563.9h1M468.8 553.6h1M477.9 547.4h1M458.8 554.9h1M435.6 569.1h1M439.1 557.8h1M469.4 552.0h1M475.6 570.1h1M465.7 572.8h1M471.4 559.0h1M446.1 566.8h1M461.4 556.7h1M469.3 564.8h1M454.5 548.0h1M452.2 571.0h1M438.4 557.7h1M444.5 549.6h1M455.3 571.5h1M466.3 552.9h1M439.5 565.0h1M478.7 573.3h1M466.2 555.1h1M457.6 550.7h1M469.4 569.2h1M435.5 563.2h1M473.5 556.5h1M460.5 571.3h1M443.9 548.0h1M440.9 554.8h1M460.4 548.6h1M437.4 557.3h1M440.9 568.8h1M476.6 572.6h1M433.6 566.8h1M435.6 573.8h1M451.6 556.2h1M474.6 568.4h1M441.0 556.4h1M437.6 570.0h1M433.9 564.0h1M433.1 547.2h1M471.8 554.4h1M441.0 558.4h1M456.8 569.3h1M464.4 568.3h1M467.5 549.7h1M439.4 558.0h1M466.3 566.0h1M464.4 555.0h1M472.7 563.1h1M450.3 573.4h1M466.2 567.9h1M455.8 554.7h1M435.6 551.5h1M431.5 555.3h1M464.3 561.6h1M460.8 554.2h1M437.7 573.5h1M453.7 547.8h1M460.7 556.9h1M443.7 546.5h1M469.2 551.7h1M453.7 553.2h1M462.2 560.3h1M456.7 571.4h1M457.3 551.6h1M445.3 570.5h1M471.8 554.9h1M474.4 560.1h1M432.6 568.4h1M459.4 549.3h1M476.0 566.4h1M469.2 554.0h1M433.8 549.7h1M467.0 552.6h1M459.7 564.3h1M447.7 570.1h1M457.8 558.1h1M442.6 564.2h1M449.8 564.4h1M445.8 547.0h1M463.7 550.0h1M436.5 556.0h1M456.8 551.2h1M467.8 554.9h1M451.5 551.8h1M453.1 552.2h1M465.4 549.8h1M461.1 571.3h1M435.3 553.8h1M439.9 562.3h1M432.0 547.2h1M471.9 553.5h1M438.4 572.9h1M452.3 573.0h1M468.6 556.3h1M449.7 570.9h1M466.0 573.7h1M448.3 574.1h1M442.1 559.5h1M461.7 548.3h1M455.7 554.7h1M475.2 559.8h1M446.5 553.8h1M450.4 546.3h1M447.4 546.4h1M467.1 552.5h1M459.7 551.8h1M463.9 570.3h1M473.4 550.9h1M461.4 552.9h1M460.2 545.6h1M439.2 567.3h1M470.7 561.8h1M448.5 562.9h1M434.1 572.9h1M445.6 573.0h1M442.1 548.4h1M455.7 548.4h1M468.6 553.5h1M459.3 552.9h1M458.9 550.3h1M441.4 556.8h1M434.1 562.5h1M439.6 561.7h1M432.5 569.9h1M472.7 553.7h1M476.9 566.5h1M443.8 565.2h1M442.4 558.1h1M477.3 548.4h1M473.6 565.7h1M472.8 555.7h1M442.6 555.8h1M439.3 564.5h1M463.2 548.2h1M454.1 554.1h1M444.4 551.8h1M458.8 546.2h1M449.0 556.5h1M460.5 564.3h1M459.7 561.6h1M461.5 559.5h1M436.9 552.9h1M448.7 573.3h1M458.1 556.7h1M461.7 557.6h1M459.6 548.4h1M450.5 555.1h1M456.2 555.4h1M435.0 553.1h1M457.8 545.8h1M445.7 551.5h1M431.3 561.8h1M438.0 554.8h1M439.6 564.3h1M435.0 552.5h1M463.4 550.7h1M443.9 561.7h1M433.6 567.0h1M468.9 553.1h1M471.7 550.4h1M447.6 552.7h1M433.5 557.7h1M455.5 557.3h1M454.8 559.6h1M465.0 559.1h1M442.0 556.2h1M473.4 563.0h1M443.6 558.7h1M464.7 562.2h1M438.5 550.0h1M453.7 555.5h1M441.9 546.4h1M473.5 559.7h1M456.0 569.9h1M447.9 546.3h1M460.8 555.0h1M450.4 551.9h1M439.8 567.4h1M457.0 557.5h1M440.1 569.0h1M433.0 572.6h1M462.3 564.8h1M455.7 553.9h1M467.2 551.5h1M462.8 557.9h1M447.6 550.8h1M447.2 568.8h1M468.0 566.6h1M430.2 566.0h1M440.6 570.2h1M471.0 548.7h1M437.5 546.9h1M465.8 565.4h1M435.1 545.8h1M433.2 558.0h1M468.2 564.0h1M474.5 570.8h1M447.2 552.9h1M442.5 559.7h1M466.3 545.9h1M478.8 550.5h1M442.4 563.6h1M459.1 559.5h1M452.4 550.5h1M462.8 546.3h1M462.0 573.5h1M459.2 574.0h1M468.9 563.7h1M463.5 541.8h1M460.3 542.0h1M446.3 544.8h1M464.2 542.5h1M450.7 540.1h1M422.4 542.3h1M450.9 542.2h1M427.5 540.7h1M469.1 539.1h1M433.3 544.0h1M448.2 542.6h1M427.2 542.0h1M436.2 540.7h1M447.1 542.7h1M437.4 543.7h1M443.3 540.8h1M453.5 541.8h1M469.3 541.6h1M462.2 543.6h1M452.3 539.2h1M452.4 541.2h1M461.9 542.3h1M467.1 540.6h1M452.9 544.2h1M469.3 543.5h1M452.4 544.5h1M442.5 541.2h1M440.1 543.0h1M454.8 543.0h1M434.4 544.5h1M439.9 541.2h1M445.4 545.0h1M478.1 543.8h1M460.5 542.2h1M450.7 543.2h1M441.4 543.7h1M470.3 541.8h1M455.7 543.5h1M471.2 543.4h1M449.8 545.0h1M414.7 541.5h1M433.1 542.7h1M464.8 542.8h1M457.1 544.7h1M461.1 541.9h1M467.0 520.6h1M441.0 530.0h1M450.8 534.0h1M464.0 531.0h1M434.4 537.0h1M428.5 538.5h1M457.0 535.0h1" stroke="#000" stroke-width="1" fill="none"/>
<line x1="405.60" y1="443.00" x2="405.60" y2="575.60" stroke="#222" stroke-width="1" shape-rendering="crispEdges"/>
<line x1="348.00" y1="544.60" x2="484.40" y2="544.60" stroke="#222" stroke-width="1" shape-rendering="crispEdges"/>
<line x1="348.00" y1="575.60" x2="484.40" y2="575.60" stroke="#111" stroke-width="1.2" shape-rendering="crispEdges"/>
<line x1="348.00" y1="575.60" x2="348.00" y2="579.60" stroke="#222" stroke-width="0.9" shape-rendering="crispEdges"/>
<line x1="358.27" y1="575.60" x2="358.27" y2="577.90" stroke="#222" stroke-width="0.9" shape-rendering="crispEdges"/>
<line x1="364.27" y1="575.60" x2="364.27" y2="577.90" stroke="#222" stroke-width="0.9" shape-rendering="crispEdges"/>
<line x1="368.53" y1="575.60" x2="368.53" y2="577.90" stroke="#222" stroke-width="0.9" shape-rendering="crispEdges"/>
<line x1="371.83" y1="575.60" x2="371.83" y2="577.90" stroke="#222" stroke-width="0.9" shape-rendering="crispEdges"/>
<line x1="374.53" y1="575.60" x2="374.53" y2="577.90" stroke="#222" stroke-width="0.9" shape-rendering="crispEdges"/>
<line x1="376.82" y1="575.60" x2="376.82" y2="577.90" stroke="#222" stroke-width="0.9" shape-rendering="crispEdges"/>
<line x1="378.80" y1="575.60" x2="378.80" y2="577.90" stroke="#222" stroke-width="0.9" shape-rendering="crispEdges"/>
<line x1="380.54" y1="575.60" x2="380.54" y2="577.90" stroke="#222" stroke-width="0.9" shape-rendering="crispEdges"/>
<line x1="382.10" y1="575.60" x2="382.10" y2="579.60" stroke="#222" stroke-width="0.9" shape-rendering="crispEdges"/>
<line x1="392.37" y1="575.60" x2="392.37" y2="577.90" stroke="#222" stroke-width="0.9" shape-rendering="crispEdges"/>
<line x1="398.37" y1="575.60" x2="398.37" y2="577.90" stroke="#222" stroke-width="0.9" shape-rendering="crispEdges"/>
<line x1="402.63" y1="575.60" x2="402.63" y2="577.90" stroke="#222" stroke-width="0.9" shape-rendering="crispEdges"/>
<line x1="405.93" y1="575.60" x2="405.93" y2="577.90" stroke="#222" stroke-width="0.9" shape-rendering="crispEdges"/>
<line x1="408.63" y1="575.60" x2="408.63" y2="577.90" stroke="#222" stroke-width="0.9" shape-rendering="crispEdges"/>
<line x1="410.92" y1="575.60" x2="410.92" y2="577.90" stroke="#222" stroke-width="0.9" shape-rendering="crispEdges"/>
<line x1="412.90" y1="575.60" x2="412.90" y2="577.90" stroke="#222" stroke-width="0.9" shape-rendering="crispEdges"/>
<line x1="414.64" y1="575.60" x2="414.64" y2="577.90" stroke="#222" stroke-width="0.9" shape-rendering="crispEdges"/>
<line x1="416.20" y1="575.60" x2="416.20" y2="579.60" stroke="#222" stroke-width="0.9" shape-rendering="crispEdges"/>
<line x1="426.47" y1="575.60" x2="426.47" y2="577.90" stroke="#222" stroke-width="0.9" shape-rendering="crispEdges"/>
<line x1="432.47" y1="575.60" x2="432.47" y2="577.90" stroke="#222" stroke-width="0.9" shape-rendering="crispEdges"/>
<line x1="436.73" y1="575.60" x2="436.73" y2="577.90" stroke="#222" stroke-width="0.9" shape-rendering="crispEdges"/>
<line x1="440.03" y1="575.60" x2="440.03" y2="577.90" stroke="#222" stroke-width="0.9" shape-rendering="crispEdges"/>
<line x1="442.73" y1="575.60" x2="442.73" y2="577.90" stroke="#222" stroke-width="0.9" shape-rendering="crispEdges"/>
<line x1="445.02" y1="575.60" x2="445.02" y2="577.90" stroke="#222" stroke-width="0.9" shape-rendering="crispEdges"/>
<line x1="447.00" y1="575.60" x2="447.00" y2="577.90" stroke="#222" stroke-width="0.9" shape-rendering="crispEdges"/>
<line x1="448.74" y1="575.60" x2="448.74" y2="577.90" stroke="#222" stroke-width="0.9" shape-rendering="crispEdges"/>
<line x1="450.30" y1="575.60" x2="450.30" y2="579.60" stroke="#222" stroke-width="0.9" shape-rendering="crispEdges"/>
<line x1="460.57" y1="575.60" x2="460.57" y2="577.90" stroke="#222" stroke-width="0.9" shape-rendering="crispEdges"/>
<line x1="466.57" y1="575.60" x2="466.57" y2="577.90" stroke="#222" stroke-width="0.9" shape-rendering="crispEdges"/>
<line x1="470.83" y1="575.60" x2="470.83" y2="577.90" stroke="#222" stroke-width="0.9" shape-rendering="crispEdges"/>
<line x1="474.13" y1="575.60" x2="474.13" y2="577.90" stroke="#222" stroke-width="0.9" shape-rendering="crispEdges"/>
<line x1="476.83" y1="575.60" x2="476.83" y2="577.90" stroke="#222" stroke-width="0.9" shape-rendering="crispEdges"/>
<line x1="479.12" y1="575.60" x2="479.12" y2="577.90" stroke="#222" stroke-width="0.9" shape-rendering="crispEdges"/>
<line x1="481.10" y1="575.60" x2="481.10" y2="577.90" stroke="#222" stroke-width="0.9" shape-rendering="crispEdges"/>
<line x1="482.84" y1="575.60" x2="482.84" y2="577.90" stroke="#222" stroke-width="0.9" shape-rendering="crispEdges"/>
<line x1="484.40" y1="575.60" x2="484.40" y2="579.60" stroke="#222" stroke-width="0.9" shape-rendering="crispEdges"/>
<line x1="344.50" y1="575.60" x2="348.00" y2="575.60" stroke="#333" stroke-width="0.8" shape-rendering="crispEdges"/>
<line x1="346.00" y1="565.62" x2="348.00" y2="565.62" stroke="#333" stroke-width="0.8" shape-rendering="crispEdges"/>
<line x1="346.00" y1="559.78" x2="348.00" y2="559.78" stroke="#333" stroke-width="0.8" shape-rendering="crispEdges"/>
<line x1="346.00" y1="555.64" x2="348.00" y2="555.64" stroke="#333" stroke-width="0.8" shape-rendering="crispEdges"/>
<line x1="346.00" y1="552.43" x2="348.00" y2="552.43" stroke="#333" stroke-width="0.8" shape-rendering="crispEdges"/>
<line x1="346.00" y1="549.80" x2="348.00" y2="549.80" stroke="#333" stroke-width="0.8" shape-rendering="crispEdges"/>
<line x1="346.00" y1="547.58" x2="348.00" y2="547.58" stroke="#333" stroke-width="0.8" shape-rendering="crispEdges"/>
<line x1="346.00" y1="545.66" x2="348.00" y2="545.66" stroke="#333" stroke-width="0.8" shape-rendering="crispEdges"/>
<line x1="346.00" y1="543.97" x2="348.00" y2="543.97" stroke="#333" stroke-width="0.8" shape-rendering="crispEdges"/>
<line x1="344.50" y1="542.45" x2="348.00" y2="542.45" stroke="#333" stroke-width="0.8" shape-rendering="crispEdges"/>
<line x1="346.00" y1="532.47" x2="348.00" y2="532.47" stroke="#333" stroke-width="0.8" shape-rendering="crispEdges"/>
<line x1="346.00" y1="526.63" x2="348.00" y2="526.63" stroke="#333" stroke-width="0.8" shape-rendering="crispEdges"/>
<line x1="346.00" y1="522.49" x2="348.00" y2="522.49" stroke="#333" stroke-width="0.8" shape-rendering="crispEdges"/>
<line x1="346.00" y1="519.28" x2="348.00" y2="519.28" stroke="#333" stroke-width="0.8" shape-rendering="crispEdges"/>
<line x1="346.00" y1="516.65" x2="348.00" y2="516.65" stroke="#333" stroke-width="0.8" shape-rendering="crispEdges"/>
<line x1="346.00" y1="514.43" x2="348.00" y2="514.43" stroke="#333" stroke-width="0.8" shape-rendering="crispEdges"/>
<line x1="346.00" y1="512.51" x2="348.00" y2="512.51" stroke="#333" stroke-width="0.8" shape-rendering="crispEdges"/>
<line x1="346.00" y1="510.82" x2="348.00" y2="510.82" stroke="#333" stroke-width="0.8" shape-rendering="crispEdges"/>
<line x1="344.50" y1="509.30" x2="348.00" y2="509.30" stroke="#333" stroke-width="0.8" shape-rendering="crispEdges"/>
<line x1="346.00" y1="499.32" x2="348.00" y2="499.32" stroke="#333" stroke-width="0.8" shape-rendering="crispEdges"/>
<line x1="346.00" y1="493.48" x2="348.00" y2="493.48" stroke="#333" stroke-width="0.8" shape-rendering="crispEdges"/>
<line x1="346.00" y1="489.34" x2="348.00" y2="489.34" stroke="#333" stroke-width="0.8" shape-rendering="crispEdges"/>
<line x1="346.00" y1="486.13" x2="348.00" y2="486.13" stroke="#333" stroke-width="0.8" shape-rendering="crispEdges"/>
<line x1="346.00" y1="483.50" x2="348.00" y2="483.50" stroke="#333" stroke-width="0.8" shape-rendering="crispEdges"/>
<line x1="346.00" y1="481.28" x2="348.00" y2="481.28" stroke="#333" stroke-width="0.8" shape-rendering="crispEdges"/>
<line x1="346.00" y1="479.36" x2="348.00" y2="479.36" stroke="#333" stroke-width="0.8" shape-rendering="crispEdges"/>
<line x1="346.00" y1="477.67" x2="348.00" y2="477.67" stroke="#333" stroke-width="0.8" shape-rendering="crispEdges"/>
<line x1="344.50" y1="476.15" x2="348.00" y2="476.15" stroke="#333" stroke-width="0.8" shape-rendering="crispEdges"/>
<line x1="346.00" y1="466.17" x2="348.00" y2="466.17" stroke="#333" stroke-width="0.8" shape-rendering="crispEdges"/>
<line x1="346.00" y1="460.33" x2="348.00" y2="460.33" stroke="#333" stroke-width="0.8" shape-rendering="crispEdges"/>
<line x1="346.00" y1="456.19" x2="348.00" y2="456.19" stroke="#333" stroke-width="0.8" shape-rendering="crispEdges"/>
<line x1="346.00" y1="452.98" x2="348.00" y2="452.98" stroke="#333" stroke-width="0.8" shape-rendering="crispEdges"/>
<line x1="346.00" y1="450.35" x2="348.00" y2="450.35" stroke="#333" stroke-width="0.8" shape-rendering="crispEdges"/>
<line x1="346.00" y1="448.13" x2="348.00" y2="448.13" stroke="#333" stroke-width="0.8" shape-rendering="crispEdges"/>
<line x1="346.00" y1="446.21" x2="348.00" y2="446.21" stroke="#333" stroke-width="0.8" shape-rendering="crispEdges"/>
<line x1="346.00" y1="444.52" x2="348.00" y2="444.52" stroke="#333" stroke-width="0.8" shape-rendering="crispEdges"/>
<line x1="344.50" y1="443.00" x2="348.00" y2="443.00" stroke="#333" stroke-width="0.8" shape-rendering="crispEdges"/>
<text x="416.00" y="437.40" font-size="18.8" text-anchor="middle" class="s" font-weight="normal" fill="#111" stroke="#111" stroke-width="0.25">GFP-RV</text>
<text x="481.00" y="465.60" font-size="23" text-anchor="end" class="s" font-weight="normal" fill="#111" stroke="#111" stroke-width="0.25">0%</text>
<text transform="translate(334,507.9) rotate(-90)" font-size="15.6" text-anchor="middle" class="s" fill="#111" stroke="#111" stroke-width="0.25">NK1.1</text>
<text x="416.00" y="600.00" font-size="16" text-anchor="middle" class="s" font-weight="normal" fill="#111" stroke="#111" stroke-width="0.25">GFP</text>
<rect x="348.40" y="633.00" width="136.20" height="132.40" fill="none" stroke="#333" stroke-width="1" shape-rendering="crispEdges"/>
<path d="M465.2 749.3h1M457.5 757.9h1M443.0 716.4h1M440.3 748.8h1M461.0 745.2h1M438.1 715.7h1M446.4 733.3h1M453.4 761.7h1M436.8 737.6h1M454.0 723.2h1M450.1 746.2h1M438.3 720.8h1M450.5 739.1h1M453.1 758.2h1M455.2 730.9h1M459.8 729.7h1M465.9 763.2h1M432.0 723.0h1M449.2 736.2h1M439.0 722.2h1M457.9 734.0h1M436.5 738.2h1M460.2 744.1h1M448.0 729.3h1M446.1 752.1h1M462.9 764.1h1M448.7 758.0h1M458.3 750.7h1M427.7 741.9h1M448.3 738.2h1M455.3 747.4h1M463.0 756.0h1M460.8 759.3h1M458.4 738.6h1M451.9 743.6h1M455.8 741.7h1M448.2 722.9h1M443.1 703.0h1M451.3 733.5h1M433.5 753.5h1M443.7 741.2h1M446.9 753.9h1M472.5 721.7h1M459.1 731.3h1M447.6 710.9h1M440.2 735.7h1M458.8 747.2h1M456.5 755.4h1M437.9 737.5h1M457.5 739.9h1M453.5 754.0h1M429.6 746.0h1M461.4 746.7h1M451.8 720.5h1M447.3 705.4h1M449.6 711.0h1M444.5 736.7h1M462.1 764.1h1M451.6 744.6h1M449.5 734.7h1M446.4 735.1h1M449.5 744.3h1M445.0 753.6h1M450.6 752.1h1M438.0 731.1h1M451.9 747.8h1M449.3 739.4h1M464.6 754.8h1M455.2 752.4h1M449.6 723.9h1M446.0 732.2h1M447.1 730.5h1M440.8 745.2h1M464.5 728.1h1M433.5 733.1h1M439.3 725.6h1M438.7 740.5h1M456.0 722.8h1M437.5 740.0h1M449.7 731.5h1M431.4 752.7h1M446.7 740.8h1M449.6 722.7h1M450.6 762.6h1M443.2 746.4h1M445.4 758.4h1M450.5 752.3h1M454.0 727.9h1M440.0 737.1h1M441.2 731.9h1M466.8 744.6h1M461.6 704.1h1M472.9 744.4h1M463.7 737.7h1M450.5 757.8h1M469.0 745.8h1M444.6 760.4h1M471.2 720.1h1M443.0 754.0h1M446.9 705.4h1M451.0 748.1h1M457.7 720.9h1M445.9 742.1h1M455.1 730.4h1M451.3 730.0h1M459.3 764.5h1M443.8 753.3h1M441.2 750.0h1M437.5 747.5h1M462.2 758.8h1M433.5 745.6h1M447.7 750.3h1M465.2 734.0h1M440.2 701.7h1M454.0 738.6h1M454.1 740.5h1M453.5 722.6h1M456.3 752.3h1M468.9 737.9h1M452.7 738.3h1M448.0 718.9h1M445.6 734.6h1M451.4 738.2h1M457.2 752.3h1M468.4 758.2h1M442.5 716.1h1M447.3 732.9h1M448.7 749.1h1M438.1 729.8h1M466.4 722.8h1M458.1 757.7h1M439.6 721.0h1M454.2 748.2h1M460.8 752.7h1M441.5 746.3h1M452.4 746.6h1M436.7 729.2h1M458.8 754.9h1M446.3 745.1h1M446.0 733.6h1M447.0 724.3h1M444.2 741.1h1M451.1 740.5h1M449.3 750.3h1M452.2 744.3h1M447.4 742.1h1M458.6 754.9h1M448.3 732.7h1M444.3 724.9h1M466.4 728.8h1M459.9 742.1h1M457.3 733.1h1M448.9 760.5h1M466.1 746.9h1M462.1 755.4h1M460.4 749.5h1M450.6 738.2h1M459.5 739.9h1M455.6 734.1h1M444.7 741.1h1M459.2 724.8h1M464.5 744.8h1M455.8 732.3h1M461.8 741.3h1M455.5 716.0h1M469.9 757.6h1M444.7 733.4h1M453.4 730.1h1M437.6 741.7h1M464.3 754.8h1M455.9 735.7h1M467.5 728.0h1M443.3 723.1h1M455.6 730.0h1M451.8 757.8h1M436.2 729.9h1M457.3 746.1h1M450.1 744.0h1M445.2 748.8h1M459.2 732.4h1M445.1 722.7h1M449.7 762.6h1M445.0 739.9h1M464.3 729.4h1M448.2 742.6h1M449.7 740.0h1M464.9 753.0h1M470.8 716.1h1M455.6 742.1h1M464.8 748.5h1M450.4 753.4h1M440.5 750.2h1M456.5 745.9h1M442.2 757.4h1M449.4 734.3h1M454.9 728.6h1M460.1 742.1h1M442.5 748.2h1M470.0 761.9h1M437.6 727.5h1M457.2 759.1h1M449.3 756.2h1M440.5 757.6h1M436.8 750.0h1M463.7 741.4h1M458.1 703.1h1M459.6 740.2h1M458.7 720.6h1M468.5 746.8h1M467.2 721.3h1M443.0 751.6h1M441.9 732.2h1M443.9 761.2h1M445.5 743.9h1M461.0 728.9h1M446.2 731.7h1M462.8 734.7h1M461.0 755.9h1M455.2 757.7h1M458.1 735.2h1M459.2 752.8h1M451.3 745.4h1M448.7 740.6h1M432.1 726.7h1M461.1 749.9h1M454.6 732.2h1M453.2 747.3h1M445.6 715.8h1M443.1 750.0h1M458.1 741.7h1M456.3 713.6h1M435.1 751.7h1M441.5 742.4h1M437.7 756.6h1M439.0 753.6h1M444.4 714.1h1M467.2 729.5h1M454.2 748.6h1M442.7 723.8h1M457.1 760.1h1M448.7 739.6h1M457.6 750.9h1M435.6 756.1h1M455.9 716.5h1M449.6 722.8h1M458.5 751.2h1M450.9 739.1h1M451.1 746.1h1M447.1 756.4h1M445.1 744.4h1M446.5 740.6h1M455.4 711.7h1M434.1 761.4h1M444.8 724.3h1M444.3 729.0h1M464.1 748.0h1M470.1 727.1h1M459.1 731.1h1M445.0 741.2h1M444.5 753.2h1M468.1 716.8h1M447.8 750.0h1M440.7 738.8h1M438.9 751.2h1M463.2 744.9h1M446.0 723.4h1M463.3 743.2h1M463.5 730.2h1M441.8 741.4h1M453.2 761.3h1M456.2 740.5h1M442.6 728.8h1M457.0 749.9h1M450.8 750.3h1M465.8 760.7h1M445.8 722.6h1M451.8 738.8h1M451.7 750.9h1M453.2 753.3h1M437.4 736.7h1M452.9 735.9h1M444.4 717.1h1M459.8 744.1h1M453.3 755.2h1M445.6 707.3h1M435.2 747.5h1M458.0 735.9h1M457.6 739.5h1M451.1 764.1h1M453.2 759.6h1M440.5 761.8h1M434.7 760.2h1M458.0 738.7h1M460.6 758.7h1M460.1 749.7h1M457.0 716.4h1M461.2 719.5h1M442.4 728.0h1M436.6 740.1h1M433.9 734.9h1M454.8 746.5h1M468.4 764.5h1M461.8 745.9h1M451.5 740.2h1M435.8 746.7h1M442.1 731.9h1M436.8 744.1h1M455.8 756.5h1M454.0 745.0h1M444.3 755.5h1M439.1 756.0h1M448.8 737.8h1M458.3 746.9h1M457.4 753.1h1M429.3 720.4h1M456.2 731.5h1M441.3 733.0h1M458.7 744.6h1M439.7 742.6h1M449.4 728.9h1M472.1 738.7h1M449.5 751.7h1M452.5 758.6h1M440.9 745.2h1M439.1 726.2h1M456.0 743.6h1M440.6 750.5h1M450.6 714.6h1M440.9 759.3h1M447.9 762.5h1M459.2 719.6h1M466.1 746.4h1M433.2 726.5h1M451.3 743.2h1M442.7 730.8h1M461.0 747.4h1M462.0 744.2h1M442.7 762.9h1M457.2 746.8h1M452.1 751.7h1M458.3 731.6h1M436.2 736.9h1M443.4 745.7h1M451.2 753.2h1M458.1 715.0h1M448.4 729.2h1M438.9 726.9h1M472.8 732.4h1M440.7 724.4h1M461.0 713.9h1M439.0 738.3h1M458.7 739.9h1M434.3 720.2h1M450.0 741.5h1M451.8 716.2h1M443.0 734.9h1M452.8 747.7h1M452.5 758.2h1M440.9 752.6h1M434.1 764.1h1M453.0 750.5h1M457.6 751.6h1M461.4 739.7h1M454.6 754.0h1M433.7 709.1h1M445.2 733.1h1M449.8 750.6h1M439.9 737.4h1M453.9 750.1h1M444.5 755.1h1M450.0 739.1h1M464.2 730.8h1M430.1 740.6h1M455.3 749.8h1M443.0 754.1h1M456.1 740.5h1M453.1 740.7h1M441.4 736.0h1M462.6 747.5h1M441.7 750.7h1M457.5 744.9h1M442.7 739.7h1M441.3 701.8h1M457.2 745.1h1M459.5 759.2h1M455.6 730.0h1M451.7 740.3h1M456.6 749.3h1M457.9 723.3h1M464.7 752.9h1M458.3 730.0h1M431.4 746.5h1M453.7 755.8h1M454.6 731.7h1M451.3 736.2h1M453.9 760.5h1M443.2 741.3h1M454.5 746.5h1M455.3 730.9h1M441.8 735.8h1M441.5 742.9h1M461.5 756.0h1M440.2 741.3h1M459.5 738.2h1M430.7 736.4h1M460.4 744.9h1M463.2 715.0h1M447.1 721.4h1M461.2 733.9h1M464.8 760.6h1M455.3 745.5h1M443.4 720.5h1M453.4 730.4h1M450.2 724.5h1M466.3 746.2h1M446.1 729.2h1M446.6 747.5h1M453.5 731.1h1M454.6 725.7h1M460.0 723.3h1M449.5 728.3h1M443.8 760.8h1M456.2 739.9h1M450.6 743.8h1M448.8 750.3h1M459.4 753.6h1M463.8 720.9h1M435.3 743.8h1M444.4 717.7h1M458.0 732.7h1M435.5 743.7h1M450.6 711.2h1M463.5 755.4h1M452.7 719.4h1M444.3 734.7h1M446.8 752.6h1M454.5 743.3h1M465.0 704.7h1M446.6 718.4h1M454.1 742.5h1M448.1 737.1h1M448.5 754.6h1M454.7 764.4h1M440.2 751.8h1M457.0 735.1h1M456.2 734.8h1M459.2 751.0h1M427.6 750.9h1M464.7 757.4h1M475.2 757.5h1M439.5 742.5h1M442.5 750.8h1M471.6 747.7h1M468.0 739.2h1M452.3 750.1h1M446.2 707.0h1M447.6 724.4h1M446.3 737.2h1M455.4 721.6h1M453.2 731.9h1M437.8 734.9h1M460.8 742.8h1M429.5 739.2h1M439.9 761.6h1M452.3 721.5h1M451.5 724.9h1M448.1 724.6h1M456.6 730.4h1M466.3 722.6h1M467.3 734.2h1M464.9 761.9h1M452.7 739.0h1M449.6 714.5h1M446.3 753.7h1M471.7 745.7h1M440.6 755.2h1M465.7 738.5h1M463.0 742.4h1M460.4 736.2h1M446.7 737.0h1M459.8 730.0h1M457.1 743.3h1M455.8 742.4h1M439.8 747.3h1M445.0 750.1h1M450.8 749.5h1M445.1 760.2h1M445.7 750.1h1M471.6 727.4h1M438.9 743.7h1M438.7 761.1h1M442.7 731.3h1M467.4 760.3h1M446.6 730.5h1M450.2 720.7h1M455.6 747.6h1M464.1 752.8h1M449.9 762.3h1M446.7 733.5h1M456.7 726.7h1M459.8 737.3h1M456.8 732.7h1M453.4 728.4h1M441.6 754.5h1M450.1 732.3h1M440.8 724.9h1M447.5 753.9h1M453.0 737.1h1M458.2 753.4h1M443.9 733.4h1M447.9 744.0h1M438.8 720.7h1M450.8 721.8h1M454.3 759.6h1M462.2 755.0h1M453.7 736.4h1M453.1 740.3h1M460.4 736.8h1M442.4 751.3h1M439.2 743.1h1M439.6 724.6h1M464.3 751.4h1M447.2 754.5h1M438.6 743.6h1M441.4 748.1h1M437.2 739.1h1M443.0 722.3h1M460.1 729.7h1M454.5 736.7h1M453.4 746.6h1M442.4 736.7h1M465.5 737.9h1M437.6 744.6h1M452.6 760.2h1M453.8 754.1h1M450.1 724.8h1M442.2 715.5h1M467.6 759.7h1M459.8 730.3h1M454.8 754.8h1M451.6 718.0h1M455.6 743.0h1M460.6 726.7h1M449.4 731.4h1M454.7 741.0h1M451.4 737.6h1M438.6 734.2h1M439.1 724.9h1M433.0 731.1h1M443.7 737.6h1M444.9 731.1h1M436.8 715.9h1M460.8 735.3h1M435.4 761.8h1M448.9 758.8h1M455.0 711.9h1M453.9 754.0h1M455.8 727.5h1M445.8 725.0h1M444.4 725.0h1M447.9 748.1h1M431.6 729.0h1M452.6 759.2h1M447.9 723.6h1M467.8 748.0h1M458.5 718.2h1M439.8 755.9h1M462.3 752.9h1M452.0 729.0h1M446.5 750.1h1M443.4 754.7h1M448.2 717.1h1M459.1 752.0h1M445.0 737.6h1M442.3 736.2h1M462.6 744.6h1M446.0 740.2h1M461.3 743.0h1M456.6 738.9h1M467.8 748.8h1M462.5 718.1h1M446.2 762.4h1M450.2 711.0h1M453.3 735.7h1M440.7 732.1h1M444.5 723.8h1M443.2 753.6h1M452.3 722.4h1M440.2 757.4h1M434.6 733.6h1M456.3 733.1h1M454.8 735.6h1M456.1 754.9h1M432.5 749.2h1M445.2 755.9h1M454.1 728.1h1M456.9 752.3h1M458.0 723.5h1M445.9 750.1h1M469.7 737.6h1M468.1 723.8h1M453.0 760.8h1M460.2 761.4h1M448.6 714.2h1M448.0 764.3h1M458.5 712.1h1M464.3 740.9h1M454.4 739.1h1M458.1 734.2h1M469.2 741.8h1M450.7 732.1h1M453.1 760.3h1M437.2 737.1h1M447.4 738.9h1M435.9 728.6h1M465.7 737.8h1M466.8 729.7h1M444.1 726.2h1M442.0 732.5h1M456.3 759.4h1M462.5 735.3h1M424.6 733.1h1M448.5 711.9h1M437.4 751.9h1M457.8 706.0h1M448.6 742.0h1M444.5 760.3h1M458.5 747.8h1M449.8 744.9h1M434.5 761.1h1M446.2 735.1h1M429.0 737.1h1M471.9 756.4h1M448.7 726.4h1M468.0 756.0h1M438.2 756.5h1M443.9 755.2h1M449.8 741.4h1M448.6 749.4h1M451.1 713.9h1M447.2 757.1h1M441.0 717.9h1M466.8 712.6h1M450.3 755.5h1M449.6 718.1h1M464.3 711.0h1M441.6 746.6h1M444.2 722.1h1M456.3 755.1h1M459.3 734.4h1M458.5 734.7h1M440.6 725.7h1M458.7 749.3h1M455.4 748.2h1M460.0 743.2h1M451.0 735.0h1M437.1 740.7h1M449.2 716.0h1M452.8 745.7h1M458.0 744.9h1M453.7 756.2h1M439.0 744.4h1M461.2 762.4h1M466.6 763.0h1M450.0 747.5h1M457.4 707.8h1M447.4 754.7h1M461.9 731.2h1M452.7 755.7h1M448.9 755.5h1M441.3 728.0h1M466.2 711.8h1M455.2 746.1h1M460.5 755.3h1M444.1 733.9h1M436.9 720.8h1M445.8 736.0h1M459.5 741.3h1M444.4 743.0h1M456.7 733.3h1M448.4 743.1h1M458.0 712.0h1M449.1 739.6h1M445.0 734.9h1M452.2 729.5h1M464.7 750.6h1M441.0 724.6h1M445.5 763.2h1M469.9 740.0h1M465.4 755.1h1M463.4 738.5h1M459.4 763.7h1M475.0 754.2h1M449.1 725.7h1M450.4 746.0h1M452.1 736.8h1M449.8 741.7h1M446.6 752.6h1M454.1 752.1h1M466.7 740.8h1M456.1 739.2h1M446.6 749.8h1M441.7 743.8h1M457.6 762.4h1M458.2 751.4h1M441.9 740.8h1M456.4 762.5h1M465.8 725.5h1M447.1 715.7h1M465.5 757.0h1M438.1 731.8h1M451.0 717.7h1M456.4 736.5h1M449.6 722.7h1M445.4 741.0h1M454.6 747.0h1M473.2 724.1h1M440.0 736.4h1M443.6 762.4h1M457.1 729.6h1M444.9 717.3h1M439.1 742.1h1M457.3 748.6h1M450.4 753.0h1M443.6 727.5h1M449.4 708.1h1M447.0 744.5h1M447.1 754.5h1M464.1 751.6h1M463.2 710.3h1M429.5 725.9h1M460.5 752.1h1M448.3 738.8h1M436.9 756.7h1M451.7 753.3h1M462.2 757.5h1M441.4 755.0h1M432.0 738.8h1M449.6 739.3h1M458.2 713.5h1M436.6 750.4h1M467.4 711.5h1M450.0 710.3h1M472.5 744.0h1M442.7 748.6h1M461.1 740.8h1M453.1 750.7h1M449.3 752.4h1M465.8 753.7h1M452.3 729.3h1M440.4 711.6h1M461.3 743.2h1M443.2 737.0h1M439.3 743.4h1M460.9 755.6h1M447.0 723.6h1M448.1 746.1h1M452.4 749.6h1M441.0 735.1h1M446.4 755.4h1M430.4 725.4h1M451.7 736.2h1M448.4 734.8h1M462.0 738.7h1M461.4 762.6h1M445.7 752.7h1M450.2 737.1h1M449.5 736.7h1M449.0 761.2h1M449.5 745.5h1M439.7 725.3h1M472.4 722.2h1M445.5 722.8h1M444.5 748.6h1M446.5 717.1h1M452.4 735.3h1M443.4 749.4h1M445.6 754.5h1M442.3 753.1h1M450.5 756.9h1M448.9 733.1h1M462.5 733.2h1M457.6 749.3h1M455.8 758.8h1M448.7 761.3h1M454.6 747.5h1M462.5 751.9h1M468.8 745.3h1M454.2 755.8h1M448.8 753.6h1M465.6 719.2h1M452.5 739.0h1M452.0 718.9h1M460.0 757.3h1M445.8 721.5h1M447.9 736.6h1M460.5 731.9h1M455.3 752.4h1M460.4 746.6h1M439.6 748.1h1M456.6 751.4h1M452.3 728.0h1M442.4 733.6h1M455.8 742.8h1M448.7 761.4h1M447.4 748.2h1M447.2 750.7h1M450.8 733.0h1M447.2 761.5h1M453.7 715.7h1M442.6 752.1h1M453.8 747.7h1M449.3 731.5h1M446.2 743.2h1M429.0 720.0h1M459.6 745.0h1M446.4 753.9h1M464.8 750.2h1M440.2 738.6h1M444.5 761.2h1M459.2 755.0h1M460.4 761.4h1M449.7 704.5h1M459.9 733.7h1M451.2 730.7h1M456.8 749.6h1M445.2 752.6h1M456.1 742.5h1M460.7 762.0h1M454.2 751.8h1M448.0 719.3h1M448.1 750.1h1M451.5 751.7h1M451.9 745.4h1M464.8 734.4h1M441.3 731.0h1M447.3 742.4h1M457.6 736.8h1M441.5 740.3h1M463.1 731.5h1M453.9 733.1h1M448.1 758.7h1M436.4 758.9h1M456.0 729.2h1M437.7 747.6h1M444.2 737.1h1M440.7 758.6h1M450.1 714.3h1M446.6 735.0h1M449.8 739.2h1M440.1 752.4h1M447.9 737.2h1M452.9 733.4h1M453.4 732.2h1M453.1 740.5h1M443.1 751.5h1M468.7 762.7h1M449.7 729.3h1M431.7 751.9h1M441.1 760.3h1M439.1 749.3h1M454.8 716.8h1M430.1 755.6h1M455.2 750.9h1M458.5 738.2h1M465.3 741.1h1M446.1 750.1h1M453.7 736.0h1M447.9 741.4h1M431.6 757.5h1M466.7 727.4h1M448.6 732.6h1M446.9 749.4h1M442.8 744.9h1M440.7 718.5h1M454.3 753.2h1M434.4 726.1h1M440.6 745.1h1M466.9 730.2h1M444.8 749.0h1M445.8 757.1h1M456.9 745.9h1M468.3 724.1h1M441.0 748.9h1M438.7 742.2h1M450.0 735.6h1M470.4 754.7h1M451.6 763.0h1M459.7 742.6h1M434.4 743.7h1M433.9 754.3h1M472.6 725.5h1M455.3 755.3h1M430.5 696.1h1M441.8 738.2h1M443.5 736.5h1M460.0 724.8h1M458.1 760.0h1M450.9 760.4h1M439.5 731.0h1M454.5 737.7h1M455.0 728.9h1M447.8 729.7h1M452.6 730.7h1M446.7 744.4h1M447.7 728.0h1M433.4 753.3h1M448.8 755.1h1M439.8 756.2h1M429.1 758.3h1M436.7 756.0h1M458.4 724.7h1M460.8 756.1h1M443.7 761.9h1M448.8 750.9h1M441.1 722.5h1M443.8 742.2h1M462.6 732.2h1M464.5 747.1h1M454.7 729.6h1M447.4 739.6h1M456.0 748.9h1M464.6 742.8h1M442.7 752.7h1M442.5 737.4h1M438.0 740.1h1M458.6 725.7h1M460.2 735.4h1M433.8 732.2h1M450.0 751.5h1M444.0 731.2h1M438.5 752.0h1M468.2 750.1h1M473.8 742.2h1M453.9 750.6h1M461.9 744.2h1M434.9 745.9h1M437.3 759.0h1M435.0 731.3h1M428.5 735.6h1M451.0 745.2h1M461.4 749.6h1M437.2 755.6h1M455.8 758.3h1M428.0 728.6h1M451.7 717.9h1M439.1 718.7h1M442.1 756.1h1M445.9 763.2h1M449.4 717.7h1M452.0 727.0h1M453.2 737.4h1M443.4 736.7h1M442.5 747.7h1M442.2 721.4h1M465.5 751.8h1M432.4 728.4h1M452.7 745.0h1M443.3 735.1h1M439.5 729.3h1M457.3 711.2h1M442.6 750.5h1M456.3 730.4h1M441.4 727.4h1M458.3 740.9h1M451.8 720.9h1M445.5 763.2h1M455.2 742.5h1M455.3 735.1h1M464.3 727.5h1M456.9 746.8h1M458.3 749.6h1M459.2 730.7h1M454.2 720.2h1M444.3 712.8h1M441.7 753.1h1M445.2 755.6h1M454.3 751.5h1M440.6 737.6h1M465.3 734.0h1M431.0 760.0h1M472.1 745.0h1M445.9 730.7h1M458.0 739.8h1M460.5 704.5h1M464.9 752.3h1M440.4 746.5h1M461.8 763.2h1M465.0 733.3h1M459.4 752.8h1M450.5 750.8h1M457.7 741.7h1M441.2 736.8h1M431.6 757.9h1M456.1 726.2h1M466.2 755.8h1M460.3 757.1h1M453.4 747.7h1M446.5 761.7h1M464.8 751.1h1M449.4 715.7h1M444.7 757.0h1M432.8 764.2h1M452.9 747.6h1M449.0 721.8h1M463.5 751.9h1M459.5 743.0h1M450.9 755.2h1M468.0 724.0h1M429.7 744.1h1M453.6 760.1h1M439.9 730.2h1M464.5 763.0h1M450.9 754.2h1M449.7 720.3h1M439.8 731.0h1M432.3 722.2h1M446.7 751.3h1M458.3 748.1h1M426.4 736.7h1M458.9 753.0h1M467.5 735.4h1M437.3 712.5h1M463.8 756.5h1M455.9 731.3h1M452.6 744.2h1M470.9 738.5h1M470.7 737.3h1M446.8 748.2h1M449.9 747.8h1M446.1 731.0h1M449.7 714.2h1M449.8 762.5h1M442.5 740.8h1M463.2 727.7h1M449.8 732.2h1M457.4 746.0h1M451.8 751.6h1M453.9 726.8h1M456.8 759.6h1M455.5 751.6h1M453.8 749.5h1M449.8 749.8h1M444.8 754.7h1M449.3 743.4h1M450.3 736.6h1M458.1 724.3h1M447.6 752.4h1M454.5 727.1h1M446.7 740.3h1M446.3 753.1h1M457.4 745.1h1M456.6 764.1h1M448.5 745.6h1M464.0 722.9h1M439.0 730.5h1M434.6 746.0h1M458.9 760.5h1M430.4 733.7h1M439.3 760.3h1M446.9 739.1h1M444.0 745.1h1M438.2 761.4h1M447.4 745.0h1M456.3 701.2h1M449.3 745.6h1M432.3 762.5h1M451.5 736.6h1M454.9 734.3h1M452.3 739.4h1M448.1 734.6h1M459.8 760.3h1M444.7 725.0h1M458.5 749.2h1M445.4 718.2h1M442.5 763.2h1M456.2 745.8h1M456.5 762.5h1M457.0 751.9h1M438.7 744.3h1M459.3 726.3h1M453.0 718.7h1M464.1 737.1h1M463.0 729.3h1M454.7 751.7h1M441.4 743.7h1M470.4 750.8h1M452.5 750.9h1M450.2 752.5h1M453.6 729.4h1M447.1 727.6h1M464.5 751.5h1M440.8 750.3h1M444.5 732.8h1M457.9 752.3h1M463.7 721.1h1M455.9 748.3h1M459.8 739.2h1M460.2 722.5h1M448.8 748.9h1M446.8 735.2h1M449.0 729.7h1M461.8 758.6h1M446.0 715.3h1M449.1 737.4h1M443.1 738.3h1M458.3 759.0h1M444.0 707.5h1M443.6 723.0h1M451.5 760.9h1M437.5 728.2h1M445.0 736.6h1M468.9 741.3h1M459.0 696.2h1M450.4 740.1h1M460.1 717.8h1M453.7 742.9h1M455.3 745.5h1M447.4 749.5h1M443.6 763.2h1M453.3 747.6h1M445.6 717.5h1M449.5 738.3h1M437.2 756.8h1M462.2 751.8h1M445.0 733.2h1M459.3 746.9h1M439.8 755.9h1M438.0 760.1h1M455.7 744.7h1M439.6 749.5h1M449.6 750.1h1M447.6 716.6h1M453.6 733.1h1M441.8 744.6h1M462.7 736.3h1M449.2 754.1h1M450.4 734.2h1M438.8 724.2h1M464.0 721.7h1M444.0 741.7h1M458.4 760.4h1M458.8 748.2h1M450.1 742.0h1M460.6 718.5h1M443.6 709.5h1M439.3 723.8h1M472.3 735.3h1M449.3 706.4h1M448.1 759.3h1M447.3 723.2h1M441.9 734.7h1M461.5 741.6h1M447.6 740.2h1M439.5 739.6h1M461.6 747.7h1M449.0 747.5h1M460.0 708.2h1M445.7 713.3h1M455.1 729.0h1M460.7 759.2h1M448.3 757.8h1M452.6 742.3h1M449.9 719.9h1M454.2 729.0h1M454.1 732.9h1M455.9 731.3h1M444.5 704.1h1M455.7 755.0h1M451.3 716.4h1M449.0 736.9h1M454.2 745.2h1M450.3 752.0h1M458.2 758.5h1M442.2 737.8h1M447.7 747.9h1M453.9 748.0h1M458.5 756.6h1M462.8 731.6h1M450.1 740.0h1M452.5 722.3h1M443.6 742.7h1M436.0 745.1h1M450.1 757.3h1M464.0 746.6h1M457.6 733.2h1M453.0 721.8h1M465.3 739.4h1M442.9 744.8h1M446.6 727.1h1M447.6 710.9h1M455.3 761.3h1M440.1 726.4h1M463.4 757.4h1M454.7 749.6h1M442.6 734.4h1M443.3 732.0h1M459.5 757.2h1M451.7 762.8h1M443.6 735.2h1M453.8 733.5h1M440.1 749.7h1M451.9 760.0h1M454.5 736.3h1M439.1 746.2h1M447.6 730.6h1M465.7 738.1h1M438.3 754.4h1M461.9 756.1h1M457.7 723.0h1M448.2 728.3h1M443.1 737.2h1M452.0 744.2h1M446.6 747.7h1M457.9 757.0h1M438.3 738.5h1M446.9 749.3h1M458.0 751.6h1M456.8 738.1h1M436.5 760.4h1M462.8 747.0h1M443.5 743.8h1M452.4 731.7h1M447.6 762.1h1M444.6 756.9h1M441.7 720.8h1M426.7 732.6h1M442.6 750.9h1M447.3 727.4h1M447.1 723.8h1M434.4 760.5h1M443.9 746.8h1M471.2 712.0h1M451.0 730.0h1M434.2 732.7h1M465.6 730.0h1M449.0 742.3h1M437.1 727.6h1M452.9 742.4h1M460.8 745.8h1M463.0 726.6h1M442.7 708.9h1M448.6 755.1h1M431.6 750.5h1M451.5 757.7h1M458.8 754.1h1M448.5 745.2h1M439.2 725.2h1M457.7 739.4h1M462.6 763.1h1M445.5 753.6h1M443.4 754.0h1M458.1 744.1h1M450.8 755.2h1M460.0 724.5h1M465.7 713.5h1M448.0 728.6h1M441.2 754.7h1M455.6 735.6h1M443.1 747.1h1M452.8 749.3h1M464.9 752.2h1M440.1 755.2h1M453.5 736.4h1M441.4 755.9h1M430.2 740.9h1M455.0 750.4h1M448.3 720.7h1M456.6 739.9h1M447.6 723.4h1M464.5 729.2h1M457.4 744.0h1M441.1 755.0h1M474.9 742.0h1M453.1 742.1h1M439.3 755.3h1M461.2 730.5h1M466.9 761.2h1M463.9 736.5h1M449.6 734.2h1M437.1 747.9h1M446.3 736.6h1M451.0 708.8h1M455.1 736.9h1M453.9 761.1h1M449.7 753.8h1M461.3 742.5h1M445.0 730.6h1M453.3 751.6h1M436.0 762.6h1M462.6 755.5h1M462.2 744.5h1M453.1 738.7h1M443.7 724.3h1M437.4 724.5h1M434.5 738.2h1M451.8 747.9h1M460.6 741.2h1M463.7 706.8h1M447.9 740.4h1M452.6 737.8h1M457.9 745.0h1M447.2 748.9h1M452.7 762.0h1M452.3 724.5h1M455.1 755.3h1M449.7 749.2h1M459.5 717.9h1M465.4 708.2h1M446.2 750.8h1M458.6 754.5h1M456.1 751.5h1M457.5 727.5h1M447.0 718.1h1M465.5 737.8h1M462.4 753.2h1M461.4 737.0h1M474.4 744.9h1M459.9 742.1h1M463.2 748.9h1M437.1 745.8h1M444.5 734.9h1M439.3 754.0h1M443.3 738.0h1M440.3 741.4h1M440.9 749.7h1M439.6 746.2h1M452.0 757.8h1M442.3 739.1h1M435.9 731.7h1M457.1 745.4h1M453.2 759.5h1M456.2 745.6h1M463.8 740.6h1M433.4 723.1h1M441.3 750.1h1M442.0 751.1h1M465.3 738.5h1M449.9 732.4h1M436.1 717.2h1M464.5 752.4h1M431.7 733.7h1M446.2 764.2h1M448.8 757.2h1M459.8 746.9h1M461.7 760.1h1M430.8 719.8h1M457.5 733.4h1M437.2 730.4h1M464.4 728.4h1M455.5 755.8h1M455.3 719.0h1M445.7 725.8h1M466.1 728.4h1M451.7 722.8h1M440.1 745.3h1M432.9 747.8h1M448.1 733.8h1M443.3 727.6h1M442.6 724.2h1M446.2 729.7h1M466.7 733.0h1M440.2 722.7h1M435.5 736.0h1M451.1 721.8h1M469.6 747.0h1M443.9 730.0h1M437.3 752.4h1M458.7 757.3h1M460.0 727.8h1M460.8 737.5h1M449.2 750.5h1M461.8 755.6h1M445.3 729.1h1M470.0 728.0h1M457.1 764.3h1M453.4 757.7h1M446.5 741.2h1M455.1 711.5h1M464.9 744.0h1M447.6 711.2h1M455.0 709.5h1M447.3 752.0h1M438.7 713.2h1M446.5 750.2h1M451.8 754.0h1M444.4 749.6h1M448.8 745.0h1M459.5 731.5h1M452.0 729.9h1M448.7 751.2h1M459.7 745.2h1M459.7 744.5h1M464.8 753.7h1M447.6 718.8h1M449.6 739.9h1M433.7 747.7h1M445.9 734.3h1M450.5 751.0h1M450.7 755.6h1M467.4 739.1h1M446.8 750.3h1M434.8 736.6h1M461.0 712.6h1M457.5 741.1h1M446.0 739.2h1M469.0 758.4h1M458.8 729.9h1M454.7 739.3h1M453.6 757.9h1M439.5 746.8h1M446.5 732.5h1M447.1 750.3h1M461.4 753.8h1M465.6 739.1h1M470.1 728.8h1M444.0 754.7h1M452.5 734.5h1M451.1 719.2h1M454.6 762.7h1M451.1 717.6h1M454.0 738.3h1M448.6 742.6h1M434.7 708.6h1M448.2 757.8h1M453.2 742.8h1M453.3 761.5h1M446.4 739.5h1M444.9 735.1h1M454.9 749.7h1M460.6 734.0h1M453.4 733.5h1M445.3 724.4h1M458.3 705.8h1M442.0 726.3h1M461.8 722.2h1M440.5 718.8h1M452.7 764.6h1M440.2 756.3h1M471.4 761.0h1M452.7 718.9h1M455.5 739.5h1M442.8 744.6h1M450.3 741.9h1M456.6 734.4h1M445.8 759.0h1M438.1 756.6h1M456.2 750.7h1M446.9 726.9h1M440.0 733.8h1M454.4 731.5h1M460.2 737.5h1M468.3 754.6h1M452.9 730.2h1M447.5 715.1h1M449.3 745.3h1M454.7 739.9h1M455.2 755.1h1M448.3 735.3h1M459.9 730.8h1M459.6 718.0h1M446.9 751.5h1M451.5 736.1h1M458.0 755.3h1M457.2 734.0h1M453.0 753.5h1M442.0 764.2h1M458.8 727.3h1M454.3 751.9h1M438.6 728.4h1M460.5 736.4h1M442.0 730.6h1M449.7 724.6h1M442.1 731.7h1M441.5 757.0h1M452.2 725.0h1M427.6 738.8h1M455.9 718.6h1M457.6 706.7h1M435.6 735.8h1M459.4 722.4h1M471.1 744.0h1M440.2 737.7h1M466.4 721.0h1M454.2 716.7h1M474.0 735.2h1M450.6 764.3h1M448.4 716.8h1M458.0 717.3h1M461.5 731.8h1M448.2 749.7h1M452.8 724.8h1M466.1 701.1h1M439.3 761.1h1M451.9 740.9h1M457.0 715.6h1M441.2 723.8h1M450.5 734.7h1M455.1 722.3h1M455.8 736.2h1M462.4 738.2h1M450.2 700.9h1M449.5 720.5h1M448.4 755.6h1M470.1 731.8h1M458.9 729.9h1M445.1 760.7h1M445.9 741.3h1M453.1 762.8h1M436.5 728.9h1M440.2 759.2h1M451.9 753.1h1M460.8 738.6h1M459.0 723.3h1M443.0 706.3h1M451.2 722.3h1M471.1 746.7h1M450.0 743.6h1M447.9 751.1h1M452.6 757.9h1M438.8 747.1h1M444.0 738.6h1M458.0 752.0h1M444.0 721.4h1M431.3 742.8h1M452.2 757.8h1M454.4 743.5h1M437.5 749.0h1M432.7 734.1h1M456.6 729.8h1M447.2 721.7h1M462.8 741.8h1M458.4 730.8h1M452.9 734.5h1M446.4 704.7h1M460.3 737.2h1M472.0 739.2h1M464.6 743.3h1M444.7 743.3h1M465.2 728.7h1M434.1 750.8h1M445.7 755.4h1M457.9 764.3h1M445.0 762.3h1M461.4 720.0h1M459.8 749.2h1M447.7 759.2h1M440.3 751.6h1M443.1 735.5h1M454.9 736.1h1M455.1 717.7h1M458.1 720.1h1M459.8 753.5h1M457.6 728.2h1M434.2 735.8h1M462.6 724.4h1M460.5 763.0h1M447.0 752.3h1M443.6 740.3h1M444.3 736.1h1M439.1 745.5h1M447.3 747.5h1M462.8 733.3h1M437.2 763.9h1M474.0 762.1h1M444.0 736.7h1M436.5 733.0h1M443.9 706.6h1M449.3 749.4h1M463.4 751.5h1M442.7 736.2h1M446.5 722.7h1M437.1 735.4h1M459.3 753.5h1M450.3 703.6h1M443.9 751.8h1M449.0 728.7h1M434.4 736.7h1M432.7 746.5h1M452.5 721.1h1M444.8 719.8h1M463.3 731.9h1M454.9 737.1h1M449.0 752.3h1M458.3 746.7h1M466.4 749.7h1M444.4 728.5h1M458.3 747.9h1M442.2 733.9h1M462.2 733.5h1M443.6 734.9h1M451.4 732.1h1M446.3 746.5h1M439.5 718.0h1M449.8 734.5h1M426.6 731.1h1M442.0 738.7h1M456.6 746.5h1M434.8 750.8h1M455.1 764.5h1M451.1 760.7h1M437.4 740.0h1M441.8 717.1h1M456.5 736.8h1M449.5 718.0h1M437.7 737.2h1M456.9 756.2h1M454.8 740.2h1M451.1 733.6h1M461.7 753.5h1M448.6 727.7h1M442.9 760.9h1M453.5 748.3h1M450.0 750.6h1M451.9 730.0h1M457.0 734.2h1M442.3 746.6h1M441.0 751.9h1M433.6 719.8h1M436.2 745.3h1M447.5 757.6h1M466.6 724.2h1M441.9 718.6h1M450.4 762.5h1M453.1 743.2h1M456.6 725.7h1M456.5 731.0h1M441.0 740.8h1M439.0 756.0h1M434.1 724.6h1M437.4 750.7h1M460.4 740.6h1M460.0 723.0h1M459.1 758.9h1M452.9 719.6h1M470.2 736.7h1M448.1 748.1h1M437.0 727.2h1M443.5 723.8h1M436.7 735.4h1M448.3 725.1h1M448.7 744.6h1M440.1 738.7h1M467.9 746.4h1M450.1 751.1h1M453.4 756.8h1M442.4 734.3h1M452.5 744.3h1M456.3 757.9h1M455.2 759.4h1M449.3 743.7h1M446.5 739.5h1M455.9 711.2h1M457.7 739.0h1M461.6 741.3h1M466.4 733.4h1M461.2 731.2h1M465.0 746.5h1M462.0 755.0h1M456.4 737.5h1M438.9 744.2h1M459.7 746.3h1M437.4 754.3h1M441.3 750.2h1M454.2 746.2h1M459.3 750.9h1M433.4 754.3h1M457.3 722.1h1M445.0 748.4h1M442.5 754.3h1M442.2 722.6h1M429.8 729.1h1M451.8 723.1h1M457.6 743.1h1M448.0 744.0h1M431.1 733.4h1M432.4 749.0h1M446.4 748.7h1M448.7 742.1h1M459.6 746.1h1M451.9 708.3h1M445.8 746.5h1M451.9 759.2h1M439.9 702.8h1M458.9 758.1h1M453.3 743.0h1M438.2 716.8h1M447.7 728.1h1M439.8 732.9h1M439.8 724.2h1M451.2 760.5h1M458.4 722.1h1M436.3 721.9h1M467.2 753.1h1M447.6 728.2h1M436.3 741.5h1M447.1 751.4h1M456.6 748.6h1M444.8 735.2h1M455.2 747.5h1M449.8 730.3h1M446.9 742.9h1M425.8 752.9h1M459.5 735.8h1M447.6 732.5h1M445.8 745.8h1M445.1 733.2h1M449.1 754.8h1M452.4 748.1h1M440.0 760.3h1M451.7 744.1h1M458.4 760.2h1M458.6 758.6h1M453.0 763.2h1M457.0 737.6h1M449.9 728.1h1M465.9 723.8h1M451.3 745.1h1M439.5 724.7h1M438.0 739.6h1M446.1 722.7h1M449.0 738.9h1M444.2 749.1h1M437.6 747.3h1M451.5 756.0h1M438.4 744.7h1M455.5 719.8h1M451.2 726.3h1M448.8 752.6h1M453.4 712.0h1M460.6 728.5h1M459.3 748.4h1M449.2 741.5h1M443.0 761.7h1M453.3 726.1h1M455.4 762.0h1M451.6 738.4h1M440.4 757.3h1M454.4 742.6h1M462.1 759.9h1M453.4 700.6h1M452.4 738.5h1M454.5 750.9h1M457.9 736.3h1M443.0 754.1h1M463.1 740.4h1M444.9 725.8h1M472.2 738.9h1M439.0 749.3h1M452.4 723.4h1M453.2 758.3h1M426.3 733.9h1M451.1 746.5h1M448.4 758.3h1M440.7 745.0h1M437.0 756.6h1M440.2 734.4h1M446.0 760.9h1M451.9 757.9h1M447.4 748.4h1M446.7 737.4h1M441.2 728.0h1M443.5 732.1h1M459.0 764.0h1M469.5 712.7h1M451.7 712.6h1M456.1 762.8h1M456.0 722.8h1M441.2 748.5h1M458.7 758.2h1M430.2 746.4h1M444.5 732.4h1M466.9 743.5h1M460.7 736.2h1M457.7 762.1h1M459.9 763.5h1M448.9 739.0h1M455.6 761.5h1M450.7 758.9h1M449.4 745.9h1M452.3 739.1h1M450.4 746.5h1M451.8 735.8h1M447.0 731.8h1M444.4 742.3h1M445.9 749.7h1M441.0 758.3h1M445.1 742.1h1M444.3 719.1h1M453.7 755.4h1M440.8 706.8h1M455.9 732.2h1M451.1 761.1h1M457.2 731.2h1M449.0 741.0h1M453.9 731.2h1M450.2 756.2h1M451.0 751.9h1M448.6 737.8h1M471.7 755.8h1M459.0 755.2h1M431.1 729.6h1M450.2 716.5h1M455.3 725.3h1M451.1 736.7h1M446.0 727.1h1M453.0 727.4h1M450.6 732.6h1M456.7 739.5h1M447.3 758.9h1M446.0 754.7h1M445.2 761.3h1M452.6 762.6h1M442.6 730.6h1M456.7 758.3h1M463.7 722.1h1M445.0 750.8h1M445.9 756.0h1M452.6 742.0h1M462.4 733.3h1M428.1 708.9h1M442.9 696.9h1M447.6 760.3h1M441.2 741.0h1M462.9 749.2h1M443.7 760.9h1M447.0 725.9h1M434.8 754.6h1M455.0 749.7h1M453.2 725.3h1M464.6 718.5h1M447.1 733.3h1M456.9 746.4h1M459.0 754.8h1M443.7 739.0h1M442.2 744.4h1M450.4 743.2h1M437.1 730.0h1M449.3 757.6h1M455.3 724.7h1M448.9 729.3h1M453.2 738.2h1M449.3 740.4h1M431.4 718.4h1M452.4 763.4h1M455.4 723.2h1M463.4 757.3h1M463.3 751.2h1M436.1 736.6h1M466.2 715.8h1M440.8 738.5h1M458.5 731.6h1M457.0 728.9h1M468.0 752.2h1M464.6 759.6h1M437.1 741.5h1M451.7 740.6h1M461.2 751.7h1M460.6 733.6h1M456.3 738.5h1M457.6 728.7h1M462.6 737.9h1M460.2 761.9h1M450.2 753.3h1M454.8 738.0h1M438.0 748.3h1M460.5 729.7h1M442.5 703.1h1M457.0 719.1h1M460.7 752.7h1M434.0 735.1h1M440.6 744.4h1M447.9 742.6h1M444.4 764.1h1M462.9 717.6h1M446.6 751.9h1M451.0 739.9h1M446.4 740.7h1M453.7 756.7h1M443.5 732.0h1M446.2 726.4h1M453.5 739.7h1M459.0 746.9h1M445.0 751.8h1M429.7 742.3h1M437.3 757.9h1M458.7 729.1h1M440.0 712.0h1M464.0 728.9h1M457.4 728.7h1M442.6 752.4h1M452.3 762.1h1M456.5 713.8h1M446.6 744.8h1M447.2 754.7h1M443.7 735.1h1M445.1 739.0h1M442.4 760.2h1M442.2 742.0h1M460.4 760.8h1M458.6 737.6h1M457.9 750.2h1M454.3 744.1h1M439.3 729.0h1M446.0 747.7h1M453.4 749.9h1M458.5 743.3h1M434.4 704.5h1M440.3 733.8h1M430.0 740.0h1M436.9 725.7h1M439.2 740.7h1M457.1 754.8h1M453.0 737.6h1M449.3 720.1h1M440.1 721.1h1M462.1 735.2h1M456.6 752.1h1M441.6 759.9h1M448.7 737.9h1M446.4 723.7h1M455.0 759.2h1M436.2 733.7h1M462.2 729.5h1M442.4 720.8h1M449.8 753.3h1M451.2 744.7h1M444.2 707.2h1M471.8 738.4h1M440.2 747.8h1M459.4 751.2h1M444.1 730.3h1M446.5 757.3h1M454.4 760.5h1M451.3 711.5h1M448.3 745.0h1M449.7 729.8h1M462.1 753.6h1M444.4 748.2h1M449.0 742.7h1M427.1 711.7h1M452.3 742.5h1M448.8 747.7h1M459.3 758.1h1M449.0 745.6h1M442.3 728.1h1M456.2 747.2h1M433.6 755.4h1M453.5 745.0h1M458.9 750.9h1M434.2 746.8h1M451.9 737.1h1M437.6 723.0h1M458.1 724.1h1M457.0 762.9h1M449.7 752.4h1M445.7 744.6h1M453.0 749.3h1M446.6 717.2h1M447.4 708.3h1M452.5 735.9h1M433.5 729.5h1M461.8 755.0h1M458.3 743.5h1M447.5 735.4h1M453.7 745.4h1M452.3 744.1h1M464.9 747.7h1M444.1 719.8h1M449.0 734.3h1M454.3 739.1h1M453.9 721.2h1M429.1 722.6h1M462.4 758.3h1M446.6 750.6h1M439.1 747.2h1M446.8 749.5h1M444.0 743.6h1M447.4 712.9h1M444.6 706.5h1M460.8 750.6h1M456.1 724.4h1M452.0 746.0h1M456.3 726.1h1M446.3 739.0h1M441.7 758.6h1M431.4 739.7h1M444.3 733.0h1M456.0 735.3h1M450.6 747.9h1M450.5 757.9h1M450.7 754.7h1M439.1 728.8h1M448.0 748.2h1M442.6 741.0h1M447.0 737.8h1M442.1 750.8h1M432.7 737.5h1M445.1 760.3h1M446.4 747.2h1M436.2 723.6h1M447.0 741.2h1M452.5 761.0h1M440.9 736.6h1M441.0 736.0h1M444.9 755.6h1M439.4 746.3h1M451.8 757.8h1M443.7 758.8h1M452.7 720.2h1M458.9 736.9h1M469.3 750.8h1M440.8 757.4h1M457.0 760.0h1M459.3 744.3h1M442.4 727.0h1M436.6 743.3h1M452.1 739.4h1M454.5 742.7h1M443.8 747.8h1M457.1 741.5h1M448.3 735.5h1M447.0 763.2h1M446.8 754.4h1M444.6 730.8h1M458.1 758.2h1M440.6 757.5h1M459.6 709.1h1M465.9 717.0h1M449.3 715.6h1M458.7 752.2h1M446.8 728.5h1M441.7 733.7h1M456.5 747.1h1M448.9 734.9h1M464.9 744.5h1M442.1 734.0h1M436.3 726.5h1M457.4 762.8h1M470.3 744.8h1M447.6 747.6h1M447.0 755.4h1M444.7 739.6h1M451.8 741.9h1M448.1 731.8h1M455.6 741.9h1M456.6 727.0h1M451.1 715.8h1M466.0 754.9h1M457.2 740.9h1M456.2 731.6h1M447.0 764.0h1M455.5 733.3h1M442.1 743.1h1M460.3 736.1h1M466.0 756.4h1M447.3 735.3h1M446.7 723.5h1M456.7 742.5h1M435.5 743.1h1M455.0 755.3h1M457.0 756.2h1M451.6 741.7h1M451.4 716.6h1M451.4 737.4h1M456.2 724.0h1M460.3 715.1h1M464.4 756.9h1M453.9 731.3h1M439.3 715.4h1M447.7 736.6h1M450.2 739.9h1M452.4 730.9h1M439.1 746.9h1M457.6 749.4h1M457.6 723.2h1M439.4 696.6h1M453.3 747.4h1M438.0 754.2h1M450.8 705.7h1M440.2 738.2h1M446.4 758.1h1M456.4 761.0h1M450.1 714.0h1M438.9 726.7h1M440.8 726.6h1M448.8 709.4h1M465.6 735.8h1M459.0 744.9h1M426.7 742.3h1M455.5 752.5h1M455.6 756.8h1M455.7 735.1h1M468.4 755.2h1M427.5 728.1h1M450.2 747.9h1M446.6 744.9h1M454.6 726.2h1M438.8 753.8h1M444.7 739.4h1M456.8 739.7h1M459.7 733.4h1M471.0 739.2h1M448.4 728.3h1M446.0 753.2h1M453.2 764.0h1M463.9 714.6h1M464.0 764.4h1M449.1 754.0h1M459.3 741.9h1M455.6 730.9h1M445.4 742.6h1M462.1 744.3h1M437.3 742.6h1M441.5 743.9h1M452.3 748.8h1M460.9 735.0h1M461.5 723.5h1M461.5 742.1h1M443.5 747.2h1M437.6 727.1h1M461.8 739.4h1M442.5 747.6h1M449.4 762.6h1M449.3 727.7h1M447.7 754.3h1M471.2 703.5h1M447.6 745.6h1M454.0 738.0h1M448.7 757.1h1M456.5 754.3h1M443.5 764.0h1M436.7 761.6h1M452.0 722.9h1M461.1 745.0h1M439.1 725.0h1M467.8 761.0h1M434.7 746.7h1M446.1 720.0h1M438.2 707.5h1M448.8 757.5h1M456.0 740.6h1M455.5 741.3h1M444.7 737.6h1M441.6 756.0h1M438.6 760.9h1M448.7 751.6h1M437.9 745.8h1M437.4 754.7h1M452.9 757.1h1M451.3 762.1h1M455.7 734.1h1M448.9 731.0h1M443.8 722.0h1M441.0 764.4h1M463.7 743.0h1M441.3 759.1h1M436.1 727.9h1M443.4 736.1h1M473.9 740.4h1M434.7 750.8h1M442.0 703.8h1M463.7 720.9h1M456.4 752.0h1M448.5 746.9h1M448.1 749.6h1M431.4 712.1h1M453.9 723.6h1M461.4 749.9h1M448.9 750.3h1M441.5 743.4h1M443.8 748.1h1M448.8 725.1h1M448.8 757.5h1M470.0 726.9h1M455.8 738.2h1M455.9 711.4h1M451.8 762.1h1M455.0 735.7h1M442.6 737.2h1M455.4 730.4h1M454.8 722.5h1M446.9 741.9h1M448.5 742.7h1M464.2 724.8h1M456.3 734.0h1M453.4 756.8h1M452.2 740.8h1M458.3 750.1h1M455.7 729.7h1M461.3 750.0h1M457.2 757.4h1M446.9 747.5h1M456.4 752.1h1M442.8 749.1h1M448.4 757.2h1M438.1 720.2h1M446.4 732.0h1M442.5 740.5h1M452.4 753.9h1M434.8 747.8h1M457.8 735.9h1M455.4 732.2h1M469.6 754.6h1M444.6 763.7h1M442.5 717.2h1M439.3 745.6h1M466.7 731.9h1M458.2 756.7h1M439.7 745.0h1M452.1 751.2h1M449.4 730.6h1M447.7 753.6h1M449.2 722.0h1M463.3 749.7h1M440.1 738.8h1M437.2 758.2h1M464.6 731.8h1M437.2 742.5h1M434.7 705.9h1M439.1 750.4h1M442.7 753.8h1M434.4 753.8h1M440.6 736.8h1M447.1 737.0h1M452.7 752.8h1M445.8 759.5h1M461.1 758.3h1M439.8 745.1h1M460.9 721.7h1M444.5 744.8h1M455.7 749.8h1M440.8 749.0h1M440.3 757.4h1M451.8 737.4h1M449.5 717.6h1M436.3 709.8h1M468.3 710.8h1M465.0 742.8h1M460.5 714.4h1M462.0 747.5h1M459.6 754.8h1M449.0 738.4h1M458.6 726.6h1M439.0 732.7h1M450.3 726.9h1M433.2 718.3h1M460.1 736.5h1M460.4 754.6h1M451.7 731.4h1M454.4 746.0h1M471.5 730.7h1M435.6 734.3h1M437.5 729.8h1M444.9 732.3h1M458.4 748.2h1M448.2 728.5h1M437.7 730.7h1M437.0 758.4h1M449.1 742.8h1M456.8 740.4h1M446.9 759.3h1M461.8 733.2h1M438.0 743.3h1M454.2 723.7h1M426.8 739.2h1M450.2 752.8h1M434.7 728.5h1M441.6 744.8h1M442.9 727.6h1M435.4 733.2h1M458.4 731.6h1M460.8 738.2h1M447.1 753.1h1M440.8 739.5h1M454.5 746.4h1M442.5 746.6h1M442.4 763.4h1M437.9 717.6h1M461.6 710.5h1M450.1 757.8h1M445.6 737.0h1M470.6 737.0h1M444.3 760.2h1M465.6 746.8h1M458.5 696.2h1M453.8 746.8h1M450.9 718.9h1M454.1 761.7h1M439.7 717.2h1M449.2 743.8h1M438.8 745.1h1M459.2 732.2h1M451.0 758.5h1M466.3 717.3h1M450.2 755.6h1M451.5 721.6h1M442.0 731.6h1M452.7 751.3h1M454.6 707.1h1M450.8 716.9h1M454.5 751.8h1M465.3 736.0h1M458.0 738.3h1M457.7 759.3h1M461.9 737.9h1M451.2 761.0h1M443.3 736.0h1M437.1 722.7h1M454.8 749.2h1M454.1 737.3h1M437.3 737.2h1M442.7 747.9h1M461.1 739.7h1M444.7 744.7h1M454.8 747.4h1M449.8 732.0h1M460.8 750.9h1M453.8 745.6h1M443.7 757.3h1M457.7 732.5h1M450.7 742.4h1M447.2 757.0h1M444.3 748.4h1M462.2 733.7h1M449.8 761.2h1M452.3 737.1h1M445.2 717.4h1M429.0 735.8h1M463.0 731.9h1M453.8 763.3h1M438.4 712.6h1M447.3 736.8h1M453.2 743.1h1M439.3 732.2h1M448.3 751.8h1M460.7 763.2h1M446.4 742.0h1M451.0 744.5h1M463.4 708.4h1M443.1 735.8h1M460.0 753.2h1M452.7 741.9h1M453.5 748.2h1M455.1 738.4h1M447.0 732.7h1M443.1 713.2h1M438.3 736.8h1M451.0 753.4h1M461.0 699.4h1M447.0 736.8h1M471.6 762.8h1M440.6 756.3h1M455.7 747.8h1M434.2 722.6h1M435.3 727.2h1M447.3 743.2h1M469.4 743.8h1M457.1 741.7h1M441.5 757.0h1M453.8 741.3h1M449.1 704.1h1M449.9 727.9h1M451.8 743.5h1M438.1 729.1h1M440.5 745.6h1M466.5 750.0h1M450.9 762.2h1M452.2 750.7h1M432.2 759.4h1M445.7 736.9h1M466.7 746.7h1M456.2 734.1h1M444.9 719.1h1M459.4 738.7h1M461.3 710.9h1M442.6 737.9h1M453.0 738.1h1M440.0 708.2h1M448.4 703.9h1M452.4 733.0h1M451.4 733.0h1M452.1 755.1h1M443.3 727.6h1M459.3 715.7h1M441.9 742.5h1M442.3 738.6h1M460.8 764.0h1M439.5 736.9h1M460.5 721.3h1M446.0 737.8h1M447.2 752.9h1M449.8 756.9h1M456.0 736.4h1M442.8 739.1h1M457.7 741.6h1M459.3 756.4h1M443.6 734.6h1M467.4 753.6h1M453.0 749.5h1M453.0 757.8h1M446.4 745.6h1M449.4 733.1h1M457.5 763.3h1M445.0 741.5h1M453.5 749.9h1M457.5 745.7h1M446.7 712.6h1M443.8 742.0h1M449.5 764.5h1M456.4 733.1h1M452.8 741.6h1M443.9 707.1h1M452.7 728.8h1M445.6 726.7h1M446.3 729.8h1M443.2 753.6h1M452.3 738.6h1M434.7 749.4h1M444.9 756.0h1M457.6 726.5h1M457.3 721.1h1M446.9 744.4h1M441.0 728.4h1M458.5 729.7h1M453.2 720.9h1M455.7 731.7h1M453.4 719.8h1M455.4 732.3h1M458.7 758.1h1M464.4 739.9h1M449.8 712.4h1M455.0 752.1h1M460.9 732.5h1M449.1 731.4h1M451.4 728.6h1M440.2 721.0h1M469.5 737.3h1M438.4 758.2h1M440.1 752.2h1M453.9 734.1h1M451.8 725.4h1M455.4 736.1h1M432.7 741.7h1M466.0 758.1h1M454.3 743.3h1M440.6 752.8h1M461.2 754.6h1M441.6 750.6h1M458.5 729.4h1M446.4 754.4h1M449.4 713.5h1M449.1 753.6h1M434.8 748.9h1M447.3 734.8h1M462.3 717.8h1M454.5 756.8h1M450.4 742.6h1M454.2 745.4h1M450.6 725.0h1M442.5 729.4h1M452.7 761.3h1M449.7 756.2h1M457.6 732.2h1M450.9 752.7h1M447.8 739.8h1M440.1 729.2h1M445.6 759.5h1M464.1 736.7h1M454.9 726.4h1M457.1 701.9h1M444.1 740.9h1M444.1 744.8h1M457.4 747.0h1M440.0 742.0h1M444.0 707.3h1M443.7 714.0h1M435.8 725.9h1M442.2 707.7h1M475.0 755.4h1M450.2 761.9h1M452.8 733.4h1M437.3 763.6h1M464.1 718.9h1M454.8 739.0h1M444.9 744.5h1M448.6 724.3h1M447.1 740.4h1M448.2 717.7h1M461.1 736.6h1M450.1 736.1h1M427.3 752.3h1M443.9 724.3h1M431.1 751.1h1M451.1 728.3h1M456.4 728.5h1M448.8 736.2h1M451.5 764.2h1M474.3 743.4h1M464.6 742.7h1M440.8 751.0h1M460.7 725.1h1M466.7 758.9h1M451.2 731.5h1M444.4 722.1h1M463.8 718.5h1M461.9 705.5h1M457.2 733.0h1M446.6 763.2h1M453.2 756.4h1M430.5 718.1h1M438.4 740.5h1M459.8 724.6h1M461.0 705.9h1M450.3 740.2h1M448.4 714.6h1M446.3 738.4h1M447.3 737.5h1M463.9 762.5h1M441.4 757.0h1M440.7 736.9h1M452.8 757.3h1M458.3 757.9h1M465.9 709.9h1M443.8 744.0h1M467.2 729.9h1M452.5 756.3h1M451.4 761.0h1M435.7 743.7h1M453.9 739.2h1M451.4 725.7h1M453.0 749.1h1M439.9 758.7h1M457.5 743.7h1M447.8 762.1h1M445.4 710.7h1M454.7 729.5h1M454.5 757.7h1M453.2 735.7h1M461.4 740.2h1M460.1 762.7h1M448.1 744.3h1M451.7 763.1h1M440.3 751.7h1M443.6 728.1h1M451.0 727.2h1M451.0 738.9h1M449.5 739.4h1M472.2 737.3h1M444.3 736.8h1M462.3 735.7h1M438.0 754.3h1M460.6 735.6h1M444.9 762.8h1M459.7 741.5h1M433.5 730.8h1M446.5 748.5h1M435.8 718.4h1M450.9 754.9h1M433.2 744.8h1M454.3 758.3h1M456.1 756.1h1M442.3 754.6h1M447.0 756.7h1M448.3 740.5h1M441.3 738.9h1M436.2 743.3h1M441.6 732.0h1M444.8 740.8h1M464.9 746.5h1M451.5 721.3h1M450.7 729.6h1M437.5 744.8h1M458.4 709.4h1M447.8 705.4h1M437.0 762.4h1M452.7 757.0h1M449.1 746.6h1M463.5 755.2h1M465.0 761.1h1M449.9 729.5h1M444.2 739.1h1M454.6 736.4h1M449.4 737.1h1M438.3 736.8h1M462.0 746.6h1M453.3 739.6h1M473.6 746.3h1M455.1 760.4h1M445.0 739.1h1M433.9 729.9h1M430.8 722.6h1M470.1 743.9h1M451.2 711.3h1M456.4 742.3h1M452.3 728.0h1M452.2 729.9h1M461.4 750.6h1M446.4 754.2h1M457.4 735.9h1M449.7 738.3h1M446.3 729.4h1M446.3 741.5h1M445.6 723.9h1M462.3 730.1h1M450.0 763.5h1M451.1 737.8h1M470.3 748.6h1M447.8 748.5h1M449.1 733.0h1M442.2 753.6h1M443.6 747.9h1M450.5 735.7h1M469.6 753.1h1M455.1 724.2h1M441.8 752.2h1M461.3 727.9h1M438.3 751.0h1M453.7 728.0h1M464.6 751.5h1M461.7 763.3h1M458.6 741.1h1M461.1 719.4h1M441.4 742.0h1M441.4 718.8h1M438.9 763.6h1M453.4 725.9h1M450.6 752.1h1M463.8 759.9h1M450.8 747.4h1M471.0 727.4h1M456.0 757.9h1M436.1 746.5h1M448.0 741.4h1M449.4 743.0h1M448.0 715.5h1M453.3 741.0h1M466.5 741.7h1M461.9 727.5h1M474.0 753.1h1M441.5 731.3h1M452.0 751.8h1M464.3 744.4h1M472.9 735.4h1M447.7 762.4h1M446.8 754.6h1M470.3 723.6h1M443.7 760.2h1M455.6 730.4h1M463.3 715.5h1M453.4 740.1h1M444.4 727.8h1M438.6 725.2h1M462.8 755.3h1M446.1 738.8h1M456.0 741.2h1M443.1 745.7h1M452.7 730.4h1M449.9 752.0h1M454.3 748.2h1M454.9 739.9h1M463.0 734.9h1M447.1 737.9h1M469.1 734.2h1M470.0 751.2h1M447.3 743.9h1M451.2 750.6h1M460.0 748.6h1M456.2 730.0h1M444.3 727.5h1M454.5 745.3h1M446.4 745.6h1M440.6 741.0h1M434.1 759.0h1M454.5 728.5h1M446.2 727.2h1M451.6 759.7h1M464.4 725.7h1M464.1 739.9h1M452.9 750.6h1M454.4 725.2h1M449.3 744.3h1M464.4 708.1h1M458.8 756.3h1M455.0 743.1h1M446.1 723.3h1M456.2 714.9h1M444.8 725.5h1M462.3 760.3h1M461.5 761.7h1M447.1 747.7h1M461.4 751.5h1M443.4 721.7h1M455.2 759.1h1M464.7 737.2h1M444.3 748.4h1M455.3 746.4h1M448.1 745.8h1M449.3 756.4h1M453.0 734.3h1M437.6 762.9h1M466.5 749.2h1M466.6 735.1h1M440.6 716.4h1M456.2 758.3h1M440.3 737.8h1M447.6 729.1h1M446.9 745.3h1M419.2 737.9h1M451.9 725.8h1M460.4 736.9h1M456.7 762.5h1M435.1 729.2h1M440.4 741.7h1M478.7 758.0h1M450.9 753.0h1M449.5 762.7h1M422.8 751.8h1M459.8 747.1h1M434.4 725.1h1M444.6 720.8h1M414.0 758.4h1M433.9 737.3h1M440.0 734.7h1M451.7 745.6h1M434.8 715.7h1M445.8 758.9h1M438.7 756.3h1M465.4 745.9h1M416.0 757.4h1M427.2 724.9h1M452.0 716.8h1M434.4 738.6h1M452.3 754.7h1M463.4 747.7h1M457.4 739.2h1M439.5 739.8h1M447.7 731.1h1M448.8 731.2h1M439.9 743.2h1M446.9 726.9h1M420.5 721.8h1M440.7 759.5h1M445.7 736.9h1M423.1 749.5h1M476.5 731.8h1M457.0 759.7h1M460.1 719.4h1M445.0 736.2h1M464.4 705.0h1M464.8 712.2h1M448.9 745.0h1M452.8 697.2h1M456.0 716.4h1M449.9 735.2h1M449.3 758.6h1M430.4 758.6h1M424.3 726.0h1M422.8 722.0h1M435.1 742.4h1M429.5 725.5h1M467.5 751.4h1M449.7 739.2h1M436.2 729.0h1M425.1 761.9h1M460.5 752.5h1M420.7 750.7h1M438.4 758.2h1M450.1 747.3h1M428.3 755.0h1M451.0 738.8h1M440.6 755.9h1M456.5 713.5h1M457.9 747.1h1M465.2 722.3h1M456.2 714.7h1M446.2 725.7h1M468.3 738.6h1M464.9 728.2h1M449.3 727.2h1M449.3 739.2h1M437.9 762.0h1M433.7 703.3h1M461.2 729.8h1M420.9 759.6h1M476.7 759.5h1M440.1 735.8h1M468.7 731.1h1M437.1 734.1h1M465.7 706.9h1M445.3 729.1h1M456.3 736.0h1M436.8 764.1h1M447.0 734.5h1M442.3 714.3h1M452.9 714.4h1M438.1 761.2h1M472.4 718.6h1M463.9 757.1h1M453.4 741.1h1M417.9 738.9h1M434.3 758.5h1M433.7 746.3h1M455.1 737.4h1M440.7 739.4h1M446.0 726.5h1M451.9 754.6h1M467.8 742.9h1M447.6 748.7h1M421.7 737.9h1M462.2 726.0h1M455.4 744.5h1M445.2 704.6h1M451.4 739.0h1M448.0 731.3h1M449.2 731.6h1M442.3 728.8h1M432.0 742.3h1M478.3 725.0h1M456.4 741.4h1M467.2 750.1h1M456.5 716.9h1M466.7 744.8h1M437.7 747.5h1M457.7 745.9h1M457.5 726.2h1M446.3 740.5h1M438.3 726.3h1M445.8 746.8h1M465.6 757.1h1M463.1 741.6h1M430.8 735.4h1M433.0 746.7h1M436.7 734.6h1M440.3 742.9h1M450.3 739.1h1M453.4 740.5h1M453.5 721.5h1M469.8 738.4h1M452.3 744.6h1M434.7 738.0h1M431.2 724.6h1M474.4 731.8h1M461.0 709.0h1M441.6 734.8h1M468.3 750.1h1M416.3 748.4h1M478.9 727.7h1M452.9 750.2h1M443.5 761.8h1M428.1 753.8h1M441.0 699.6h1M447.1 732.6h1M454.7 752.0h1M440.9 736.4h1M432.7 734.4h1M435.6 750.7h1M440.8 761.3h1M460.2 739.5h1M440.0 721.9h1M464.0 740.1h1M468.9 716.8h1M440.1 764.6h1M441.6 733.5h1M444.9 755.2h1M444.0 754.4h1M458.2 722.2h1M437.1 740.0h1M452.5 738.6h1M464.2 747.9h1M446.7 718.1h1M438.6 741.7h1M433.9 755.6h1M449.7 740.0h1M444.1 714.7h1M439.6 751.9h1M448.6 738.4h1M429.4 732.1h1M471.2 747.5h1M414.5 730.8h1M427.8 726.6h1M452.5 751.0h1M420.2 725.8h1M418.5 754.1h1M453.2 721.9h1M446.5 757.4h1M448.3 739.9h1M426.3 743.1h1M468.4 739.8h1M446.9 753.0h1M429.4 758.2h1M440.2 757.1h1M452.7 729.8h1M452.9 746.6h1M458.3 737.5h1M438.4 748.3h1M439.0 734.0h1M468.2 755.3h1M457.4 750.2h1M458.5 740.8h1M437.2 743.5h1M435.7 734.1h1M472.1 742.2h1M460.3 742.6h1M441.6 761.5h1M438.6 737.7h1M449.1 740.2h1M450.5 730.4h1M468.5 741.0h1M455.2 729.6h1M456.3 698.4h1M425.1 746.3h1M427.4 754.8h1M437.7 746.2h1M433.0 730.0h1M461.0 749.5h1M449.0 734.3h1M444.9 749.7h1M421.2 745.7h1M448.8 753.5h1M433.5 763.6h1M422.0 732.3h1M437.8 751.7h1M417.6 702.7h1M454.8 758.1h1M442.8 750.1h1M456.6 748.8h1M432.9 754.0h1M447.8 756.0h1M457.2 729.1h1M434.5 714.7h1M468.6 758.1h1M460.4 741.3h1M462.7 743.6h1M453.5 746.4h1M478.4 762.9h1M452.9 745.6h1M478.6 724.9h1M451.9 738.7h1M443.6 724.6h1M433.1 743.0h1M436.1 694.6h1M453.8 753.1h1M447.0 715.9h1M446.1 761.7h1M440.5 749.9h1M443.3 739.0h1M427.6 742.6h1M442.2 745.4h1M436.1 761.8h1M446.9 758.7h1M456.7 754.6h1M419.4 726.7h1M419.6 735.1h1M449.4 718.8h1M461.6 752.3h1M464.4 722.2h1M437.3 741.9h1M431.0 747.7h1M475.0 716.7h1M472.9 760.3h1M422.9 717.4h1M436.5 738.0h1M433.3 737.1h1M424.2 753.3h1M451.9 716.6h1M449.8 725.6h1M451.0 744.7h1M448.4 746.5h1M469.6 737.8h1M464.2 734.1h1M451.7 731.5h1M454.9 761.4h1M466.0 730.4h1M432.1 731.4h1M454.4 752.6h1M451.4 748.9h1M444.5 744.5h1M436.2 737.7h1M445.4 760.8h1M467.4 747.1h1M464.4 757.5h1M442.3 724.1h1M445.1 708.5h1M465.6 752.8h1M457.8 724.5h1M454.5 753.1h1M428.1 735.8h1M445.4 756.0h1M456.2 747.9h1M451.2 731.3h1M445.4 744.3h1M443.1 736.6h1M454.9 759.9h1M453.2 715.5h1M450.9 747.3h1M429.5 741.2h1M437.4 744.7h1M441.5 757.9h1M431.1 744.7h1M479.6 751.0h1M448.1 734.7h1M454.8 752.0h1M451.4 746.1h1M447.3 762.1h1M460.6 724.2h1M451.4 719.1h1M460.6 752.6h1M439.1 742.5h1M455.3 736.8h1M447.9 749.4h1M437.8 694.7h1M431.7 724.6h1M455.4 734.2h1M444.9 760.0h1M466.7 741.7h1M432.9 758.0h1M453.6 758.0h1M420.4 748.0h1M475.7 757.7h1M437.3 723.0h1M436.4 763.6h1M430.7 742.9h1M450.2 759.8h1M445.6 753.3h1M453.6 729.4h1M442.5 740.2h1M478.9 760.4h1M462.9 743.7h1M434.6 726.1h1M461.8 747.1h1M450.3 712.0h1M436.3 740.2h1M477.9 747.8h1M467.8 755.9h1M460.1 752.1h1M445.3 732.8h1M419.1 757.5h1M449.3 743.0h1M449.7 730.0h1M454.0 760.3h1M463.2 758.0h1M447.4 746.2h1M446.3 760.8h1M438.6 759.9h1M461.0 737.8h1M445.8 732.0h1M454.2 743.9h1M469.7 719.5h1M471.8 734.4h1M418.2 748.4h1M469.5 731.6h1M441.2 725.5h1M433.0 739.2h1M448.2 755.9h1M444.5 757.5h1M450.3 753.6h1M465.2 740.2h1M447.7 756.0h1M473.5 749.8h1M435.9 746.5h1M437.0 719.6h1M458.1 739.4h1M424.7 707.8h1M468.9 725.4h1M422.3 757.3h1M458.0 753.3h1M468.2 753.5h1M465.7 745.7h1M447.2 735.5h1M410.0 738.7h1M467.2 756.0h1M432.4 737.7h1M425.2 737.4h1M465.4 727.4h1M429.3 763.9h1M446.5 757.4h1M478.7 747.1h1M456.7 752.8h1M459.2 745.1h1M457.4 735.8h1M444.2 764.2h1M459.0 725.2h1M445.8 751.8h1M451.7 759.3h1M450.9 739.0h1M455.6 747.8h1M434.1 743.1h1M445.3 748.0h1M450.0 752.0h1M473.9 734.9h1M433.9 752.3h1M453.2 726.4h1M432.6 722.4h1M475.6 738.4h1M439.0 756.0h1M436.7 758.9h1M443.0 733.0h1M429.0 758.7h1M467.8 754.4h1M423.2 736.0h1M475.7 739.9h1M447.8 758.4h1M452.0 724.7h1M442.3 760.9h1M469.6 750.3h1M459.9 754.1h1M439.4 760.9h1M432.8 750.9h1M476.7 713.8h1M432.5 736.1h1M456.8 755.0h1M456.1 718.7h1M440.1 712.0h1M447.8 738.2h1M438.1 715.2h1M434.0 731.4h1M434.6 745.2h1M457.2 736.0h1M442.5 759.2h1M416.2 760.8h1M460.2 759.4h1M447.7 751.3h1M440.7 757.4h1M450.2 736.8h1M440.1 738.0h1M450.2 749.5h1M448.8 760.9h1M460.7 721.4h1M430.7 748.3h1M435.9 722.8h1M463.9 753.1h1M423.4 750.2h1M452.8 723.0h1M436.0 734.9h1M417.2 735.3h1M449.7 747.0h1M444.9 728.6h1M447.5 734.8h1M449.5 751.3h1M468.4 738.6h1M469.0 764.7h1M440.8 753.3h1M449.8 738.4h1M432.7 746.5h1M460.3 747.9h1M452.8 725.3h1M449.3 746.1h1M461.7 734.8h1M457.7 743.1h1M444.5 743.9h1M423.2 758.2h1M460.7 748.0h1M456.6 738.7h1M426.9 730.6h1M426.4 748.9h1M440.7 741.2h1M456.8 726.5h1M442.1 716.4h1M434.0 742.2h1M451.7 745.9h1M450.2 759.6h1M427.8 712.1h1M448.9 764.5h1M459.7 738.0h1M461.6 726.1h1M441.4 720.1h1M439.5 714.8h1M448.8 756.4h1M437.4 739.6h1M468.9 733.6h1M442.4 734.7h1M451.2 709.5h1M452.8 755.0h1M450.3 756.8h1M453.9 750.4h1M430.6 746.5h1M453.7 725.6h1M423.9 743.6h1M435.8 717.3h1M426.6 725.3h1M436.6 759.3h1M471.4 739.9h1M461.1 737.3h1M412.6 749.6h1M436.0 726.4h1M447.1 757.5h1M469.5 736.9h1M437.6 731.0h1M452.9 749.3h1M432.5 723.3h1M454.4 764.2h1M438.9 752.7h1M443.8 762.2h1M453.5 724.4h1M446.5 733.0h1M437.1 745.7h1M438.7 757.6h1M413.6 737.5h1M444.4 754.2h1M444.4 745.8h1M455.8 735.3h1M431.5 764.3h1M435.5 755.1h1M468.0 742.4h1M424.5 756.8h1M440.0 732.5h1M457.7 729.5h1M446.3 741.2h1M434.3 752.2h1M455.8 738.8h1M466.3 731.6h1M466.8 740.5h1M451.7 726.1h1M436.3 746.8h1M463.9 750.9h1M452.0 759.0h1M432.5 740.6h1M458.6 744.1h1M432.4 749.6h1M441.1 737.8h1M437.8 762.2h1M464.7 724.3h1M443.2 731.7h1M435.9 735.6h1M455.7 733.3h1M445.6 736.4h1M422.5 760.9h1M417.2 717.6h1M444.2 729.9h1M425.1 757.0h1M447.8 732.4h1M456.2 727.9h1M429.4 742.5h1M446.9 732.3h1M447.6 727.5h1M456.9 734.8h1M452.5 719.3h1M451.6 749.1h1M463.6 751.8h1M442.7 741.2h1M441.7 732.4h1M449.5 756.3h1M457.9 740.4h1M457.4 743.4h1M449.6 723.4h1M443.9 736.3h1M468.1 742.6h1M448.2 726.0h1M451.3 756.9h1M444.1 754.8h1M442.5 718.9h1M456.4 736.1h1M468.7 725.1h1M446.2 758.7h1M440.9 753.2h1M433.1 740.8h1M460.0 737.3h1M445.9 761.7h1M456.0 746.8h1M465.0 722.7h1M445.1 763.5h1M432.0 731.6h1M437.2 754.3h1M457.2 737.5h1M455.2 757.3h1M463.2 722.7h1M453.6 697.0h1M421.3 733.7h1M451.5 697.3h1M435.3 737.2h1M457.2 743.8h1M437.7 707.1h1M457.8 752.6h1M452.9 747.0h1M447.3 744.0h1M457.9 736.1h1M438.9 711.5h1M428.4 753.8h1M455.2 705.1h1M447.8 741.7h1M474.9 751.7h1M452.4 760.2h1M452.6 756.6h1M434.0 755.8h1M451.5 738.9h1M453.1 756.6h1M444.1 726.0h1M440.3 739.1h1M475.4 745.5h1M451.2 751.7h1M444.4 763.2h1M470.8 741.4h1M454.9 750.2h1M413.6 748.3h1M445.7 757.9h1M450.7 737.3h1M465.6 745.3h1M453.4 755.0h1M428.3 714.8h1M473.3 752.9h1M454.1 750.8h1M432.4 739.0h1M463.7 760.4h1M426.3 721.1h1M428.9 702.2h1M455.9 754.6h1M457.3 761.2h1M456.6 717.9h1M450.1 739.2h1M432.7 731.9h1M436.8 730.1h1M438.1 733.9h1M474.5 740.4h1M445.4 753.9h1M444.4 718.0h1M447.3 749.8h1M447.2 755.1h1M417.9 711.3h1M437.6 746.0h1M477.3 743.0h1M454.9 756.8h1M429.0 727.4h1M450.5 733.0h1M432.3 740.7h1M442.6 742.4h1M451.9 724.7h1M446.6 752.1h1M436.6 746.1h1M431.2 751.7h1M450.6 745.6h1M451.6 725.6h1M428.2 709.5h1M454.0 716.5h1M463.7 722.8h1M447.8 762.7h1M461.6 718.7h1M456.2 763.5h1M456.6 744.9h1M466.2 734.4h1M467.8 757.5h1M430.7 736.1h1M462.6 732.3h1M433.2 734.9h1M447.5 733.3h1M446.2 730.4h1M457.4 760.3h1M451.1 743.3h1M450.3 752.4h1M454.3 730.1h1M456.3 759.3h1M473.9 749.6h1M445.6 727.3h1M422.6 746.1h1M475.7 711.8h1M427.3 746.0h1M459.6 754.8h1M444.3 751.5h1M454.3 735.5h1M452.2 724.1h1M444.0 737.9h1M447.2 762.8h1M458.2 740.5h1M447.8 720.2h1M452.0 739.3h1M441.1 745.1h1M437.1 749.2h1M436.3 729.6h1M447.6 733.4h1M438.3 739.9h1M469.9 741.4h1M450.0 729.5h1M461.3 746.7h1M458.3 763.8h1M432.6 753.7h1M426.6 735.2h1M446.1 739.7h1M448.2 762.5h1M457.1 748.8h1M443.7 763.7h1M440.5 733.6h1M469.5 753.3h1M445.9 750.1h1M447.6 738.6h1M474.2 735.6h1M445.2 758.1h1M458.6 743.1h1M450.7 731.7h1M471.2 738.3h1M431.6 756.5h1M436.9 728.5h1M428.1 721.0h1M457.7 747.8h1M419.3 735.8h1M433.5 725.9h1M449.8 744.1h1M447.8 755.1h1M448.1 737.3h1M440.9 740.2h1M467.7 732.9h1M468.0 755.8h1M448.2 728.8h1M470.9 724.3h1M464.6 737.9h1M446.1 753.9h1M456.9 743.7h1M450.9 743.3h1M460.6 728.2h1M432.2 738.1h1M450.6 730.0h1M449.9 722.7h1M469.8 752.3h1M460.8 743.8h1M431.2 742.1h1M452.9 739.0h1M443.7 745.2h1M465.6 743.8h1M444.9 732.8h1M444.5 746.2h1M436.4 734.5h1M460.6 745.9h1M445.7 721.4h1M434.1 723.2h1M436.8 728.5h1M458.5 734.8h1M470.9 712.9h1M433.1 754.7h1M433.2 732.6h1M444.0 750.7h1M449.5 711.3h1M465.7 758.4h1M447.3 743.3h1M461.2 740.2h1M457.5 740.2h1M450.9 747.9h1M427.5 757.8h1M435.9 719.2h1M451.9 754.7h1M452.6 739.6h1M443.8 740.1h1M440.4 718.8h1M459.1 757.7h1M443.9 725.7h1M452.4 739.4h1M424.8 749.6h1M434.7 707.5h1M444.5 751.3h1M424.4 744.1h1M443.0 729.6h1M453.3 757.6h1M447.3 689.2h1M440.6 692.3h1M414.8 704.2h1M477.3 709.0h1M413.0 745.0h1M480.0 738.0h1" stroke="#000" stroke-width="1" fill="none"/>
<line x1="405.40" y1="633.00" x2="405.40" y2="765.40" stroke="#222" stroke-width="1" shape-rendering="crispEdges"/>
<line x1="348.40" y1="734.00" x2="484.60" y2="734.00" stroke="#222" stroke-width="1" shape-rendering="crispEdges"/>
<line x1="348.40" y1="765.40" x2="484.60" y2="765.40" stroke="#111" stroke-width="1.2" shape-rendering="crispEdges"/>
<line x1="348.40" y1="765.40" x2="348.40" y2="769.40" stroke="#222" stroke-width="0.9" shape-rendering="crispEdges"/>
<line x1="358.65" y1="765.40" x2="358.65" y2="767.70" stroke="#222" stroke-width="0.9" shape-rendering="crispEdges"/>
<line x1="364.65" y1="765.40" x2="364.65" y2="767.70" stroke="#222" stroke-width="0.9" shape-rendering="crispEdges"/>
<line x1="368.90" y1="765.40" x2="368.90" y2="767.70" stroke="#222" stroke-width="0.9" shape-rendering="crispEdges"/>
<line x1="372.20" y1="765.40" x2="372.20" y2="767.70" stroke="#222" stroke-width="0.9" shape-rendering="crispEdges"/>
<line x1="374.90" y1="765.40" x2="374.90" y2="767.70" stroke="#222" stroke-width="0.9" shape-rendering="crispEdges"/>
<line x1="377.18" y1="765.40" x2="377.18" y2="767.70" stroke="#222" stroke-width="0.9" shape-rendering="crispEdges"/>
<line x1="379.15" y1="765.40" x2="379.15" y2="767.70" stroke="#222" stroke-width="0.9" shape-rendering="crispEdges"/>
<line x1="380.89" y1="765.40" x2="380.89" y2="767.70" stroke="#222" stroke-width="0.9" shape-rendering="crispEdges"/>
<line x1="382.45" y1="765.40" x2="382.45" y2="769.40" stroke="#222" stroke-width="0.9" shape-rendering="crispEdges"/>
<line x1="392.70" y1="765.40" x2="392.70" y2="767.70" stroke="#222" stroke-width="0.9" shape-rendering="crispEdges"/>
<line x1="398.70" y1="765.40" x2="398.70" y2="767.70" stroke="#222" stroke-width="0.9" shape-rendering="crispEdges"/>
<line x1="402.95" y1="765.40" x2="402.95" y2="767.70" stroke="#222" stroke-width="0.9" shape-rendering="crispEdges"/>
<line x1="406.25" y1="765.40" x2="406.25" y2="767.70" stroke="#222" stroke-width="0.9" shape-rendering="crispEdges"/>
<line x1="408.95" y1="765.40" x2="408.95" y2="767.70" stroke="#222" stroke-width="0.9" shape-rendering="crispEdges"/>
<line x1="411.23" y1="765.40" x2="411.23" y2="767.70" stroke="#222" stroke-width="0.9" shape-rendering="crispEdges"/>
<line x1="413.20" y1="765.40" x2="413.20" y2="767.70" stroke="#222" stroke-width="0.9" shape-rendering="crispEdges"/>
<line x1="414.94" y1="765.40" x2="414.94" y2="767.70" stroke="#222" stroke-width="0.9" shape-rendering="crispEdges"/>
<line x1="416.50" y1="765.40" x2="416.50" y2="769.40" stroke="#222" stroke-width="0.9" shape-rendering="crispEdges"/>
<line x1="426.75" y1="765.40" x2="426.75" y2="767.70" stroke="#222" stroke-width="0.9" shape-rendering="crispEdges"/>
<line x1="432.75" y1="765.40" x2="432.75" y2="767.70" stroke="#222" stroke-width="0.9" shape-rendering="crispEdges"/>
<line x1="437.00" y1="765.40" x2="437.00" y2="767.70" stroke="#222" stroke-width="0.9" shape-rendering="crispEdges"/>
<line x1="440.30" y1="765.40" x2="440.30" y2="767.70" stroke="#222" stroke-width="0.9" shape-rendering="crispEdges"/>
<line x1="443.00" y1="765.40" x2="443.00" y2="767.70" stroke="#222" stroke-width="0.9" shape-rendering="crispEdges"/>
<line x1="445.28" y1="765.40" x2="445.28" y2="767.70" stroke="#222" stroke-width="0.9" shape-rendering="crispEdges"/>
<line x1="447.25" y1="765.40" x2="447.25" y2="767.70" stroke="#222" stroke-width="0.9" shape-rendering="crispEdges"/>
<line x1="448.99" y1="765.40" x2="448.99" y2="767.70" stroke="#222" stroke-width="0.9" shape-rendering="crispEdges"/>
<line x1="450.55" y1="765.40" x2="450.55" y2="769.40" stroke="#222" stroke-width="0.9" shape-rendering="crispEdges"/>
<line x1="460.80" y1="765.40" x2="460.80" y2="767.70" stroke="#222" stroke-width="0.9" shape-rendering="crispEdges"/>
<line x1="466.80" y1="765.40" x2="466.80" y2="767.70" stroke="#222" stroke-width="0.9" shape-rendering="crispEdges"/>
<line x1="471.05" y1="765.40" x2="471.05" y2="767.70" stroke="#222" stroke-width="0.9" shape-rendering="crispEdges"/>
<line x1="474.35" y1="765.40" x2="474.35" y2="767.70" stroke="#222" stroke-width="0.9" shape-rendering="crispEdges"/>
<line x1="477.05" y1="765.40" x2="477.05" y2="767.70" stroke="#222" stroke-width="0.9" shape-rendering="crispEdges"/>
<line x1="479.33" y1="765.40" x2="479.33" y2="767.70" stroke="#222" stroke-width="0.9" shape-rendering="crispEdges"/>
<line x1="481.30" y1="765.40" x2="481.30" y2="767.70" stroke="#222" stroke-width="0.9" shape-rendering="crispEdges"/>
<line x1="483.04" y1="765.40" x2="483.04" y2="767.70" stroke="#222" stroke-width="0.9" shape-rendering="crispEdges"/>
<line x1="484.60" y1="765.40" x2="484.60" y2="769.40" stroke="#222" stroke-width="0.9" shape-rendering="crispEdges"/>
<line x1="344.90" y1="765.40" x2="348.40" y2="765.40" stroke="#333" stroke-width="0.8" shape-rendering="crispEdges"/>
<line x1="346.40" y1="755.44" x2="348.40" y2="755.44" stroke="#333" stroke-width="0.8" shape-rendering="crispEdges"/>
<line x1="346.40" y1="749.61" x2="348.40" y2="749.61" stroke="#333" stroke-width="0.8" shape-rendering="crispEdges"/>
<line x1="346.40" y1="745.47" x2="348.40" y2="745.47" stroke="#333" stroke-width="0.8" shape-rendering="crispEdges"/>
<line x1="346.40" y1="742.26" x2="348.40" y2="742.26" stroke="#333" stroke-width="0.8" shape-rendering="crispEdges"/>
<line x1="346.40" y1="739.64" x2="348.40" y2="739.64" stroke="#333" stroke-width="0.8" shape-rendering="crispEdges"/>
<line x1="346.40" y1="737.43" x2="348.40" y2="737.43" stroke="#333" stroke-width="0.8" shape-rendering="crispEdges"/>
<line x1="346.40" y1="735.51" x2="348.40" y2="735.51" stroke="#333" stroke-width="0.8" shape-rendering="crispEdges"/>
<line x1="346.40" y1="733.81" x2="348.40" y2="733.81" stroke="#333" stroke-width="0.8" shape-rendering="crispEdges"/>
<line x1="344.90" y1="732.30" x2="348.40" y2="732.30" stroke="#333" stroke-width="0.8" shape-rendering="crispEdges"/>
<line x1="346.40" y1="722.34" x2="348.40" y2="722.34" stroke="#333" stroke-width="0.8" shape-rendering="crispEdges"/>
<line x1="346.40" y1="716.51" x2="348.40" y2="716.51" stroke="#333" stroke-width="0.8" shape-rendering="crispEdges"/>
<line x1="346.40" y1="712.37" x2="348.40" y2="712.37" stroke="#333" stroke-width="0.8" shape-rendering="crispEdges"/>
<line x1="346.40" y1="709.16" x2="348.40" y2="709.16" stroke="#333" stroke-width="0.8" shape-rendering="crispEdges"/>
<line x1="346.40" y1="706.54" x2="348.40" y2="706.54" stroke="#333" stroke-width="0.8" shape-rendering="crispEdges"/>
<line x1="346.40" y1="704.33" x2="348.40" y2="704.33" stroke="#333" stroke-width="0.8" shape-rendering="crispEdges"/>
<line x1="346.40" y1="702.41" x2="348.40" y2="702.41" stroke="#333" stroke-width="0.8" shape-rendering="crispEdges"/>
<line x1="346.40" y1="700.71" x2="348.40" y2="700.71" stroke="#333" stroke-width="0.8" shape-rendering="crispEdges"/>
<line x1="344.90" y1="699.20" x2="348.40" y2="699.20" stroke="#333" stroke-width="0.8" shape-rendering="crispEdges"/>
<line x1="346.40" y1="689.24" x2="348.40" y2="689.24" stroke="#333" stroke-width="0.8" shape-rendering="crispEdges"/>
<line x1="346.40" y1="683.41" x2="348.40" y2="683.41" stroke="#333" stroke-width="0.8" shape-rendering="crispEdges"/>
<line x1="346.40" y1="679.27" x2="348.40" y2="679.27" stroke="#333" stroke-width="0.8" shape-rendering="crispEdges"/>
<line x1="346.40" y1="676.06" x2="348.40" y2="676.06" stroke="#333" stroke-width="0.8" shape-rendering="crispEdges"/>
<line x1="346.40" y1="673.44" x2="348.40" y2="673.44" stroke="#333" stroke-width="0.8" shape-rendering="crispEdges"/>
<line x1="346.40" y1="671.23" x2="348.40" y2="671.23" stroke="#333" stroke-width="0.8" shape-rendering="crispEdges"/>
<line x1="346.40" y1="669.31" x2="348.40" y2="669.31" stroke="#333" stroke-width="0.8" shape-rendering="crispEdges"/>
<line x1="346.40" y1="667.61" x2="348.40" y2="667.61" stroke="#333" stroke-width="0.8" shape-rendering="crispEdges"/>
<line x1="344.90" y1="666.10" x2="348.40" y2="666.10" stroke="#333" stroke-width="0.8" shape-rendering="crispEdges"/>
<line x1="346.40" y1="656.14" x2="348.40" y2="656.14" stroke="#333" stroke-width="0.8" shape-rendering="crispEdges"/>
<line x1="346.40" y1="650.31" x2="348.40" y2="650.31" stroke="#333" stroke-width="0.8" shape-rendering="crispEdges"/>
<line x1="346.40" y1="646.17" x2="348.40" y2="646.17" stroke="#333" stroke-width="0.8" shape-rendering="crispEdges"/>
<line x1="346.40" y1="642.96" x2="348.40" y2="642.96" stroke="#333" stroke-width="0.8" shape-rendering="crispEdges"/>
<line x1="346.40" y1="640.34" x2="348.40" y2="640.34" stroke="#333" stroke-width="0.8" shape-rendering="crispEdges"/>
<line x1="346.40" y1="638.13" x2="348.40" y2="638.13" stroke="#333" stroke-width="0.8" shape-rendering="crispEdges"/>
<line x1="346.40" y1="636.21" x2="348.40" y2="636.21" stroke="#333" stroke-width="0.8" shape-rendering="crispEdges"/>
<line x1="346.40" y1="634.51" x2="348.40" y2="634.51" stroke="#333" stroke-width="0.8" shape-rendering="crispEdges"/>
<line x1="344.90" y1="633.00" x2="348.40" y2="633.00" stroke="#333" stroke-width="0.8" shape-rendering="crispEdges"/>
<text x="416.00" y="626.30" font-size="18.8" text-anchor="middle" class="s" font-weight="normal" fill="#111" stroke="#111" stroke-width="0.25">T-bet-RV</text>
<text x="478.50" y="654.00" font-size="23" text-anchor="end" class="s" font-weight="normal" fill="#111" stroke="#111" stroke-width="0.25">30%</text>
<text transform="translate(334,696.5) rotate(-90)" font-size="15.6" text-anchor="middle" class="s" fill="#111" stroke="#111" stroke-width="0.25">NK1.1</text>
<text x="416.00" y="790.60" font-size="16" text-anchor="middle" class="s" font-weight="normal" fill="#111" stroke="#111" stroke-width="0.25">GFP</text>
</svg>
</body></html>
